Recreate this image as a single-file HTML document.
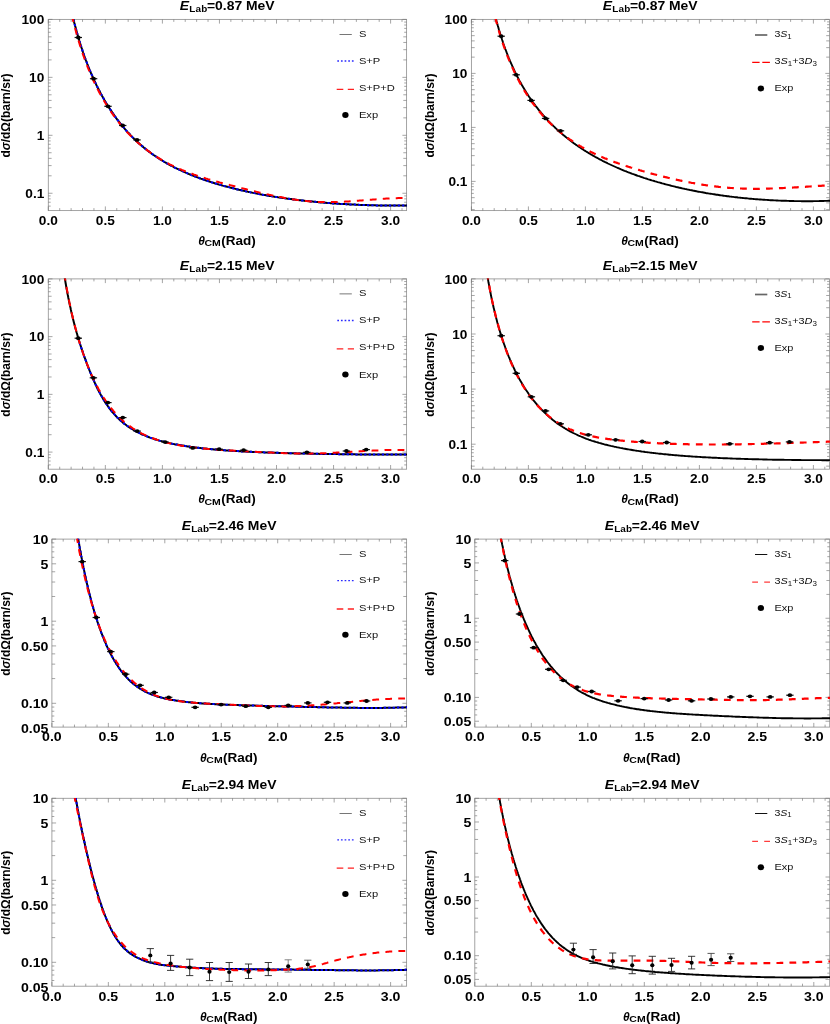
<!DOCTYPE html>
<html><head><meta charset="utf-8"><title>Differential cross sections</title>
<style>html,body{margin:0;padding:0;background:#fff}svg{display:block;will-change:transform;font-family:'Liberation Sans', sans-serif}</style></head><body>
<svg width="830" height="1024" viewBox="0 0 830 1024">
<rect width="830" height="1024" fill="#fff"/>
<g>
<clipPath id="c11"><rect x="47.9" y="19" width="359.1" height="192"/></clipPath>
<g stroke="#949494" stroke-width="0.85" fill="none">
<rect x="48.3" y="19.4" width="358.3" height="191.2"/>
<path d="M48.3 210.6v-4.2M48.3 19.4v4.2M59.71 210.6v-2.5M59.71 19.4v2.5M71.12 210.6v-2.5M71.12 19.4v2.5M82.53 210.6v-2.5M82.53 19.4v2.5M93.94 210.6v-2.5M93.94 19.4v2.5M105.35 210.6v-4.2M105.35 19.4v4.2M116.76 210.6v-2.5M116.76 19.4v2.5M128.17 210.6v-2.5M128.17 19.4v2.5M139.58 210.6v-2.5M139.58 19.4v2.5M150.99 210.6v-2.5M150.99 19.4v2.5M162.4 210.6v-4.2M162.4 19.4v4.2M173.81 210.6v-2.5M173.81 19.4v2.5M185.22 210.6v-2.5M185.22 19.4v2.5M196.63 210.6v-2.5M196.63 19.4v2.5M208.04 210.6v-2.5M208.04 19.4v2.5M219.45 210.6v-4.2M219.45 19.4v4.2M230.86 210.6v-2.5M230.86 19.4v2.5M242.27 210.6v-2.5M242.27 19.4v2.5M253.68 210.6v-2.5M253.68 19.4v2.5M265.09 210.6v-2.5M265.09 19.4v2.5M276.5 210.6v-4.2M276.5 19.4v4.2M287.91 210.6v-2.5M287.91 19.4v2.5M299.32 210.6v-2.5M299.32 19.4v2.5M310.73 210.6v-2.5M310.73 19.4v2.5M322.14 210.6v-2.5M322.14 19.4v2.5M333.55 210.6v-4.2M333.55 19.4v4.2M344.96 210.6v-2.5M344.96 19.4v2.5M356.37 210.6v-2.5M356.37 19.4v2.5M367.78 210.6v-2.5M367.78 19.4v2.5M379.19 210.6v-2.5M379.19 19.4v2.5M390.6 210.6v-4.2M390.6 19.4v4.2M402.01 210.6v-2.5M402.01 19.4v2.5M48.3 206.11h2.4M406.6 206.11h-2.4M48.3 202.23h2.4M406.6 202.23h-2.4M48.3 198.87h2.4M406.6 198.87h-2.4M48.3 195.9h2.4M406.6 195.9h-2.4M48.3 193.25h4.2M406.6 193.25h-4.2M48.3 175.81h3.3M406.6 175.81h-3.3M48.3 165.6h3.3M406.6 165.6h-3.3M48.3 158.36h3.3M406.6 158.36h-3.3M48.3 152.74h3.3M406.6 152.74h-3.3M48.3 148.16h2.4M406.6 148.16h-2.4M48.3 144.28h2.4M406.6 144.28h-2.4M48.3 140.92h2.4M406.6 140.92h-2.4M48.3 137.95h2.4M406.6 137.95h-2.4M48.3 135.3h4.2M406.6 135.3h-4.2M48.3 117.86h3.3M406.6 117.86h-3.3M48.3 107.65h3.3M406.6 107.65h-3.3M48.3 100.41h3.3M406.6 100.41h-3.3M48.3 94.79h3.3M406.6 94.79h-3.3M48.3 90.21h2.4M406.6 90.21h-2.4M48.3 86.33h2.4M406.6 86.33h-2.4M48.3 82.97h2.4M406.6 82.97h-2.4M48.3 80h2.4M406.6 80h-2.4M48.3 77.35h4.2M406.6 77.35h-4.2M48.3 59.91h3.3M406.6 59.91h-3.3M48.3 49.7h3.3M406.6 49.7h-3.3M48.3 42.46h3.3M406.6 42.46h-3.3M48.3 36.84h3.3M406.6 36.84h-3.3M48.3 32.26h2.4M406.6 32.26h-2.4M48.3 28.38h2.4M406.6 28.38h-2.4M48.3 25.02h2.4M406.6 25.02h-2.4M48.3 22.05h2.4M406.6 22.05h-2.4M48.3 19.4h4.2M406.6 19.4h-4.2" stroke="#757575" stroke-width="0.65"/>
</g>
<g clip-path="url(#c11)" fill="none" stroke-linejoin="round">
<path d="M72.5 15.4L72.8 16.6L73.1 17.7L73.4 18.9L73.7 20.1L74.0 21.3L74.2 22.4L74.5 23.6L74.8 24.8L75.1 25.9L75.5 27.1L75.8 28.3L76.1 29.4L76.4 30.6L76.7 31.7L77.0 32.9L77.4 34.1L77.7 35.2L78.0 36.4L78.4 37.5L78.7 38.7L79.1 39.8L79.4 41.0L79.8 42.1L80.1 43.3L80.5 44.4L80.8 45.6L81.2 46.7L81.6 47.9L82.0 49.0L82.3 50.2L82.7 51.3L83.1 52.5L83.5 53.6L83.9 54.7L84.3 55.9L84.7 57.0L85.1 58.1L85.5 59.3L85.9 60.4L86.4 61.5L86.8 62.7L87.2 63.8L87.7 64.9L88.1 66.0L88.5 67.1L89.0 68.3L89.4 69.4L89.9 70.5L90.4 71.6L90.8 72.7L91.3 73.8L91.8 74.9L92.3 76.0L92.8 77.1L93.2 78.2L93.7 79.3L94.2 80.4L94.8 81.5L95.3 82.6L95.8 83.7L96.3 84.8L96.8 85.9L97.4 87.0L97.9 88.0L98.5 89.1L99.0 90.2L99.6 91.2L100.1 92.3L100.7 93.4L101.3 94.4L101.8 95.5L102.4 96.5L103.0 97.6L103.6 98.6L104.2 99.7L104.8 100.7L105.4 101.8L106.0 102.8L106.7 103.8L107.3 104.9L107.9 105.9L108.6 106.9L109.2 107.9L109.9 108.9L110.5 109.9L111.2 110.9L111.9 111.9L112.5 112.9L113.2 113.9L113.9 114.9L114.6 115.9L115.3 116.9L116.0 117.9L116.7 118.8L117.5 119.8L118.2 120.7L118.9 121.7L119.7 122.7L120.4 123.6L121.2 124.5L121.9 125.5L122.7 126.4L123.5 127.3L124.3 128.2L125.0 129.2L125.8 130.1L126.6 131.0L127.4 131.9L128.3 132.7L129.1 133.6L129.9 134.5L130.7 135.4L131.6 136.2L132.4 137.1L133.3 138.0L134.1 138.8L135.0 139.6L135.9 140.5L136.7 141.3L137.6 142.1L138.5 142.9L139.4 143.7L140.3 144.5L141.2 145.3L142.1 146.1L143.1 146.9L144.0 147.7L144.9 148.4L145.9 149.2L146.8 149.9L147.7 150.7L148.7 151.4L149.7 152.1L150.6 152.8L151.6 153.6L152.6 154.3L153.6 155.0L154.6 155.6L155.6 156.3L156.6 157.0L157.6 157.7L158.6 158.3L159.6 159.0L160.6 159.6L161.6 160.2L162.7 160.9L163.7 161.5L164.7 162.1L165.8 162.7L166.8 163.3L167.9 163.9L168.9 164.5L170.0 165.1L171.0 165.6L172.1 166.2L173.2 166.7L174.2 167.3L175.3 167.8L176.4 168.4L177.5 168.9L178.6 169.4L179.7 169.9L180.8 170.4L181.9 170.9L183.0 171.4L184.1 171.9L185.2 172.4L186.3 172.9L187.4 173.3L188.5 173.8L189.6 174.3L190.7 174.7L191.8 175.2L192.9 175.6L194.1 176.1L195.2 176.5L196.3 176.9L197.4 177.4L198.6 177.8L199.7 178.2L200.8 178.6L202.0 179.0L203.1 179.4L204.2 179.8L205.4 180.2L206.5 180.6L207.7 181.0L208.8 181.3L210.0 181.7L211.1 182.1L212.3 182.5L213.4 182.8L214.6 183.2L215.7 183.5L216.9 183.9L218.0 184.2L219.2 184.6L220.3 184.9L221.5 185.2L222.6 185.6L223.8 185.9L225.0 186.2L226.1 186.5L227.3 186.8L228.5 187.1L229.6 187.4L230.8 187.7L232.0 188.0L233.1 188.3L234.3 188.6L235.5 188.9L236.6 189.2L237.8 189.5L239.0 189.8L240.2 190.0L241.3 190.3L242.5 190.6L243.7 190.8L244.9 191.1L246.0 191.4L247.2 191.6L248.4 191.9L249.6 192.1L250.7 192.4L251.9 192.6L253.1 192.9L254.3 193.1L255.5 193.3L256.7 193.6L257.8 193.8L259.0 194.0L260.2 194.2L261.4 194.5L262.6 194.7L263.8 194.9L264.9 195.1L266.1 195.3L267.3 195.5L268.5 195.7L269.7 195.9L270.9 196.1L272.1 196.3L273.3 196.5L274.4 196.7L275.6 196.9L276.8 197.1L278.0 197.3L279.2 197.4L280.4 197.6L281.6 197.8L282.8 198.0L284.0 198.1L285.2 198.3L286.4 198.5L287.6 198.7L288.8 198.8L289.9 199.0L291.1 199.1L292.3 199.3L293.5 199.4L294.7 199.6L295.9 199.7L297.1 199.9L298.3 200.0L299.5 200.2L300.7 200.3L301.9 200.5L303.1 200.6L304.3 200.7L305.5 200.9L306.7 201.0L307.9 201.1L309.1 201.2L310.3 201.4L311.5 201.5L312.7 201.6L313.9 201.7L315.1 201.8L316.3 202.0L317.5 202.1L318.7 202.2L319.9 202.3L321.1 202.4L322.3 202.5L323.5 202.6L324.7 202.7L325.9 202.8L327.1 202.9L328.3 203.0L329.5 203.1L330.7 203.2L331.9 203.3L333.1 203.4L334.3 203.4L335.5 203.5L336.7 203.6L337.9 203.7L339.1 203.8L340.3 203.9L341.5 203.9L342.7 204.0L343.9 204.1L345.1 204.1L346.3 204.2L347.5 204.3L348.7 204.3L349.9 204.4L351.1 204.5L352.3 204.5L353.5 204.6L354.7 204.6L355.9 204.7L357.1 204.8L358.4 204.8L359.6 204.9L360.8 204.9L362.0 204.9L363.2 205.0L364.4 205.0L365.6 205.1L366.8 205.1L368.0 205.2L369.2 205.2L370.4 205.2L371.6 205.3L372.8 205.3L374.0 205.3L375.2 205.3L376.4 205.4L377.6 205.4L378.8 205.4L380.0 205.4L381.2 205.5L382.4 205.5L383.6 205.5L384.8 205.5L386.1 205.5L387.3 205.5L388.5 205.5L389.7 205.6L390.9 205.6L392.1 205.6L393.3 205.6L394.5 205.6L395.7 205.6L396.9 205.6L398.1 205.6L399.3 205.6L400.5 205.6L401.7 205.6L402.9 205.5L404.1 205.5L405.3 205.5L406.5 205.5L407.7 205.5" stroke="#000" stroke-width="2.0"/>
<path d="M72.5 15.4L72.8 16.6L73.1 17.7L73.4 18.9L73.7 20.1L74.0 21.3L74.2 22.4L74.5 23.6L74.8 24.8L75.1 25.9L75.5 27.1L75.8 28.3L76.1 29.4L76.4 30.6L76.7 31.7L77.0 32.9L77.4 34.1L77.7 35.2L78.0 36.4L78.4 37.5L78.7 38.7L79.1 39.8L79.4 41.0L79.8 42.1L80.1 43.3L80.5 44.4L80.8 45.6L81.2 46.7L81.6 47.9L82.0 49.0L82.3 50.2L82.7 51.3L83.1 52.5L83.5 53.6L83.9 54.7L84.3 55.9L84.7 57.0L85.1 58.1L85.5 59.3L85.9 60.4L86.4 61.5L86.8 62.7L87.2 63.8L87.7 64.9L88.1 66.0L88.5 67.1L89.0 68.3L89.4 69.4L89.9 70.5L90.4 71.6L90.8 72.7L91.3 73.8L91.8 74.9L92.3 76.0L92.8 77.1L93.2 78.2L93.7 79.3L94.2 80.4L94.8 81.5L95.3 82.6L95.8 83.7L96.3 84.8L96.8 85.9L97.4 87.0L97.9 88.0L98.5 89.1L99.0 90.2L99.6 91.2L100.1 92.3L100.7 93.4L101.3 94.4L101.8 95.5L102.4 96.5L103.0 97.6L103.6 98.6L104.2 99.7L104.8 100.7L105.4 101.8L106.0 102.8L106.7 103.8L107.3 104.9L107.9 105.9L108.6 106.9L109.2 107.9L109.9 108.9L110.5 109.9L111.2 110.9L111.9 111.9L112.5 112.9L113.2 113.9L113.9 114.9L114.6 115.9L115.3 116.9L116.0 117.9L116.7 118.8L117.5 119.8L118.2 120.7L118.9 121.7L119.7 122.7L120.4 123.6L121.2 124.5L121.9 125.5L122.7 126.4L123.5 127.3L124.3 128.2L125.0 129.2L125.8 130.1L126.6 131.0L127.4 131.9L128.3 132.7L129.1 133.6L129.9 134.5L130.7 135.4L131.6 136.2L132.4 137.1L133.3 138.0L134.1 138.8L135.0 139.6L135.9 140.5L136.7 141.3L137.6 142.1L138.5 142.9L139.4 143.7L140.3 144.5L141.2 145.3L142.1 146.1L143.1 146.9L144.0 147.7L144.9 148.4L145.9 149.2L146.8 149.9L147.7 150.7L148.7 151.4L149.7 152.1L150.6 152.8L151.6 153.6L152.6 154.3L153.6 155.0L154.6 155.6L155.6 156.3L156.6 157.0L157.6 157.7L158.6 158.3L159.6 159.0L160.6 159.6L161.6 160.2L162.7 160.9L163.7 161.5L164.7 162.1L165.8 162.7L166.8 163.3L167.9 163.9L168.9 164.5L170.0 165.1L171.0 165.6L172.1 166.2L173.2 166.7L174.2 167.3L175.3 167.8L176.4 168.4L177.5 168.9L178.6 169.4L179.7 169.9L180.8 170.4L181.9 170.9L183.0 171.4L184.1 171.9L185.2 172.4L186.3 172.9L187.4 173.3L188.5 173.8L189.6 174.3L190.7 174.7L191.8 175.2L192.9 175.6L194.1 176.1L195.2 176.5L196.3 176.9L197.4 177.4L198.6 177.8L199.7 178.2L200.8 178.6L202.0 179.0L203.1 179.4L204.2 179.8L205.4 180.2L206.5 180.6L207.7 181.0L208.8 181.3L210.0 181.7L211.1 182.1L212.3 182.5L213.4 182.8L214.6 183.2L215.7 183.5L216.9 183.9L218.0 184.2L219.2 184.6L220.3 184.9L221.5 185.2L222.6 185.6L223.8 185.9L225.0 186.2L226.1 186.5L227.3 186.8L228.5 187.1L229.6 187.4L230.8 187.7L232.0 188.0L233.1 188.3L234.3 188.6L235.5 188.9L236.6 189.2L237.8 189.5L239.0 189.8L240.2 190.0L241.3 190.3L242.5 190.6L243.7 190.8L244.9 191.1L246.0 191.4L247.2 191.6L248.4 191.9L249.6 192.1L250.7 192.4L251.9 192.6L253.1 192.9L254.3 193.1L255.5 193.3L256.7 193.6L257.8 193.8L259.0 194.0L260.2 194.2L261.4 194.5L262.6 194.7L263.8 194.9L264.9 195.1L266.1 195.3L267.3 195.5L268.5 195.7L269.7 195.9L270.9 196.1L272.1 196.3L273.3 196.5L274.4 196.7L275.6 196.9L276.8 197.1L278.0 197.3L279.2 197.4L280.4 197.6L281.6 197.8L282.8 198.0L284.0 198.1L285.2 198.3L286.4 198.5L287.6 198.7L288.8 198.8L289.9 199.0L291.1 199.1L292.3 199.3L293.5 199.4L294.7 199.6L295.9 199.7L297.1 199.9L298.3 200.0L299.5 200.2L300.7 200.3L301.9 200.5L303.1 200.6L304.3 200.7L305.5 200.9L306.7 201.0L307.9 201.1L309.1 201.2L310.3 201.4L311.5 201.5L312.7 201.6L313.9 201.7L315.1 201.8L316.3 202.0L317.5 202.1L318.7 202.2L319.9 202.3L321.1 202.4L322.3 202.5L323.5 202.6L324.7 202.7L325.9 202.8L327.1 202.9L328.3 203.0L329.5 203.1L330.7 203.2L331.9 203.3L333.1 203.4L334.3 203.4L335.5 203.5L336.7 203.6L337.9 203.7L339.1 203.8L340.3 203.9L341.5 203.9L342.7 204.0L343.9 204.1L345.1 204.1L346.3 204.2L347.5 204.3L348.7 204.3L349.9 204.4L351.1 204.5L352.3 204.5L353.5 204.6L354.7 204.6L355.9 204.7L357.1 204.8L358.4 204.8L359.6 204.9L360.8 204.9L362.0 204.9L363.2 205.0L364.4 205.0L365.6 205.1L366.8 205.1L368.0 205.2L369.2 205.2L370.4 205.2L371.6 205.3L372.8 205.3L374.0 205.3L375.2 205.3L376.4 205.4L377.6 205.4L378.8 205.4L380.0 205.4L381.2 205.5L382.4 205.5L383.6 205.5L384.8 205.5L386.1 205.5L387.3 205.5L388.5 205.5L389.7 205.6L390.9 205.6L392.1 205.6L393.3 205.6L394.5 205.6L395.7 205.6L396.9 205.6L398.1 205.6L399.3 205.6L400.5 205.6L401.7 205.6L402.9 205.5L404.1 205.5L405.3 205.5L406.5 205.5L407.7 205.5" stroke="#0000ff" stroke-width="2.0" stroke-dasharray="2.2 2.2"/>
<path d="M71.9 15.4L72.1 16.6L72.4 17.7L72.7 18.9L73.0 20.1L73.3 21.2L73.6 22.4L73.9 23.6L74.2 24.8L74.5 25.9L74.8 27.1L75.1 28.3L75.4 29.4L75.7 30.6L76.0 31.7L76.3 32.9L76.6 34.1L77.0 35.2L77.3 36.4L77.6 37.5L78.0 38.7L78.3 39.9L78.7 41.0L79.0 42.2L79.4 43.3L79.7 44.5L80.1 45.6L80.4 46.8L80.8 47.9L81.2 49.1L81.6 50.2L81.9 51.3L82.3 52.5L82.7 53.6L83.1 54.8L83.5 55.9L83.9 57.0L84.3 58.2L84.7 59.3L85.1 60.4L85.6 61.6L86.0 62.7L86.4 63.8L86.8 64.9L87.3 66.1L87.7 67.2L88.2 68.3L88.6 69.4L89.1 70.5L89.5 71.7L90.0 72.8L90.5 73.9L91.0 75.0L91.4 76.1L91.9 77.2L92.4 78.3L92.9 79.4L93.4 80.5L93.9 81.6L94.4 82.7L95.0 83.8L95.5 84.8L96.0 85.9L96.5 87.0L97.1 88.1L97.6 89.2L98.2 90.2L98.7 91.3L99.3 92.4L99.9 93.4L100.4 94.5L101.0 95.5L101.6 96.6L102.2 97.6L102.8 98.7L103.4 99.7L104.0 100.8L104.6 101.8L105.2 102.8L105.9 103.9L106.5 104.9L107.1 105.9L107.8 106.9L108.4 108.0L109.1 109.0L109.8 110.0L110.4 111.0L111.1 112.0L111.8 113.0L112.5 113.9L113.2 114.9L113.9 115.9L114.6 116.9L115.3 117.9L116.0 118.8L116.7 119.8L117.5 120.7L118.2 121.7L119.0 122.6L119.7 123.6L120.5 124.5L121.3 125.4L122.0 126.4L122.8 127.3L123.6 128.2L124.4 129.1L125.2 130.0L126.0 130.9L126.8 131.8L127.6 132.7L128.5 133.5L129.3 134.4L130.1 135.3L131.0 136.1L131.8 137.0L132.7 137.8L133.6 138.7L134.4 139.5L135.3 140.3L136.2 141.1L137.1 141.9L138.0 142.7L138.9 143.5L139.8 144.3L140.7 145.1L141.7 145.9L142.6 146.6L143.5 147.4L144.5 148.1L145.4 148.9L146.4 149.6L147.3 150.3L148.3 151.1L149.3 151.8L150.3 152.5L151.2 153.2L152.2 153.9L153.2 154.5L154.2 155.2L155.2 155.9L156.2 156.5L157.3 157.2L158.3 157.8L159.3 158.4L160.3 159.1L161.4 159.7L162.4 160.3L163.5 160.9L164.5 161.5L165.6 162.1L166.6 162.6L167.7 163.2L168.8 163.8L169.8 164.3L170.9 164.8L172.0 165.4L173.1 165.9L174.2 166.4L175.3 166.9L176.3 167.4L177.4 167.9L178.5 168.4L179.6 168.9L180.8 169.4L181.9 169.9L183.0 170.3L184.1 170.8L185.2 171.2L186.3 171.7L187.5 172.1L188.6 172.6L189.7 173.0L190.8 173.4L192.0 173.8L193.1 174.2L194.2 174.6L195.4 175.0L196.5 175.4L197.7 175.8L198.8 176.2L199.9 176.6L201.1 176.9L202.2 177.3L203.4 177.7L204.5 178.0L205.7 178.4L206.8 178.7L208.0 179.1L209.1 179.4L210.3 179.8L211.5 180.1L212.6 180.4L213.8 180.8L214.9 181.1L216.1 181.4L217.3 181.7L218.4 182.0L219.6 182.4L220.7 182.7L221.9 183.0L223.1 183.3L224.2 183.6L225.4 183.9L226.6 184.2L227.7 184.5L228.9 184.8L230.1 185.1L231.2 185.4L232.4 185.7L233.6 186.0L234.7 186.3L235.9 186.6L237.1 186.9L238.2 187.2L239.4 187.5L240.6 187.8L241.7 188.1L242.9 188.4L244.1 188.7L245.2 189.0L246.4 189.3L247.6 189.6L248.8 189.9L249.9 190.2L251.1 190.5L252.3 190.8L253.4 191.1L254.6 191.3L255.8 191.6L256.9 191.9L258.1 192.2L259.3 192.5L260.5 192.7L261.6 193.0L262.8 193.3L264.0 193.6L265.2 193.8L266.3 194.1L267.5 194.4L268.7 194.6L269.9 194.9L271.0 195.1L272.2 195.4L273.4 195.6L274.6 195.9L275.8 196.1L276.9 196.4L278.1 196.6L279.3 196.9L280.5 197.1L281.7 197.3L282.8 197.5L284.0 197.8L285.2 198.0L286.4 198.2L287.6 198.4L288.8 198.6L290.0 198.8L291.2 199.0L292.3 199.2L293.5 199.4L294.7 199.5L295.9 199.7L297.1 199.9L298.3 200.1L299.5 200.2L300.7 200.4L301.9 200.5L303.1 200.7L304.3 200.8L305.5 200.9L306.7 201.1L307.9 201.2L309.1 201.3L310.3 201.4L311.5 201.5L312.7 201.6L313.9 201.7L315.1 201.7L316.3 201.8L317.5 201.9L318.7 201.9L319.9 202.0L321.1 202.0L322.3 202.1L323.5 202.1L324.7 202.1L325.9 202.1L327.1 202.1L328.3 202.1L329.5 202.1L330.7 202.1L332.0 202.1L333.2 202.1L334.4 202.1L335.6 202.0L336.8 202.0L338.0 201.9L339.2 201.9L340.4 201.8L341.6 201.8L342.8 201.7L344.0 201.7L345.2 201.6L346.4 201.5L347.6 201.5L348.8 201.4L350.0 201.3L351.2 201.2L352.4 201.1L353.6 201.1L354.8 201.0L356.0 200.9L357.2 200.8L358.4 200.7L359.6 200.6L360.8 200.5L362.0 200.4L363.2 200.3L364.4 200.2L365.6 200.1L366.8 200.0L368.0 199.9L369.2 199.8L370.4 199.8L371.6 199.7L372.8 199.6L374.0 199.5L375.2 199.4L376.4 199.3L377.6 199.2L378.8 199.1L380.0 199.0L381.3 198.9L382.5 198.9L383.7 198.8L384.9 198.7L386.1 198.6L387.3 198.6L388.5 198.5L389.7 198.4L390.9 198.4L392.1 198.3L393.3 198.3L394.5 198.2L395.7 198.2L396.9 198.2L398.1 198.1L399.3 198.1L400.5 198.1L401.7 198.1L402.9 198.1L404.1 198.0L405.3 198.1L406.5 198.1L407.7 198.1" stroke="#ff0000" stroke-width="2.0" stroke-dasharray="6.8 6.2"/>
</g>
<g stroke="#222" stroke-width="0.9" fill="#000">
<path d="M74.6 37.5H82" stroke="#111" stroke-width="1.2"/>
<ellipse cx="78.3" cy="37.5" rx="2.3" ry="1.9" stroke="none"/>
<path d="M89.9 78.7H97.3" stroke="#111" stroke-width="1.2"/>
<ellipse cx="93.6" cy="78.7" rx="2.3" ry="1.9" stroke="none"/>
<path d="M104.3 106.3H111.7" stroke="#111" stroke-width="1.2"/>
<ellipse cx="108" cy="106.3" rx="2.3" ry="1.9" stroke="none"/>
<path d="M119 125.5H126.4" stroke="#111" stroke-width="1.2"/>
<ellipse cx="122.7" cy="125.5" rx="2.3" ry="1.9" stroke="none"/>
<path d="M133.3 139.9H140.7" stroke="#111" stroke-width="1.2"/>
<ellipse cx="137" cy="139.9" rx="2.3" ry="1.9" stroke="none"/>
</g>
<text transform="translate(48.3 224.6) scale(1.14 1)" font-size="12.0" font-weight="bold" font-style="normal" text-anchor="middle" fill="#000">0.0</text>
<text transform="translate(105.35 224.6) scale(1.14 1)" font-size="12.0" font-weight="bold" font-style="normal" text-anchor="middle" fill="#000">0.5</text>
<text transform="translate(162.4 224.6) scale(1.14 1)" font-size="12.0" font-weight="bold" font-style="normal" text-anchor="middle" fill="#000">1.0</text>
<text transform="translate(219.45 224.6) scale(1.14 1)" font-size="12.0" font-weight="bold" font-style="normal" text-anchor="middle" fill="#000">1.5</text>
<text transform="translate(276.5 224.6) scale(1.14 1)" font-size="12.0" font-weight="bold" font-style="normal" text-anchor="middle" fill="#000">2.0</text>
<text transform="translate(333.55 224.6) scale(1.14 1)" font-size="12.0" font-weight="bold" font-style="normal" text-anchor="middle" fill="#000">2.5</text>
<text transform="translate(390.6 224.6) scale(1.14 1)" font-size="12.0" font-weight="bold" font-style="normal" text-anchor="middle" fill="#000">3.0</text>
<text transform="translate(44.3 24) scale(1.14 1)" font-size="12.0" font-weight="bold" font-style="normal" text-anchor="end" fill="#000">100</text>
<text transform="translate(44.3 81.95) scale(1.14 1)" font-size="12.0" font-weight="bold" font-style="normal" text-anchor="end" fill="#000">10</text>
<text transform="translate(44.3 139.9) scale(1.14 1)" font-size="12.0" font-weight="bold" font-style="normal" text-anchor="end" fill="#000">1</text>
<text transform="translate(44.3 197.85) scale(1.14 1)" font-size="12.0" font-weight="bold" font-style="normal" text-anchor="end" fill="#000">0.1</text>
<text transform="translate(179.85 10.1) scale(1.14 1)" font-size="12.2" font-weight="bold" fill="#000"><tspan font-style="italic">E</tspan><tspan font-size="8.7" dy="1.9" dx="0.2" letter-spacing="0.1">Lab</tspan><tspan dy="-1.9" dx="-0.3">=0.87 MeV</tspan></text>
<g font-size="12.2" font-weight="bold" fill="#000">
<text transform="translate(198.15 244.7) scale(0.98 1)" font-style="italic">&#952;</text>
<text transform="translate(204.55 246.3) scale(1.14 1)" font-size="9.2">CM</text>
<text transform="translate(221.25 244.7) scale(1.11 1)">(Rad)</text>
</g>
<text transform="translate(9.8 115.5) rotate(-90) scale(1 1.1)" font-size="12.0" font-weight="bold" text-anchor="middle" fill="#000">d<tspan font-style="italic">&#963;</tspan>/d&#937;(barn/sr)</text>
<path d="M339.5 34.5H351.8" stroke="#666" stroke-width="0.9"/>
<text transform="translate(358.9 36.9) scale(1.14 1)" font-size="9.8" fill="#111">S</text>
<path d="M337.3 61H353.9" stroke="#2a2aff" stroke-width="1.3" stroke-dasharray="1.7 1.95"/>
<text transform="translate(358.9 63.7) scale(1.14 1)" font-size="9.8" fill="#111">S+P</text>
<path d="M336.7 89.3h6.6m4.5 0h6.2" stroke="#ff2020" stroke-width="1.3"/>
<text transform="translate(358.9 90.8) scale(1.14 1)" font-size="9.8" fill="#111">S+P+D</text>
<ellipse cx="345.4" cy="115.1" rx="3.2" ry="3.0" fill="#000"/>
<text transform="translate(358.9 118.2) scale(1.14 1)" font-size="9.8" fill="#111">Exp</text>
</g>
<g>
<clipPath id="c12"><rect x="471" y="19" width="358.9" height="192"/></clipPath>
<g stroke="#949494" stroke-width="0.85" fill="none">
<rect x="471.4" y="19.4" width="358.1" height="191.2"/>
<path d="M471.4 210.6v-4.2M471.4 19.4v4.2M482.8 210.6v-2.5M482.8 19.4v2.5M494.2 210.6v-2.5M494.2 19.4v2.5M505.6 210.6v-2.5M505.6 19.4v2.5M517 210.6v-2.5M517 19.4v2.5M528.4 210.6v-4.2M528.4 19.4v4.2M539.8 210.6v-2.5M539.8 19.4v2.5M551.2 210.6v-2.5M551.2 19.4v2.5M562.6 210.6v-2.5M562.6 19.4v2.5M574 210.6v-2.5M574 19.4v2.5M585.4 210.6v-4.2M585.4 19.4v4.2M596.8 210.6v-2.5M596.8 19.4v2.5M608.2 210.6v-2.5M608.2 19.4v2.5M619.6 210.6v-2.5M619.6 19.4v2.5M631 210.6v-2.5M631 19.4v2.5M642.4 210.6v-4.2M642.4 19.4v4.2M653.8 210.6v-2.5M653.8 19.4v2.5M665.2 210.6v-2.5M665.2 19.4v2.5M676.6 210.6v-2.5M676.6 19.4v2.5M688 210.6v-2.5M688 19.4v2.5M699.4 210.6v-4.2M699.4 19.4v4.2M710.8 210.6v-2.5M710.8 19.4v2.5M722.2 210.6v-2.5M722.2 19.4v2.5M733.6 210.6v-2.5M733.6 19.4v2.5M745 210.6v-2.5M745 19.4v2.5M756.4 210.6v-4.2M756.4 19.4v4.2M767.8 210.6v-2.5M767.8 19.4v2.5M779.2 210.6v-2.5M779.2 19.4v2.5M790.6 210.6v-2.5M790.6 19.4v2.5M802 210.6v-2.5M802 19.4v2.5M813.4 210.6v-4.2M813.4 19.4v4.2M824.8 210.6v-2.5M824.8 19.4v2.5M471.4 209.64h3.3M829.5 209.64h-3.3M471.4 202.89h3.3M829.5 202.89h-3.3M471.4 197.66h3.3M829.5 197.66h-3.3M471.4 193.38h2.4M829.5 193.38h-2.4M471.4 189.76h2.4M829.5 189.76h-2.4M471.4 186.63h2.4M829.5 186.63h-2.4M471.4 183.87h2.4M829.5 183.87h-2.4M471.4 181.4h4.2M829.5 181.4h-4.2M471.4 165.14h3.3M829.5 165.14h-3.3M471.4 155.64h3.3M829.5 155.64h-3.3M471.4 148.89h3.3M829.5 148.89h-3.3M471.4 143.66h3.3M829.5 143.66h-3.3M471.4 139.38h2.4M829.5 139.38h-2.4M471.4 135.76h2.4M829.5 135.76h-2.4M471.4 132.63h2.4M829.5 132.63h-2.4M471.4 129.87h2.4M829.5 129.87h-2.4M471.4 127.4h4.2M829.5 127.4h-4.2M471.4 111.14h3.3M829.5 111.14h-3.3M471.4 101.64h3.3M829.5 101.64h-3.3M471.4 94.89h3.3M829.5 94.89h-3.3M471.4 89.66h3.3M829.5 89.66h-3.3M471.4 85.38h2.4M829.5 85.38h-2.4M471.4 81.76h2.4M829.5 81.76h-2.4M471.4 78.63h2.4M829.5 78.63h-2.4M471.4 75.87h2.4M829.5 75.87h-2.4M471.4 73.4h4.2M829.5 73.4h-4.2M471.4 57.14h3.3M829.5 57.14h-3.3M471.4 47.64h3.3M829.5 47.64h-3.3M471.4 40.89h3.3M829.5 40.89h-3.3M471.4 35.66h3.3M829.5 35.66h-3.3M471.4 31.38h2.4M829.5 31.38h-2.4M471.4 27.76h2.4M829.5 27.76h-2.4M471.4 24.63h2.4M829.5 24.63h-2.4M471.4 21.87h2.4M829.5 21.87h-2.4M471.4 19.4h4.2M829.5 19.4h-4.2" stroke="#757575" stroke-width="0.65"/>
</g>
<g clip-path="url(#c12)" fill="none" stroke-linejoin="round">
<path d="M495.7 18.0L496.0 19.1L496.3 20.3L496.6 21.5L497.0 22.6L497.3 23.8L497.6 25.0L497.9 26.1L498.3 27.3L498.6 28.4L498.9 29.6L499.3 30.8L499.6 31.9L500.0 33.1L500.3 34.2L500.7 35.4L501.1 36.5L501.4 37.7L501.8 38.8L502.2 40.0L502.6 41.1L502.9 42.2L503.3 43.4L503.7 44.5L504.1 45.7L504.5 46.8L504.9 47.9L505.3 49.1L505.8 50.2L506.2 51.3L506.6 52.4L507.1 53.6L507.5 54.7L507.9 55.8L508.4 56.9L508.8 58.1L509.3 59.2L509.8 60.3L510.2 61.4L510.7 62.5L511.2 63.6L511.7 64.7L512.2 65.8L512.7 66.9L513.2 68.0L513.7 69.1L514.2 70.2L514.7 71.3L515.2 72.4L515.7 73.5L516.3 74.5L516.8 75.6L517.4 76.7L517.9 77.8L518.5 78.8L519.0 79.9L519.6 81.0L520.2 82.0L520.8 83.1L521.4 84.1L522.0 85.2L522.6 86.2L523.2 87.3L523.8 88.3L524.4 89.3L525.0 90.4L525.7 91.4L526.3 92.4L526.9 93.4L527.6 94.4L528.2 95.4L528.9 96.5L529.6 97.5L530.3 98.5L530.9 99.5L531.6 100.4L532.3 101.4L533.0 102.4L533.7 103.4L534.5 104.4L535.2 105.3L535.9 106.3L536.6 107.2L537.4 108.2L538.1 109.1L538.9 110.1L539.6 111.0L540.4 111.9L541.2 112.9L542.0 113.8L542.7 114.7L543.5 115.6L544.3 116.5L545.1 117.4L545.9 118.3L546.8 119.2L547.6 120.1L548.4 121.0L549.2 121.8L550.1 122.7L550.9 123.6L551.8 124.4L552.6 125.3L553.5 126.1L554.4 126.9L555.2 127.8L556.1 128.6L557.0 129.4L557.9 130.2L558.8 131.0L559.7 131.8L560.6 132.6L561.5 133.4L562.4 134.2L563.3 135.0L564.3 135.8L565.2 136.5L566.1 137.3L567.1 138.0L568.0 138.8L569.0 139.5L569.9 140.3L570.9 141.0L571.8 141.7L572.8 142.4L573.8 143.2L574.8 143.9L575.7 144.6L576.7 145.3L577.7 145.9L578.7 146.6L579.7 147.3L580.7 148.0L581.7 148.6L582.7 149.3L583.7 150.0L584.7 150.6L585.8 151.3L586.8 151.9L587.8 152.5L588.8 153.1L589.9 153.8L590.9 154.4L592.0 155.0L593.0 155.6L594.1 156.2L595.1 156.8L596.2 157.4L597.2 157.9L598.3 158.5L599.3 159.1L600.4 159.7L601.5 160.2L602.5 160.8L603.6 161.3L604.7 161.9L605.8 162.4L606.9 162.9L607.9 163.5L609.0 164.0L610.1 164.5L611.2 165.0L612.3 165.5L613.4 166.0L614.5 166.5L615.6 167.0L616.7 167.5L617.8 168.0L618.9 168.4L620.0 168.9L621.1 169.4L622.2 169.8L623.4 170.3L624.5 170.8L625.6 171.2L626.7 171.7L627.8 172.1L629.0 172.5L630.1 173.0L631.2 173.4L632.3 173.8L633.5 174.2L634.6 174.6L635.7 175.0L636.9 175.5L638.0 175.9L639.2 176.2L640.3 176.6L641.4 177.0L642.6 177.4L643.7 177.8L644.9 178.2L646.0 178.5L647.2 178.9L648.3 179.3L649.5 179.6L650.6 180.0L651.8 180.4L652.9 180.7L654.1 181.0L655.2 181.4L656.4 181.7L657.6 182.1L658.7 182.4L659.9 182.7L661.0 183.0L662.2 183.4L663.4 183.7L664.5 184.0L665.7 184.3L666.9 184.6L668.0 184.9L669.2 185.2L670.4 185.5L671.5 185.8L672.7 186.1L673.9 186.4L675.0 186.7L676.2 187.0L677.4 187.2L678.6 187.5L679.7 187.8L680.9 188.0L682.1 188.3L683.3 188.6L684.4 188.8L685.6 189.1L686.8 189.3L688.0 189.6L689.2 189.8L690.3 190.1L691.5 190.3L692.7 190.5L693.9 190.8L695.1 191.0L696.3 191.2L697.4 191.5L698.6 191.7L699.8 191.9L701.0 192.1L702.2 192.3L703.4 192.5L704.6 192.7L705.7 193.0L706.9 193.2L708.1 193.4L709.3 193.6L710.5 193.7L711.7 193.9L712.9 194.1L714.1 194.3L715.3 194.5L716.5 194.7L717.7 194.8L718.8 195.0L720.0 195.2L721.2 195.4L722.4 195.5L723.6 195.7L724.8 195.9L726.0 196.0L727.2 196.2L728.4 196.3L729.6 196.5L730.8 196.6L732.0 196.8L733.2 196.9L734.4 197.1L735.6 197.2L736.8 197.3L738.0 197.5L739.2 197.6L740.4 197.7L741.6 197.9L742.8 198.0L744.0 198.1L745.2 198.2L746.4 198.3L747.6 198.4L748.8 198.6L750.0 198.7L751.2 198.8L752.4 198.9L753.6 199.0L754.8 199.1L756.0 199.2L757.2 199.3L758.4 199.4L759.6 199.5L760.8 199.5L762.0 199.6L763.2 199.7L764.4 199.8L765.6 199.9L766.8 199.9L768.0 200.0L769.2 200.1L770.4 200.2L771.6 200.2L772.8 200.3L774.0 200.4L775.2 200.4L776.4 200.5L777.6 200.5L778.8 200.6L780.1 200.6L781.3 200.7L782.5 200.7L783.7 200.8L784.9 200.8L786.1 200.8L787.3 200.9L788.5 200.9L789.7 201.0L790.9 201.0L792.1 201.0L793.3 201.0L794.5 201.1L795.7 201.1L796.9 201.1L798.1 201.1L799.3 201.1L800.5 201.1L801.7 201.2L803.0 201.2L804.2 201.2L805.4 201.2L806.6 201.2L807.8 201.2L809.0 201.2L810.2 201.2L811.4 201.2L812.6 201.2L813.8 201.1L815.0 201.1L816.2 201.1L817.4 201.1L818.6 201.1L819.8 201.0L821.0 201.0L822.2 201.0L823.5 201.0L824.7 200.9L825.9 200.9L827.1 200.9L828.3 200.8L829.5 200.8L830.7 200.8" stroke="#000" stroke-width="1.9"/>
<path d="M495.3 17.8L495.6 18.9L495.9 20.1L496.2 21.3L496.5 22.4L496.9 23.6L497.2 24.8L497.5 25.9L497.8 27.1L498.1 28.2L498.5 29.4L498.8 30.6L499.2 31.7L499.5 32.9L499.8 34.0L500.2 35.2L500.6 36.3L500.9 37.5L501.3 38.6L501.7 39.8L502.0 40.9L502.4 42.0L502.8 43.2L503.2 44.3L503.6 45.5L504.0 46.6L504.4 47.7L504.8 48.9L505.2 50.0L505.6 51.1L506.0 52.3L506.5 53.4L506.9 54.5L507.3 55.6L507.8 56.8L508.2 57.9L508.7 59.0L509.1 60.1L509.6 61.2L510.1 62.3L510.5 63.4L511.0 64.5L511.5 65.6L512.0 66.8L512.5 67.8L513.0 68.9L513.5 70.0L514.0 71.1L514.5 72.2L515.0 73.3L515.6 74.4L516.1 75.5L516.6 76.5L517.2 77.6L517.7 78.7L518.3 79.7L518.9 80.8L519.4 81.9L520.0 82.9L520.6 84.0L521.2 85.0L521.8 86.1L522.4 87.1L523.0 88.2L523.6 89.2L524.2 90.2L524.8 91.3L525.5 92.3L526.1 93.3L526.8 94.3L527.4 95.3L528.1 96.3L528.8 97.3L529.4 98.3L530.1 99.3L530.8 100.3L531.5 101.3L532.2 102.3L532.9 103.3L533.6 104.2L534.3 105.2L535.1 106.1L535.8 107.1L536.5 108.1L537.3 109.0L538.1 109.9L538.8 110.9L539.6 111.8L540.4 112.7L541.2 113.6L541.9 114.5L542.7 115.4L543.5 116.3L544.4 117.2L545.2 118.1L546.0 119.0L546.8 119.9L547.7 120.7L548.5 121.6L549.4 122.4L550.2 123.3L551.1 124.1L552.0 124.9L552.8 125.8L553.7 126.6L554.6 127.4L555.5 128.2L556.4 129.0L557.3 129.8L558.2 130.6L559.2 131.3L560.1 132.1L561.0 132.9L562.0 133.6L562.9 134.4L563.9 135.1L564.8 135.8L565.8 136.5L566.8 137.3L567.7 138.0L568.7 138.7L569.7 139.4L570.7 140.0L571.7 140.7L572.7 141.4L573.7 142.1L574.7 142.7L575.7 143.4L576.7 144.0L577.8 144.6L578.8 145.3L579.8 145.9L580.9 146.5L581.9 147.1L583.0 147.7L584.0 148.3L585.1 148.9L586.1 149.4L587.2 150.0L588.3 150.6L589.3 151.1L590.4 151.7L591.5 152.2L592.6 152.7L593.6 153.3L594.7 153.8L595.8 154.3L596.9 154.8L598.0 155.3L599.1 155.8L600.2 156.3L601.3 156.8L602.4 157.2L603.5 157.7L604.6 158.2L605.8 158.6L606.9 159.1L608.0 159.5L609.1 160.0L610.2 160.4L611.4 160.8L612.5 161.3L613.6 161.7L614.7 162.1L615.9 162.5L617.0 162.9L618.1 163.3L619.3 163.7L620.4 164.1L621.6 164.5L622.7 164.9L623.8 165.3L625.0 165.6L626.1 166.0L627.3 166.4L628.4 166.8L629.6 167.1L630.7 167.5L631.9 167.8L633.0 168.2L634.2 168.6L635.3 168.9L636.5 169.3L637.6 169.6L638.8 169.9L639.9 170.3L641.1 170.6L642.3 171.0L643.4 171.3L644.6 171.6L645.7 171.9L646.9 172.3L648.1 172.6L649.2 172.9L650.4 173.2L651.5 173.6L652.7 173.9L653.9 174.2L655.0 174.5L656.2 174.8L657.4 175.1L658.5 175.4L659.7 175.7L660.9 176.0L662.0 176.3L663.2 176.6L664.4 176.9L665.5 177.2L666.7 177.4L667.9 177.7L669.0 178.0L670.2 178.3L671.4 178.6L672.6 178.8L673.7 179.1L674.9 179.4L676.1 179.6L677.3 179.9L678.4 180.1L679.6 180.4L680.8 180.6L682.0 180.9L683.2 181.1L684.3 181.4L685.5 181.6L686.7 181.8L687.9 182.1L689.1 182.3L690.2 182.5L691.4 182.8L692.6 183.0L693.8 183.2L695.0 183.4L696.2 183.6L697.4 183.8L698.5 184.0L699.7 184.2L700.9 184.4L702.1 184.6L703.3 184.8L704.5 185.0L705.7 185.2L706.9 185.3L708.1 185.5L709.3 185.7L710.5 185.8L711.6 186.0L712.8 186.1L714.0 186.3L715.2 186.4L716.4 186.6L717.6 186.7L718.8 186.9L720.0 187.0L721.2 187.1L722.4 187.2L723.6 187.4L724.8 187.5L726.0 187.6L727.2 187.7L728.4 187.8L729.6 187.9L730.8 188.0L732.0 188.0L733.2 188.1L734.4 188.2L735.6 188.3L736.8 188.3L738.0 188.4L739.2 188.4L740.4 188.5L741.6 188.5L742.8 188.6L744.1 188.6L745.3 188.6L746.5 188.7L747.7 188.7L748.9 188.7L750.1 188.7L751.3 188.8L752.5 188.8L753.7 188.8L754.9 188.8L756.1 188.8L757.3 188.8L758.5 188.8L759.7 188.8L760.9 188.7L762.1 188.7L763.3 188.7L764.5 188.7L765.7 188.7L766.9 188.6L768.1 188.6L769.3 188.6L770.5 188.5L771.8 188.5L773.0 188.5L774.2 188.4L775.4 188.4L776.6 188.3L777.8 188.3L779.0 188.2L780.2 188.2L781.4 188.1L782.6 188.1L783.8 188.0L785.0 187.9L786.2 187.9L787.4 187.8L788.6 187.8L789.8 187.7L791.0 187.6L792.2 187.6L793.4 187.5L794.6 187.4L795.8 187.3L797.0 187.3L798.2 187.2L799.4 187.1L800.6 187.1L801.8 187.0L803.0 186.9L804.2 186.8L805.4 186.8L806.6 186.7L807.8 186.6L809.0 186.5L810.2 186.5L811.4 186.4L812.6 186.3L813.8 186.2L815.0 186.2L816.3 186.1L817.5 186.0L818.7 185.9L819.9 185.9L821.1 185.8L822.3 185.7L823.5 185.6L824.7 185.6L825.9 185.5L827.1 185.4L828.3 185.4L829.5 185.3L830.7 185.3" stroke="#ff0000" stroke-width="2.2" stroke-dasharray="6.8 6.2"/>
</g>
<g stroke="#222" stroke-width="0.9" fill="#000">
<path d="M497.5 36.2H504.9" stroke="#111" stroke-width="1.2"/>
<ellipse cx="501.2" cy="36.2" rx="2.3" ry="1.9" stroke="none"/>
<path d="M512.5 74.8H519.9" stroke="#111" stroke-width="1.2"/>
<ellipse cx="516.2" cy="74.8" rx="2.3" ry="1.9" stroke="none"/>
<path d="M527.4 100.4H534.8" stroke="#111" stroke-width="1.2"/>
<ellipse cx="531.1" cy="100.4" rx="2.3" ry="1.9" stroke="none"/>
<path d="M541.9 118.4H549.3" stroke="#111" stroke-width="1.2"/>
<ellipse cx="545.6" cy="118.4" rx="2.3" ry="1.9" stroke="none"/>
<path d="M556.8 130.8H564.2" stroke="#111" stroke-width="1.2"/>
<ellipse cx="560.5" cy="130.8" rx="2.3" ry="1.9" stroke="none"/>
</g>
<text transform="translate(471.4 224.6) scale(1.14 1)" font-size="12.0" font-weight="bold" font-style="normal" text-anchor="middle" fill="#000">0.0</text>
<text transform="translate(528.4 224.6) scale(1.14 1)" font-size="12.0" font-weight="bold" font-style="normal" text-anchor="middle" fill="#000">0.5</text>
<text transform="translate(585.4 224.6) scale(1.14 1)" font-size="12.0" font-weight="bold" font-style="normal" text-anchor="middle" fill="#000">1.0</text>
<text transform="translate(642.4 224.6) scale(1.14 1)" font-size="12.0" font-weight="bold" font-style="normal" text-anchor="middle" fill="#000">1.5</text>
<text transform="translate(699.4 224.6) scale(1.14 1)" font-size="12.0" font-weight="bold" font-style="normal" text-anchor="middle" fill="#000">2.0</text>
<text transform="translate(756.4 224.6) scale(1.14 1)" font-size="12.0" font-weight="bold" font-style="normal" text-anchor="middle" fill="#000">2.5</text>
<text transform="translate(813.4 224.6) scale(1.14 1)" font-size="12.0" font-weight="bold" font-style="normal" text-anchor="middle" fill="#000">3.0</text>
<text transform="translate(467.4 24) scale(1.14 1)" font-size="12.0" font-weight="bold" font-style="normal" text-anchor="end" fill="#000">100</text>
<text transform="translate(467.4 78) scale(1.14 1)" font-size="12.0" font-weight="bold" font-style="normal" text-anchor="end" fill="#000">10</text>
<text transform="translate(467.4 132) scale(1.14 1)" font-size="12.0" font-weight="bold" font-style="normal" text-anchor="end" fill="#000">1</text>
<text transform="translate(467.4 186) scale(1.14 1)" font-size="12.0" font-weight="bold" font-style="normal" text-anchor="end" fill="#000">0.1</text>
<text transform="translate(602.85 10.1) scale(1.14 1)" font-size="12.2" font-weight="bold" fill="#000"><tspan font-style="italic">E</tspan><tspan font-size="8.7" dy="1.9" dx="0.2" letter-spacing="0.1">Lab</tspan><tspan dy="-1.9" dx="-0.3">=0.87 MeV</tspan></text>
<g font-size="12.2" font-weight="bold" fill="#000">
<text transform="translate(621.15 244.7) scale(0.98 1)" font-style="italic">&#952;</text>
<text transform="translate(627.55 246.3) scale(1.14 1)" font-size="9.2">CM</text>
<text transform="translate(644.25 244.7) scale(1.11 1)">(Rad)</text>
</g>
<text transform="translate(433.5 115.5) rotate(-90) scale(1 1.1)" font-size="12.0" font-weight="bold" text-anchor="middle" fill="#000">d<tspan font-style="italic">&#963;</tspan>/d&#937;(barn/sr)</text>
<path d="M755 35H767.3" stroke="#666" stroke-width="1.7"/>
<text transform="translate(774.4 37.2) scale(1.14 1)" font-size="9.3" fill="#111">3<tspan font-style="italic">S</tspan><tspan font-size="6.8" dy="1.6">1</tspan></text>
<path d="M752.2 62.4h7.4m2.7 0h7.6" stroke="#ff0000" stroke-width="1.3"/>
<text transform="translate(774.4 64.4) scale(1.17 1)" font-size="9.3" fill="#111">3<tspan font-style="italic">S</tspan><tspan font-size="6.8" dy="1.6">1</tspan><tspan dy="-1.6">+3</tspan><tspan font-style="italic">D</tspan><tspan font-size="6.8" dy="1.6">3</tspan></text>
<ellipse cx="760.9" cy="88.4" rx="3.2" ry="3.0" fill="#000"/>
<text transform="translate(774.4 91.3) scale(1.14 1)" font-size="9.6" fill="#111">Exp</text>
</g>
<g>
<clipPath id="c21"><rect x="47.9" y="278.5" width="359.1" height="191.1"/></clipPath>
<g stroke="#949494" stroke-width="0.85" fill="none">
<rect x="48.3" y="278.9" width="358.3" height="190.3"/>
<path d="M48.3 469.2v-4.2M48.3 278.9v4.2M59.71 469.2v-2.5M59.71 278.9v2.5M71.12 469.2v-2.5M71.12 278.9v2.5M82.53 469.2v-2.5M82.53 278.9v2.5M93.94 469.2v-2.5M93.94 278.9v2.5M105.35 469.2v-4.2M105.35 278.9v4.2M116.76 469.2v-2.5M116.76 278.9v2.5M128.17 469.2v-2.5M128.17 278.9v2.5M139.58 469.2v-2.5M139.58 278.9v2.5M150.99 469.2v-2.5M150.99 278.9v2.5M162.4 469.2v-4.2M162.4 278.9v4.2M173.81 469.2v-2.5M173.81 278.9v2.5M185.22 469.2v-2.5M185.22 278.9v2.5M196.63 469.2v-2.5M196.63 278.9v2.5M208.04 469.2v-2.5M208.04 278.9v2.5M219.45 469.2v-4.2M219.45 278.9v4.2M230.86 469.2v-2.5M230.86 278.9v2.5M242.27 469.2v-2.5M242.27 278.9v2.5M253.68 469.2v-2.5M253.68 278.9v2.5M265.09 469.2v-2.5M265.09 278.9v2.5M276.5 469.2v-4.2M276.5 278.9v4.2M287.91 469.2v-2.5M287.91 278.9v2.5M299.32 469.2v-2.5M299.32 278.9v2.5M310.73 469.2v-2.5M310.73 278.9v2.5M322.14 469.2v-2.5M322.14 278.9v2.5M333.55 469.2v-4.2M333.55 278.9v4.2M344.96 469.2v-2.5M344.96 278.9v2.5M356.37 469.2v-2.5M356.37 278.9v2.5M367.78 469.2v-2.5M367.78 278.9v2.5M379.19 469.2v-2.5M379.19 278.9v2.5M390.6 469.2v-4.2M390.6 278.9v4.2M402.01 469.2v-2.5M402.01 278.9v2.5M48.3 464.9h2.4M406.6 464.9h-2.4M48.3 461.03h2.4M406.6 461.03h-2.4M48.3 457.68h2.4M406.6 457.68h-2.4M48.3 454.73h2.4M406.6 454.73h-2.4M48.3 452.09h4.2M406.6 452.09h-4.2M48.3 434.71h3.3M406.6 434.71h-3.3M48.3 424.55h3.3M406.6 424.55h-3.3M48.3 417.33h3.3M406.6 417.33h-3.3M48.3 411.74h3.3M406.6 411.74h-3.3M48.3 407.17h2.4M406.6 407.17h-2.4M48.3 403.3h2.4M406.6 403.3h-2.4M48.3 399.95h2.4M406.6 399.95h-2.4M48.3 397h2.4M406.6 397h-2.4M48.3 394.36h4.2M406.6 394.36h-4.2M48.3 376.98h3.3M406.6 376.98h-3.3M48.3 366.82h3.3M406.6 366.82h-3.3M48.3 359.6h3.3M406.6 359.6h-3.3M48.3 354.01h3.3M406.6 354.01h-3.3M48.3 349.44h2.4M406.6 349.44h-2.4M48.3 345.57h2.4M406.6 345.57h-2.4M48.3 342.22h2.4M406.6 342.22h-2.4M48.3 339.27h2.4M406.6 339.27h-2.4M48.3 336.63h4.2M406.6 336.63h-4.2M48.3 319.25h3.3M406.6 319.25h-3.3M48.3 309.09h3.3M406.6 309.09h-3.3M48.3 301.87h3.3M406.6 301.87h-3.3M48.3 296.28h3.3M406.6 296.28h-3.3M48.3 291.71h2.4M406.6 291.71h-2.4M48.3 287.84h2.4M406.6 287.84h-2.4M48.3 284.49h2.4M406.6 284.49h-2.4M48.3 281.54h2.4M406.6 281.54h-2.4M48.3 278.9h4.2M406.6 278.9h-4.2" stroke="#757575" stroke-width="0.65"/>
</g>
<g clip-path="url(#c21)" fill="none" stroke-linejoin="round">
<path d="M64.3 275.2L64.5 276.4L64.7 277.6L64.9 278.8L65.1 279.9L65.3 281.1L65.5 282.3L65.7 283.5L65.9 284.7L66.1 285.9L66.3 287.1L66.5 288.3L66.7 289.4L67.0 290.6L67.2 291.8L67.4 293.0L67.6 294.2L67.9 295.4L68.1 296.5L68.3 297.7L68.6 298.9L68.8 300.1L69.0 301.3L69.3 302.4L69.5 303.6L69.8 304.8L70.0 306.0L70.3 307.1L70.6 308.3L70.8 309.5L71.1 310.7L71.3 311.8L71.6 313.0L71.9 314.2L72.2 315.4L72.5 316.5L72.7 317.7L73.0 318.9L73.3 320.0L73.6 321.2L73.9 322.4L74.2 323.5L74.5 324.7L74.8 325.9L75.1 327.0L75.4 328.2L75.8 329.4L76.1 330.5L76.4 331.7L76.7 332.8L77.1 334.0L77.4 335.2L77.7 336.3L78.1 337.5L78.4 338.6L78.8 339.8L79.1 340.9L79.5 342.1L79.8 343.2L80.2 344.4L80.6 345.5L80.9 346.7L81.3 347.8L81.7 348.9L82.1 350.1L82.5 351.2L82.9 352.4L83.2 353.5L83.6 354.6L84.0 355.8L84.4 356.9L84.8 358.0L85.3 359.2L85.7 360.3L86.1 361.4L86.5 362.6L86.9 363.7L87.3 364.8L87.8 366.0L88.2 367.1L88.6 368.2L89.1 369.3L89.5 370.4L90.0 371.6L90.4 372.7L90.9 373.8L91.3 374.9L91.8 376.0L92.3 377.1L92.7 378.2L93.2 379.3L93.7 380.4L94.2 381.5L94.7 382.6L95.2 383.7L95.7 384.8L96.2 385.9L96.7 387.0L97.3 388.1L97.8 389.2L98.3 390.2L98.9 391.3L99.5 392.4L100.0 393.4L100.6 394.5L101.2 395.5L101.8 396.6L102.4 397.6L103.0 398.7L103.6 399.7L104.3 400.7L104.9 401.7L105.6 402.7L106.2 403.7L106.9 404.7L107.6 405.7L108.3 406.7L109.0 407.7L109.7 408.7L110.4 409.6L111.2 410.6L111.9 411.5L112.7 412.4L113.5 413.3L114.3 414.2L115.1 415.1L115.9 416.0L116.7 416.9L117.6 417.7L118.5 418.6L119.3 419.4L120.2 420.2L121.1 421.0L122.0 421.8L122.9 422.6L123.9 423.4L124.8 424.1L125.8 424.8L126.7 425.5L127.7 426.2L128.7 426.9L129.7 427.6L130.7 428.2L131.8 428.9L132.8 429.5L133.8 430.1L134.9 430.7L135.9 431.3L137.0 431.8L138.1 432.4L139.2 432.9L140.2 433.4L141.3 434.0L142.4 434.5L143.5 434.9L144.6 435.4L145.7 435.9L146.9 436.3L148.0 436.8L149.1 437.2L150.2 437.6L151.4 438.0L152.5 438.4L153.6 438.8L154.8 439.2L155.9 439.5L157.1 439.9L158.2 440.2L159.4 440.6L160.6 440.9L161.7 441.2L162.9 441.5L164.1 441.8L165.2 442.1L166.4 442.4L167.6 442.7L168.7 442.9L169.9 443.2L171.1 443.4L172.3 443.7L173.5 443.9L174.6 444.2L175.8 444.4L177.0 444.6L178.2 444.8L179.4 445.0L180.6 445.2L181.7 445.4L182.9 445.6L184.1 445.8L185.3 446.0L186.5 446.2L187.7 446.4L188.9 446.5L190.1 446.7L191.3 446.9L192.5 447.0L193.7 447.2L194.8 447.4L196.0 447.5L197.2 447.7L198.4 447.8L199.6 447.9L200.8 448.1L202.0 448.2L203.2 448.4L204.4 448.5L205.6 448.6L206.8 448.7L208.0 448.9L209.2 449.0L210.4 449.1L211.6 449.2L212.8 449.3L214.0 449.4L215.2 449.5L216.4 449.6L217.6 449.7L218.8 449.8L220.0 449.9L221.2 450.0L222.4 450.1L223.6 450.2L224.8 450.3L226.0 450.4L227.2 450.5L228.4 450.5L229.6 450.6L230.8 450.7L232.0 450.8L233.2 450.9L234.4 450.9L235.6 451.0L236.8 451.1L238.0 451.1L239.2 451.2L240.4 451.3L241.6 451.4L242.8 451.4L244.0 451.5L245.2 451.5L246.4 451.6L247.6 451.7L248.8 451.7L250.0 451.8L251.2 451.8L252.4 451.9L253.7 451.9L254.9 452.0L256.1 452.1L257.3 452.1L258.5 452.2L259.7 452.2L260.9 452.2L262.1 452.3L263.3 452.3L264.5 452.4L265.7 452.4L266.9 452.5L268.1 452.5L269.3 452.6L270.5 452.6L271.7 452.6L272.9 452.7L274.1 452.7L275.3 452.8L276.5 452.8L277.7 452.8L278.9 452.9L280.1 452.9L281.3 453.0L282.5 453.0L283.7 453.0L284.9 453.1L286.1 453.1L287.3 453.1L288.5 453.2L289.8 453.2L291.0 453.2L292.2 453.3L293.4 453.3L294.6 453.3L295.8 453.3L297.0 453.4L298.2 453.4L299.4 453.4L300.6 453.5L301.8 453.5L303.0 453.5L304.2 453.5L305.4 453.6L306.6 453.6L307.8 453.6L309.0 453.6L310.2 453.7L311.4 453.7L312.6 453.7L313.8 453.7L315.0 453.8L316.2 453.8L317.4 453.8L318.6 453.8L319.8 453.9L321.1 453.9L322.3 453.9L323.5 453.9L324.7 453.9L325.9 454.0L327.1 454.0L328.3 454.0L329.5 454.0L330.7 454.0L331.9 454.1L333.1 454.1L334.3 454.1L335.5 454.1L336.7 454.1L337.9 454.1L339.1 454.2L340.3 454.2L341.5 454.2L342.7 454.2L343.9 454.2L345.1 454.2L346.3 454.3L347.5 454.3L348.7 454.3L349.9 454.3L351.1 454.3L352.4 454.3L353.6 454.3L354.8 454.3L356.0 454.4L357.2 454.4L358.4 454.4L359.6 454.4L360.8 454.4L362.0 454.4L363.2 454.4L364.4 454.4L365.6 454.4L366.8 454.4L368.0 454.4L369.2 454.4L370.4 454.5L371.6 454.5L372.8 454.5L374.0 454.5L375.2 454.5L376.4 454.5L377.6 454.5L378.8 454.5L380.0 454.5L381.3 454.5L382.5 454.5L383.7 454.5L384.9 454.5L386.1 454.5L387.3 454.5L388.5 454.5L389.7 454.5L390.9 454.5L392.1 454.5L393.3 454.5L394.5 454.5L395.7 454.5L396.9 454.5L398.1 454.4L399.3 454.4L400.5 454.4L401.7 454.4L402.9 454.4L404.1 454.4L405.3 454.4L406.5 454.4L407.7 454.4" stroke="#000" stroke-width="2.0"/>
<path d="M78.4 338.6L78.8 339.8L79.1 340.9L79.5 342.1L79.8 343.2L80.2 344.4L80.6 345.5L80.9 346.7L81.3 347.8L81.7 348.9L82.1 350.1L82.5 351.2L82.9 352.4L83.2 353.5L83.6 354.6L84.0 355.8L84.4 356.9L84.8 358.0L85.3 359.2L85.7 360.3L86.1 361.4L86.5 362.6L86.9 363.7L87.3 364.8L87.8 366.0L88.2 367.1L88.6 368.2L89.1 369.3L89.5 370.4L90.0 371.6L90.4 372.7L90.9 373.8L91.3 374.9L91.8 376.0L92.3 377.1L92.7 378.2L93.2 379.3L93.7 380.4L94.2 381.5L94.7 382.6L95.2 383.7L95.7 384.8L96.2 385.9L96.7 387.0L97.3 388.1L97.8 389.2L98.3 390.2L98.9 391.3L99.5 392.4L100.0 393.4L100.6 394.5L101.2 395.5L101.8 396.6L102.4 397.6L103.0 398.7L103.6 399.7L104.3 400.7L104.9 401.7L105.6 402.7L106.2 403.7L106.9 404.7L107.6 405.7L108.3 406.7L109.0 407.7L109.7 408.7L110.4 409.6L111.2 410.6L111.9 411.5L112.7 412.4L113.5 413.3L114.3 414.2L115.1 415.1L115.9 416.0L116.7 416.9L117.6 417.7L118.5 418.6L119.3 419.4L120.2 420.2L121.1 421.0L122.0 421.8L122.9 422.6L123.9 423.4L124.8 424.1L125.8 424.8L126.7 425.5L127.7 426.2L128.7 426.9L129.7 427.6L130.7 428.2L131.8 428.9L132.8 429.5L133.8 430.1L134.9 430.7L135.9 431.3L137.0 431.8L138.1 432.4L139.2 432.9L140.2 433.4L141.3 434.0L142.4 434.5L143.5 434.9L144.6 435.4L145.7 435.9L146.9 436.3L148.0 436.8L149.1 437.2L150.2 437.6L151.4 438.0L152.5 438.4L153.6 438.8L154.8 439.2L155.9 439.5L157.1 439.9L158.2 440.2L159.4 440.6L160.6 440.9L161.7 441.2L162.9 441.5L164.1 441.8L165.2 442.1L166.4 442.4L167.6 442.7L168.7 442.9L169.9 443.2L171.1 443.4L172.3 443.7L173.5 443.9L174.6 444.2L175.8 444.4L177.0 444.6L178.2 444.8L179.4 445.0L180.6 445.2L181.7 445.4L182.9 445.6L184.1 445.8L185.3 446.0L186.5 446.2L187.7 446.4L188.9 446.5L190.1 446.7L191.3 446.9L192.5 447.0L193.7 447.2L194.8 447.4L196.0 447.5L197.2 447.7L198.4 447.8L199.6 447.9L200.8 448.1L202.0 448.2L203.2 448.4L204.4 448.5L205.6 448.6L206.8 448.7L208.0 448.9L209.2 449.0L210.4 449.1L211.6 449.2L212.8 449.3L214.0 449.4L215.2 449.5L216.4 449.6L217.6 449.7L218.8 449.8L220.0 449.9L221.2 450.0L222.4 450.1L223.6 450.2L224.8 450.3L226.0 450.4L227.2 450.5L228.4 450.5L229.6 450.6L230.8 450.7L232.0 450.8L233.2 450.9L234.4 450.9L235.6 451.0L236.8 451.1L238.0 451.1L239.2 451.2L240.4 451.3L241.6 451.4L242.8 451.4L244.0 451.5L245.2 451.5L246.4 451.6L247.6 451.7L248.8 451.7L250.0 451.8L251.2 451.8L252.4 451.9L253.7 451.9L254.9 452.0L256.1 452.1L257.3 452.1L258.5 452.2L259.7 452.2L260.9 452.2L262.1 452.3L263.3 452.3L264.5 452.4L265.7 452.4L266.9 452.5L268.1 452.5L269.3 452.6L270.5 452.6L271.7 452.6L272.9 452.7L274.1 452.7L275.3 452.8L276.5 452.8L277.7 452.8L278.9 452.9L280.1 452.9L281.3 453.0L282.5 453.0L283.7 453.0L284.9 453.1L286.1 453.1L287.3 453.1L288.5 453.2L289.8 453.2L291.0 453.2L292.2 453.3L293.4 453.3L294.6 453.3L295.8 453.3L297.0 453.4L298.2 453.4L299.4 453.4L300.6 453.5L301.8 453.5L303.0 453.5L304.2 453.5L305.4 453.6L306.6 453.6L307.8 453.6L309.0 453.6L310.2 453.7L311.4 453.7L312.6 453.7L313.8 453.7L315.0 453.8L316.2 453.8L317.4 453.8L318.6 453.8L319.8 453.9L321.1 453.9L322.3 453.9L323.5 453.9L324.7 453.9L325.9 454.0L327.1 454.0L328.3 454.0L329.5 454.0L330.7 454.0L331.9 454.1L333.1 454.1L334.3 454.1L335.5 454.1L336.7 454.1L337.9 454.1L339.1 454.2L340.3 454.2L341.5 454.2L342.7 454.2L343.9 454.2L345.1 454.2L346.3 454.3L347.5 454.3L348.7 454.3L349.9 454.3L351.1 454.3L352.4 454.3L353.6 454.3L354.8 454.3L356.0 454.4L357.2 454.4L358.4 454.4L359.6 454.4L360.8 454.4L362.0 454.4L363.2 454.4L364.4 454.4L365.6 454.4L366.8 454.4L368.0 454.4L369.2 454.4L370.4 454.5L371.6 454.5L372.8 454.5L374.0 454.5L375.2 454.5L376.4 454.5L377.6 454.5L378.8 454.5L380.0 454.5L381.3 454.5L382.5 454.5L383.7 454.5L384.9 454.5L386.1 454.5L387.3 454.5L388.5 454.5L389.7 454.5L390.9 454.5L392.1 454.5L393.3 454.5L394.5 454.5L395.7 454.5L396.9 454.5L398.1 454.4L399.3 454.4L400.5 454.4L401.7 454.4L402.9 454.4L404.1 454.4L405.3 454.4L406.5 454.4L407.7 454.4" stroke="#0000ff" stroke-width="2.0" stroke-dasharray="2.2 2.2"/>
<path d="M64.3 274.0L64.5 275.2L64.7 276.4L64.9 277.5L65.1 278.7L65.3 279.9L65.5 281.1L65.7 282.3L65.9 283.5L66.1 284.7L66.3 285.9L66.5 287.1L66.7 288.2L66.9 289.4L67.1 290.6L67.4 291.8L67.6 293.0L67.8 294.2L68.0 295.3L68.3 296.5L68.5 297.7L68.7 298.9L69.0 300.1L69.2 301.3L69.4 302.4L69.7 303.6L69.9 304.8L70.2 306.0L70.4 307.2L70.7 308.3L70.9 309.5L71.2 310.7L71.5 311.9L71.7 313.0L72.0 314.2L72.3 315.4L72.5 316.6L72.8 317.7L73.1 318.9L73.4 320.1L73.7 321.3L74.0 322.4L74.3 323.6L74.6 324.8L74.9 325.9L75.2 327.1L75.5 328.3L75.8 329.4L76.1 330.6L76.4 331.7L76.7 332.9L77.1 334.1L77.4 335.2L77.7 336.4L78.0 337.5L78.4 338.7L78.7 339.9L79.1 341.0L79.4 342.2L79.8 343.3L80.1 344.5L80.5 345.6L80.9 346.8L81.2 347.9L81.6 349.1L82.0 350.2L82.4 351.3L82.8 352.5L83.2 353.6L83.6 354.8L84.0 355.9L84.4 357.0L84.8 358.2L85.2 359.3L85.6 360.4L86.1 361.6L86.5 362.7L86.9 363.8L87.4 364.9L87.8 366.0L88.3 367.2L88.7 368.3L89.2 369.4L89.6 370.5L90.1 371.6L90.6 372.7L91.1 373.8L91.6 374.9L92.1 376.0L92.6 377.1L93.1 378.2L93.6 379.3L94.1 380.4L94.7 381.5L95.2 382.5L95.7 383.6L96.3 384.7L96.8 385.8L97.4 386.8L98.0 387.9L98.5 388.9L99.1 390.0L99.7 391.0L100.3 392.1L100.9 393.1L101.6 394.2L102.2 395.2L102.8 396.2L103.4 397.2L104.1 398.3L104.8 399.3L105.4 400.3L106.1 401.3L106.8 402.3L107.5 403.2L108.2 404.2L108.9 405.2L109.6 406.2L110.4 407.1L111.1 408.1L111.8 409.0L112.6 409.9L113.4 410.9L114.2 411.8L115.0 412.7L115.8 413.6L116.6 414.5L117.4 415.3L118.3 416.2L119.1 417.1L120.0 417.9L120.8 418.7L121.7 419.6L122.6 420.4L123.5 421.2L124.4 422.0L125.3 422.7L126.3 423.5L127.2 424.3L128.2 425.0L129.1 425.7L130.1 426.4L131.1 427.1L132.1 427.8L133.1 428.5L134.1 429.1L135.1 429.8L136.2 430.4L137.2 431.0L138.2 431.6L139.3 432.2L140.4 432.7L141.4 433.3L142.5 433.8L143.6 434.4L144.7 434.9L145.8 435.4L146.9 435.9L148.0 436.3L149.1 436.8L150.2 437.3L151.3 437.7L152.5 438.1L153.6 438.5L154.7 439.0L155.9 439.3L157.0 439.7L158.2 440.1L159.3 440.5L160.5 440.8L161.6 441.2L162.8 441.5L163.9 441.8L165.1 442.1L166.3 442.5L167.4 442.7L168.6 443.0L169.8 443.3L170.9 443.6L172.1 443.9L173.3 444.1L174.5 444.4L175.7 444.6L176.8 444.8L178.0 445.1L179.2 445.3L180.4 445.5L181.6 445.7L182.8 445.9L184.0 446.1L185.2 446.3L186.3 446.4L187.5 446.6L188.7 446.8L189.9 446.9L191.1 447.1L192.3 447.3L193.5 447.4L194.7 447.6L195.9 447.7L197.1 447.8L198.3 448.0L199.5 448.1L200.7 448.2L201.9 448.3L203.1 448.5L204.3 448.6L205.5 448.7L206.7 448.8L207.9 448.9L209.1 449.0L210.3 449.1L211.5 449.2L212.7 449.3L213.9 449.4L215.1 449.5L216.3 449.6L217.5 449.7L218.7 449.7L219.9 449.8L221.1 449.9L222.3 450.0L223.5 450.1L224.7 450.1L225.9 450.2L227.1 450.3L228.3 450.3L229.5 450.4L230.7 450.5L231.9 450.5L233.1 450.6L234.3 450.7L235.6 450.7L236.8 450.8L238.0 450.9L239.2 450.9L240.4 451.0L241.6 451.1L242.8 451.1L244.0 451.2L245.2 451.3L246.4 451.3L247.6 451.4L248.8 451.4L250.0 451.5L251.2 451.6L252.4 451.6L253.6 451.7L254.8 451.8L256.0 451.8L257.2 451.9L258.4 452.0L259.6 452.0L260.8 452.1L262.0 452.2L263.2 452.2L264.4 452.3L265.6 452.3L266.8 452.4L268.0 452.5L269.3 452.5L270.5 452.6L271.7 452.6L272.9 452.7L274.1 452.8L275.3 452.8L276.5 452.9L277.7 452.9L278.9 453.0L280.1 453.0L281.3 453.1L282.5 453.1L283.7 453.2L284.9 453.2L286.1 453.3L287.3 453.3L288.5 453.3L289.7 453.4L290.9 453.4L292.1 453.4L293.3 453.5L294.5 453.5L295.7 453.5L297.0 453.6L298.2 453.6L299.4 453.6L300.6 453.6L301.8 453.6L303.0 453.6L304.2 453.6L305.4 453.6L306.6 453.6L307.8 453.6L309.0 453.6L310.2 453.6L311.4 453.6L312.6 453.6L313.8 453.5L315.0 453.5L316.2 453.5L317.4 453.5L318.6 453.4L319.8 453.4L321.1 453.3L322.3 453.3L323.5 453.3L324.7 453.2L325.9 453.2L327.1 453.1L328.3 453.1L329.5 453.0L330.7 452.9L331.9 452.9L333.1 452.8L334.3 452.8L335.5 452.7L336.7 452.6L337.9 452.6L339.1 452.5L340.3 452.4L341.5 452.4L342.7 452.3L343.9 452.2L345.1 452.2L346.3 452.1L347.5 452.0L348.7 452.0L349.9 451.9L351.1 451.8L352.3 451.8L353.5 451.7L354.8 451.6L356.0 451.5L357.2 451.5L358.4 451.4L359.6 451.3L360.8 451.3L362.0 451.2L363.2 451.1L364.4 451.1L365.6 451.0L366.8 450.9L368.0 450.9L369.2 450.8L370.4 450.7L371.6 450.7L372.8 450.6L374.0 450.6L375.2 450.5L376.4 450.5L377.6 450.4L378.8 450.4L380.0 450.3L381.2 450.3L382.4 450.2L383.6 450.2L384.8 450.1L386.0 450.1L387.3 450.1L388.5 450.1L389.7 450.0L390.9 450.0L392.1 450.0L393.3 450.0L394.5 449.9L395.7 449.9L396.9 449.9L398.1 449.9L399.3 449.9L400.5 449.9L401.7 449.9L402.9 449.9L404.1 449.9L405.3 450.0L406.5 450.0L407.7 450.0" stroke="#ff0000" stroke-width="2.0" stroke-dasharray="6.8 6.2"/>
</g>
<g stroke="#222" stroke-width="0.9" fill="#000">
<path d="M74.6 338.2H82" stroke="#111" stroke-width="1.2"/>
<ellipse cx="78.3" cy="338.2" rx="2.3" ry="1.9" stroke="none"/>
<path d="M89.7 377.8H97.1" stroke="#111" stroke-width="1.2"/>
<ellipse cx="93.4" cy="377.8" rx="2.3" ry="1.9" stroke="none"/>
<path d="M104.2 402.6H111.6" stroke="#111" stroke-width="1.2"/>
<ellipse cx="107.9" cy="402.6" rx="2.3" ry="1.9" stroke="none"/>
<path d="M119.1 417.6H126.5" stroke="#111" stroke-width="1.2"/>
<ellipse cx="122.8" cy="417.6" rx="2.3" ry="1.9" stroke="none"/>
<path d="M133.5 431.1H140.9" stroke="#111" stroke-width="1.2"/>
<ellipse cx="137.2" cy="431.1" rx="2.3" ry="1.9" stroke="none"/>
<path d="M161.5 442.1H168.9" stroke="#111" stroke-width="1.2"/>
<ellipse cx="165.2" cy="442.1" rx="2.3" ry="1.9" stroke="none"/>
<path d="M189 447.9H196.4" stroke="#111" stroke-width="1.2"/>
<ellipse cx="192.7" cy="447.9" rx="2.3" ry="1.9" stroke="none"/>
<path d="M215.5 449.2H222.9" stroke="#111" stroke-width="1.2"/>
<ellipse cx="219.2" cy="449.2" rx="2.3" ry="1.9" stroke="none"/>
<path d="M239.9 450.2H247.3" stroke="#111" stroke-width="1.2"/>
<ellipse cx="243.6" cy="450.2" rx="2.3" ry="1.9" stroke="none"/>
<path d="M303.2 452.3H310.6" stroke="#111" stroke-width="1.2"/>
<ellipse cx="306.9" cy="452.3" rx="2.3" ry="1.9" stroke="none"/>
<path d="M342.7 451H350.1" stroke="#111" stroke-width="1.2"/>
<ellipse cx="346.4" cy="451" rx="2.3" ry="1.9" stroke="none"/>
<path d="M362.5 449.6H369.9" stroke="#111" stroke-width="1.2"/>
<ellipse cx="366.2" cy="449.6" rx="2.3" ry="1.9" stroke="none"/>
</g>
<text transform="translate(48.3 483.2) scale(1.14 1)" font-size="12.0" font-weight="bold" font-style="normal" text-anchor="middle" fill="#000">0.0</text>
<text transform="translate(105.35 483.2) scale(1.14 1)" font-size="12.0" font-weight="bold" font-style="normal" text-anchor="middle" fill="#000">0.5</text>
<text transform="translate(162.4 483.2) scale(1.14 1)" font-size="12.0" font-weight="bold" font-style="normal" text-anchor="middle" fill="#000">1.0</text>
<text transform="translate(219.45 483.2) scale(1.14 1)" font-size="12.0" font-weight="bold" font-style="normal" text-anchor="middle" fill="#000">1.5</text>
<text transform="translate(276.5 483.2) scale(1.14 1)" font-size="12.0" font-weight="bold" font-style="normal" text-anchor="middle" fill="#000">2.0</text>
<text transform="translate(333.55 483.2) scale(1.14 1)" font-size="12.0" font-weight="bold" font-style="normal" text-anchor="middle" fill="#000">2.5</text>
<text transform="translate(390.6 483.2) scale(1.14 1)" font-size="12.0" font-weight="bold" font-style="normal" text-anchor="middle" fill="#000">3.0</text>
<text transform="translate(44.3 283.5) scale(1.14 1)" font-size="12.0" font-weight="bold" font-style="normal" text-anchor="end" fill="#000">100</text>
<text transform="translate(44.3 341.23) scale(1.14 1)" font-size="12.0" font-weight="bold" font-style="normal" text-anchor="end" fill="#000">10</text>
<text transform="translate(44.3 398.96) scale(1.14 1)" font-size="12.0" font-weight="bold" font-style="normal" text-anchor="end" fill="#000">1</text>
<text transform="translate(44.3 456.69) scale(1.14 1)" font-size="12.0" font-weight="bold" font-style="normal" text-anchor="end" fill="#000">0.1</text>
<text transform="translate(179.85 269.6) scale(1.14 1)" font-size="12.2" font-weight="bold" fill="#000"><tspan font-style="italic">E</tspan><tspan font-size="8.7" dy="1.9" dx="0.2" letter-spacing="0.1">Lab</tspan><tspan dy="-1.9" dx="-0.3">=2.15 MeV</tspan></text>
<g font-size="12.2" font-weight="bold" fill="#000">
<text transform="translate(198.15 503.3) scale(0.98 1)" font-style="italic">&#952;</text>
<text transform="translate(204.55 504.9) scale(1.14 1)" font-size="9.2">CM</text>
<text transform="translate(221.25 503.3) scale(1.11 1)">(Rad)</text>
</g>
<text transform="translate(9.8 374.55) rotate(-90) scale(1 1.1)" font-size="12.0" font-weight="bold" text-anchor="middle" fill="#000">d<tspan font-style="italic">&#963;</tspan>/d&#937;(barn/sr)</text>
<path d="M339.5 293.8H351.8" stroke="#aaa" stroke-width="1.6"/>
<text transform="translate(358.9 296.2) scale(1.14 1)" font-size="9.8" fill="#111">S</text>
<path d="M337.3 320.5H353.9" stroke="#2a2aff" stroke-width="1.3" stroke-dasharray="1.7 1.95"/>
<text transform="translate(358.9 323.2) scale(1.14 1)" font-size="9.8" fill="#111">S+P</text>
<path d="M336.7 348.8h6.6m4.5 0h6.2" stroke="#ff2020" stroke-width="1.3"/>
<text transform="translate(358.9 350.3) scale(1.14 1)" font-size="9.8" fill="#111">S+P+D</text>
<ellipse cx="345.4" cy="374.6" rx="3.2" ry="3.0" fill="#000"/>
<text transform="translate(358.9 377.7) scale(1.14 1)" font-size="9.8" fill="#111">Exp</text>
</g>
<g>
<clipPath id="c22"><rect x="471" y="278.5" width="358.9" height="191.1"/></clipPath>
<g stroke="#949494" stroke-width="0.85" fill="none">
<rect x="471.4" y="278.9" width="358.1" height="190.3"/>
<path d="M471.4 469.2v-4.2M471.4 278.9v4.2M482.8 469.2v-2.5M482.8 278.9v2.5M494.2 469.2v-2.5M494.2 278.9v2.5M505.6 469.2v-2.5M505.6 278.9v2.5M517 469.2v-2.5M517 278.9v2.5M528.4 469.2v-4.2M528.4 278.9v4.2M539.8 469.2v-2.5M539.8 278.9v2.5M551.2 469.2v-2.5M551.2 278.9v2.5M562.6 469.2v-2.5M562.6 278.9v2.5M574 469.2v-2.5M574 278.9v2.5M585.4 469.2v-4.2M585.4 278.9v4.2M596.8 469.2v-2.5M596.8 278.9v2.5M608.2 469.2v-2.5M608.2 278.9v2.5M619.6 469.2v-2.5M619.6 278.9v2.5M631 469.2v-2.5M631 278.9v2.5M642.4 469.2v-4.2M642.4 278.9v4.2M653.8 469.2v-2.5M653.8 278.9v2.5M665.2 469.2v-2.5M665.2 278.9v2.5M676.6 469.2v-2.5M676.6 278.9v2.5M688 469.2v-2.5M688 278.9v2.5M699.4 469.2v-4.2M699.4 278.9v4.2M710.8 469.2v-2.5M710.8 278.9v2.5M722.2 469.2v-2.5M722.2 278.9v2.5M733.6 469.2v-2.5M733.6 278.9v2.5M745 469.2v-2.5M745 278.9v2.5M756.4 469.2v-4.2M756.4 278.9v4.2M767.8 469.2v-2.5M767.8 278.9v2.5M779.2 469.2v-2.5M779.2 278.9v2.5M790.6 469.2v-2.5M790.6 278.9v2.5M802 469.2v-2.5M802 278.9v2.5M813.4 469.2v-4.2M813.4 278.9v4.2M824.8 469.2v-2.5M824.8 278.9v2.5M471.4 466.13h3.3M829.5 466.13h-3.3M471.4 460.79h3.3M829.5 460.79h-3.3M471.4 456.42h2.4M829.5 456.42h-2.4M471.4 452.74h2.4M829.5 452.74h-2.4M471.4 449.54h2.4M829.5 449.54h-2.4M471.4 446.72h2.4M829.5 446.72h-2.4M471.4 444.2h4.2M829.5 444.2h-4.2M471.4 427.61h3.3M829.5 427.61h-3.3M471.4 417.91h3.3M829.5 417.91h-3.3M471.4 411.03h3.3M829.5 411.03h-3.3M471.4 405.69h3.3M829.5 405.69h-3.3M471.4 401.32h2.4M829.5 401.32h-2.4M471.4 397.64h2.4M829.5 397.64h-2.4M471.4 394.44h2.4M829.5 394.44h-2.4M471.4 391.62h2.4M829.5 391.62h-2.4M471.4 389.1h4.2M829.5 389.1h-4.2M471.4 372.51h3.3M829.5 372.51h-3.3M471.4 362.81h3.3M829.5 362.81h-3.3M471.4 355.93h3.3M829.5 355.93h-3.3M471.4 350.59h3.3M829.5 350.59h-3.3M471.4 346.22h2.4M829.5 346.22h-2.4M471.4 342.54h2.4M829.5 342.54h-2.4M471.4 339.34h2.4M829.5 339.34h-2.4M471.4 336.52h2.4M829.5 336.52h-2.4M471.4 334h4.2M829.5 334h-4.2M471.4 317.41h3.3M829.5 317.41h-3.3M471.4 307.71h3.3M829.5 307.71h-3.3M471.4 300.83h3.3M829.5 300.83h-3.3M471.4 295.49h3.3M829.5 295.49h-3.3M471.4 291.12h2.4M829.5 291.12h-2.4M471.4 287.44h2.4M829.5 287.44h-2.4M471.4 284.24h2.4M829.5 284.24h-2.4M471.4 281.42h2.4M829.5 281.42h-2.4M471.4 278.9h4.2M829.5 278.9h-4.2" stroke="#757575" stroke-width="0.65"/>
</g>
<g clip-path="url(#c22)" fill="none" stroke-linejoin="round">
<path d="M487.2 274.8L487.4 276.0L487.6 277.2L487.8 278.4L488.0 279.5L488.2 280.7L488.4 281.9L488.6 283.1L488.9 284.3L489.1 285.5L489.3 286.7L489.5 287.9L489.7 289.0L490.0 290.2L490.2 291.4L490.4 292.6L490.7 293.8L490.9 295.0L491.1 296.1L491.4 297.3L491.6 298.5L491.9 299.7L492.1 300.9L492.4 302.0L492.6 303.2L492.9 304.4L493.2 305.6L493.4 306.8L493.7 307.9L494.0 309.1L494.3 310.3L494.5 311.5L494.8 312.6L495.1 313.8L495.4 315.0L495.7 316.1L496.0 317.3L496.3 318.5L496.6 319.6L496.9 320.8L497.2 322.0L497.5 323.1L497.9 324.3L498.2 325.5L498.5 326.6L498.9 327.8L499.2 328.9L499.5 330.1L499.9 331.2L500.2 332.4L500.6 333.6L500.9 334.7L501.3 335.9L501.7 337.0L502.0 338.2L502.4 339.3L502.8 340.4L503.2 341.6L503.6 342.7L504.0 343.9L504.4 345.0L504.8 346.1L505.2 347.3L505.6 348.4L506.0 349.5L506.4 350.7L506.9 351.8L507.3 352.9L507.7 354.0L508.2 355.2L508.6 356.3L509.1 357.4L509.6 358.5L510.0 359.6L510.5 360.7L511.0 361.8L511.5 362.9L512.0 364.1L512.5 365.1L513.0 366.2L513.5 367.3L514.0 368.4L514.5 369.5L515.0 370.6L515.6 371.7L516.1 372.8L516.7 373.8L517.2 374.9L517.8 376.0L518.4 377.0L518.9 378.1L519.5 379.2L520.1 380.2L520.7 381.3L521.3 382.3L521.9 383.3L522.5 384.4L523.2 385.4L523.8 386.4L524.4 387.5L525.1 388.5L525.7 389.5L526.4 390.5L527.1 391.5L527.8 392.5L528.4 393.5L529.1 394.5L529.8 395.4L530.6 396.4L531.3 397.4L532.0 398.3L532.7 399.3L533.5 400.3L534.2 401.2L535.0 402.1L535.8 403.1L536.5 404.0L537.3 404.9L538.1 405.8L538.9 406.7L539.7 407.6L540.6 408.5L541.4 409.4L542.2 410.2L543.1 411.1L543.9 411.9L544.8 412.8L545.7 413.6L546.5 414.4L547.4 415.3L548.3 416.1L549.2 416.9L550.2 417.7L551.1 418.4L552.0 419.2L552.9 420.0L553.9 420.7L554.8 421.4L555.8 422.2L556.8 422.9L557.7 423.6L558.7 424.3L559.7 425.0L560.7 425.7L561.7 426.3L562.7 427.0L563.8 427.6L564.8 428.3L565.8 428.9L566.8 429.5L567.9 430.1L568.9 430.7L570.0 431.3L571.1 431.9L572.1 432.4L573.2 433.0L574.3 433.5L575.4 434.0L576.5 434.5L577.6 435.1L578.7 435.6L579.8 436.0L580.9 436.5L582.0 437.0L583.1 437.4L584.2 437.9L585.3 438.3L586.5 438.8L587.6 439.2L588.7 439.6L589.9 440.0L591.0 440.4L592.2 440.8L593.3 441.1L594.5 441.5L595.6 441.9L596.8 442.2L597.9 442.5L599.1 442.9L600.2 443.2L601.4 443.5L602.6 443.8L603.7 444.2L604.9 444.5L606.1 444.7L607.2 445.0L608.4 445.3L609.6 445.6L610.8 445.9L611.9 446.1L613.1 446.4L614.3 446.7L615.5 446.9L616.7 447.2L617.8 447.4L619.0 447.6L620.2 447.9L621.4 448.1L622.6 448.3L623.8 448.6L624.9 448.8L626.1 449.0L627.3 449.2L628.5 449.4L629.7 449.6L630.9 449.8L632.1 450.0L633.3 450.2L634.5 450.4L635.6 450.6L636.8 450.8L638.0 450.9L639.2 451.1L640.4 451.3L641.6 451.5L642.8 451.6L644.0 451.8L645.2 452.0L646.4 452.1L647.6 452.3L648.8 452.4L650.0 452.6L651.2 452.7L652.4 452.9L653.6 453.0L654.8 453.1L656.0 453.3L657.2 453.4L658.4 453.6L659.6 453.7L660.8 453.8L662.0 453.9L663.2 454.1L664.4 454.2L665.6 454.3L666.8 454.4L668.0 454.5L669.2 454.7L670.4 454.8L671.6 454.9L672.8 455.0L674.0 455.1L675.2 455.2L676.4 455.3L677.6 455.4L678.8 455.5L680.0 455.6L681.2 455.7L682.4 455.8L683.6 455.9L684.8 456.0L686.0 456.1L687.2 456.1L688.4 456.2L689.6 456.3L690.8 456.4L692.0 456.5L693.2 456.6L694.4 456.6L695.6 456.7L696.8 456.8L698.0 456.9L699.2 456.9L700.5 457.0L701.7 457.1L702.9 457.2L704.1 457.2L705.3 457.3L706.5 457.4L707.7 457.4L708.9 457.5L710.1 457.5L711.3 457.6L712.5 457.7L713.7 457.7L714.9 457.8L716.1 457.8L717.3 457.9L718.5 458.0L719.7 458.0L720.9 458.1L722.1 458.1L723.3 458.2L724.5 458.2L725.8 458.3L727.0 458.3L728.2 458.4L729.4 458.4L730.6 458.5L731.8 458.5L733.0 458.6L734.2 458.6L735.4 458.6L736.6 458.7L737.8 458.7L739.0 458.8L740.2 458.8L741.4 458.9L742.6 458.9L743.8 458.9L745.0 459.0L746.2 459.0L747.5 459.0L748.7 459.1L749.9 459.1L751.1 459.1L752.3 459.2L753.5 459.2L754.7 459.2L755.9 459.3L757.1 459.3L758.3 459.3L759.5 459.4L760.7 459.4L761.9 459.4L763.1 459.5L764.3 459.5L765.5 459.5L766.7 459.5L768.0 459.6L769.2 459.6L770.4 459.6L771.6 459.6L772.8 459.7L774.0 459.7L775.2 459.7L776.4 459.7L777.6 459.7L778.8 459.8L780.0 459.8L781.2 459.8L782.4 459.8L783.6 459.8L784.8 459.9L786.0 459.9L787.3 459.9L788.5 459.9L789.7 459.9L790.9 459.9L792.1 460.0L793.3 460.0L794.5 460.0L795.7 460.0L796.9 460.0L798.1 460.0L799.3 460.0L800.5 460.0L801.7 460.1L802.9 460.1L804.1 460.1L805.3 460.1L806.6 460.1L807.8 460.1L809.0 460.1L810.2 460.1L811.4 460.1L812.6 460.1L813.8 460.1L815.0 460.1L816.2 460.1L817.4 460.1L818.6 460.1L819.8 460.1L821.0 460.1L822.2 460.2L823.4 460.2L824.6 460.2L825.9 460.2L827.1 460.2L828.3 460.2L829.5 460.1L830.7 460.1" stroke="#000" stroke-width="1.9"/>
<path d="M487.0 272.8L487.2 274.0L487.4 275.1L487.6 276.3L487.8 277.5L488.0 278.7L488.2 279.9L488.4 281.1L488.6 282.3L488.8 283.5L489.0 284.6L489.3 285.8L489.5 287.0L489.7 288.2L489.9 289.4L490.1 290.6L490.4 291.7L490.6 292.9L490.8 294.1L491.1 295.3L491.3 296.5L491.5 297.6L491.8 298.8L492.0 300.0L492.3 301.2L492.5 302.4L492.8 303.5L493.1 304.7L493.3 305.9L493.6 307.1L493.8 308.2L494.1 309.4L494.4 310.6L494.7 311.8L495.0 312.9L495.2 314.1L495.5 315.3L495.8 316.4L496.1 317.6L496.4 318.8L496.7 319.9L497.0 321.1L497.3 322.3L497.6 323.4L498.0 324.6L498.3 325.7L498.6 326.9L498.9 328.1L499.3 329.2L499.6 330.4L499.9 331.5L500.3 332.7L500.6 333.8L501.0 335.0L501.3 336.1L501.7 337.3L502.1 338.4L502.4 339.6L502.8 340.7L503.2 341.9L503.6 343.0L504.0 344.1L504.4 345.3L504.8 346.4L505.2 347.6L505.6 348.7L506.0 349.8L506.4 350.9L506.8 352.1L507.2 353.2L507.7 354.3L508.1 355.4L508.6 356.6L509.0 357.7L509.5 358.8L509.9 359.9L510.4 361.0L510.9 362.1L511.3 363.2L511.8 364.3L512.3 365.4L512.8 366.5L513.3 367.6L513.8 368.7L514.3 369.8L514.9 370.9L515.4 372.0L515.9 373.0L516.5 374.1L517.0 375.2L517.6 376.3L518.1 377.3L518.7 378.4L519.3 379.4L519.9 380.5L520.5 381.5L521.1 382.6L521.7 383.6L522.3 384.7L522.9 385.7L523.5 386.7L524.2 387.7L524.8 388.8L525.5 389.8L526.1 390.8L526.8 391.8L527.5 392.8L528.2 393.8L528.9 394.7L529.6 395.7L530.3 396.7L531.0 397.7L531.7 398.6L532.5 399.6L533.2 400.5L534.0 401.4L534.8 402.4L535.5 403.3L536.3 404.2L537.1 405.1L537.9 406.0L538.7 406.9L539.6 407.7L540.4 408.6L541.3 409.5L542.1 410.3L543.0 411.1L543.9 412.0L544.7 412.8L545.6 413.6L546.6 414.4L547.5 415.2L548.4 415.9L549.3 416.7L550.3 417.4L551.2 418.2L552.2 418.9L553.2 419.6L554.1 420.3L555.1 421.0L556.1 421.7L557.1 422.3L558.2 423.0L559.2 423.6L560.2 424.2L561.3 424.8L562.3 425.4L563.4 426.0L564.4 426.5L565.5 427.1L566.6 427.6L567.7 428.2L568.7 428.7L569.8 429.2L570.9 429.6L572.1 430.1L573.2 430.6L574.3 431.0L575.4 431.4L576.5 431.9L577.7 432.3L578.8 432.6L580.0 433.0L581.1 433.4L582.3 433.7L583.4 434.1L584.6 434.4L585.7 434.7L586.9 435.0L588.1 435.3L589.2 435.6L590.4 435.9L591.6 436.2L592.8 436.4L593.9 436.7L595.1 436.9L596.3 437.1L597.5 437.4L598.7 437.6L599.9 437.8L601.0 438.0L602.2 438.2L603.4 438.4L604.6 438.5L605.8 438.7L607.0 438.9L608.2 439.1L609.4 439.2L610.6 439.4L611.8 439.5L613.0 439.7L614.2 439.8L615.4 439.9L616.6 440.1L617.7 440.2L618.9 440.3L620.1 440.5L621.3 440.6L622.5 440.7L623.7 440.8L624.9 440.9L626.1 441.1L627.3 441.2L628.5 441.3L629.7 441.4L630.9 441.5L632.1 441.6L633.3 441.7L634.5 441.8L635.7 441.9L636.9 442.0L638.1 442.0L639.3 442.1L640.5 442.2L641.7 442.3L642.9 442.4L644.1 442.5L645.3 442.5L646.5 442.6L647.7 442.7L648.9 442.8L650.1 442.8L651.3 442.9L652.6 443.0L653.8 443.0L655.0 443.1L656.2 443.1L657.4 443.2L658.6 443.3L659.8 443.3L661.0 443.4L662.2 443.4L663.4 443.5L664.6 443.5L665.8 443.6L667.0 443.6L668.2 443.7L669.4 443.7L670.6 443.8L671.8 443.8L673.0 443.8L674.2 443.9L675.4 443.9L676.6 444.0L677.8 444.0L679.0 444.0L680.2 444.1L681.4 444.1L682.6 444.1L683.8 444.2L685.0 444.2L686.2 444.2L687.4 444.2L688.6 444.3L689.9 444.3L691.1 444.3L692.3 444.3L693.5 444.3L694.7 444.4L695.9 444.4L697.1 444.4L698.3 444.4L699.5 444.4L700.7 444.4L701.9 444.4L703.1 444.5L704.3 444.5L705.5 444.5L706.7 444.5L707.9 444.5L709.1 444.5L710.3 444.5L711.5 444.5L712.7 444.5L713.9 444.5L715.1 444.5L716.3 444.5L717.5 444.5L718.7 444.5L720.0 444.5L721.2 444.5L722.4 444.5L723.6 444.5L724.8 444.4L726.0 444.4L727.2 444.4L728.4 444.4L729.6 444.4L730.8 444.4L732.0 444.4L733.2 444.4L734.4 444.3L735.6 444.3L736.8 444.3L738.0 444.3L739.2 444.3L740.4 444.3L741.6 444.2L742.8 444.2L744.0 444.2L745.2 444.2L746.4 444.2L747.6 444.1L748.8 444.1L750.0 444.1L751.3 444.1L752.5 444.0L753.7 444.0L754.9 444.0L756.1 443.9L757.3 443.9L758.5 443.9L759.7 443.9L760.9 443.8L762.1 443.8L763.3 443.8L764.5 443.7L765.7 443.7L766.9 443.7L768.1 443.7L769.3 443.6L770.5 443.6L771.7 443.6L772.9 443.5L774.1 443.5L775.3 443.5L776.5 443.4L777.7 443.4L778.9 443.3L780.1 443.3L781.3 443.3L782.5 443.2L783.8 443.2L785.0 443.2L786.2 443.1L787.4 443.1L788.6 443.1L789.8 443.0L791.0 443.0L792.2 442.9L793.4 442.9L794.6 442.9L795.8 442.8L797.0 442.8L798.2 442.7L799.4 442.7L800.6 442.7L801.8 442.6L803.0 442.6L804.2 442.5L805.4 442.5L806.6 442.5L807.8 442.4L809.0 442.4L810.2 442.3L811.4 442.3L812.6 442.3L813.8 442.2L815.0 442.2L816.2 442.1L817.4 442.1L818.6 442.0L819.9 442.0L821.1 442.0L822.3 441.9L823.5 441.9L824.7 441.8L825.9 441.8L827.1 441.7L828.3 441.7L829.5 441.7L830.7 441.6" stroke="#ff0000" stroke-width="2.2" stroke-dasharray="6.8 6.2"/>
</g>
<g stroke="#222" stroke-width="0.9" fill="#000">
<path d="M497.5 335.7H504.9" stroke="#111" stroke-width="1.2"/>
<ellipse cx="501.2" cy="335.7" rx="2.3" ry="1.9" stroke="none"/>
<path d="M512.6 373.3H520" stroke="#111" stroke-width="1.2"/>
<ellipse cx="516.3" cy="373.3" rx="2.3" ry="1.9" stroke="none"/>
<path d="M527.7 396.8H535.1" stroke="#111" stroke-width="1.2"/>
<ellipse cx="531.4" cy="396.8" rx="2.3" ry="1.9" stroke="none"/>
<path d="M541.8 410.9H549.2" stroke="#111" stroke-width="1.2"/>
<ellipse cx="545.5" cy="410.9" rx="2.3" ry="1.9" stroke="none"/>
<path d="M556.6 423.8H564" stroke="#111" stroke-width="1.2"/>
<ellipse cx="560.3" cy="423.8" rx="2.3" ry="1.9" stroke="none"/>
<path d="M584.6 434.8H592" stroke="#111" stroke-width="1.2"/>
<ellipse cx="588.3" cy="434.8" rx="2.3" ry="1.9" stroke="none"/>
<path d="M611.9 439.8H619.3" stroke="#111" stroke-width="1.2"/>
<ellipse cx="615.6" cy="439.8" rx="2.3" ry="1.9" stroke="none"/>
<path d="M638.5 441.5H645.9" stroke="#111" stroke-width="1.2"/>
<ellipse cx="642.2" cy="441.5" rx="2.3" ry="1.9" stroke="none"/>
<path d="M663 442.5H670.4" stroke="#111" stroke-width="1.2"/>
<ellipse cx="666.7" cy="442.5" rx="2.3" ry="1.9" stroke="none"/>
<path d="M726.1 443.8H733.5" stroke="#111" stroke-width="1.2"/>
<ellipse cx="729.8" cy="443.8" rx="2.3" ry="1.9" stroke="none"/>
<path d="M766 442.7H773.4" stroke="#111" stroke-width="1.2"/>
<ellipse cx="769.7" cy="442.7" rx="2.3" ry="1.9" stroke="none"/>
<path d="M785.8 441.9H793.2" stroke="#111" stroke-width="1.2"/>
<ellipse cx="789.5" cy="441.9" rx="2.3" ry="1.9" stroke="none"/>
</g>
<text transform="translate(471.4 483.2) scale(1.14 1)" font-size="12.0" font-weight="bold" font-style="normal" text-anchor="middle" fill="#000">0.0</text>
<text transform="translate(528.4 483.2) scale(1.14 1)" font-size="12.0" font-weight="bold" font-style="normal" text-anchor="middle" fill="#000">0.5</text>
<text transform="translate(585.4 483.2) scale(1.14 1)" font-size="12.0" font-weight="bold" font-style="normal" text-anchor="middle" fill="#000">1.0</text>
<text transform="translate(642.4 483.2) scale(1.14 1)" font-size="12.0" font-weight="bold" font-style="normal" text-anchor="middle" fill="#000">1.5</text>
<text transform="translate(699.4 483.2) scale(1.14 1)" font-size="12.0" font-weight="bold" font-style="normal" text-anchor="middle" fill="#000">2.0</text>
<text transform="translate(756.4 483.2) scale(1.14 1)" font-size="12.0" font-weight="bold" font-style="normal" text-anchor="middle" fill="#000">2.5</text>
<text transform="translate(813.4 483.2) scale(1.14 1)" font-size="12.0" font-weight="bold" font-style="normal" text-anchor="middle" fill="#000">3.0</text>
<text transform="translate(467.4 283.5) scale(1.14 1)" font-size="12.0" font-weight="bold" font-style="normal" text-anchor="end" fill="#000">100</text>
<text transform="translate(467.4 338.6) scale(1.14 1)" font-size="12.0" font-weight="bold" font-style="normal" text-anchor="end" fill="#000">10</text>
<text transform="translate(467.4 393.7) scale(1.14 1)" font-size="12.0" font-weight="bold" font-style="normal" text-anchor="end" fill="#000">1</text>
<text transform="translate(467.4 448.8) scale(1.14 1)" font-size="12.0" font-weight="bold" font-style="normal" text-anchor="end" fill="#000">0.1</text>
<text transform="translate(602.85 269.6) scale(1.14 1)" font-size="12.2" font-weight="bold" fill="#000"><tspan font-style="italic">E</tspan><tspan font-size="8.7" dy="1.9" dx="0.2" letter-spacing="0.1">Lab</tspan><tspan dy="-1.9" dx="-0.3">=2.15 MeV</tspan></text>
<g font-size="12.2" font-weight="bold" fill="#000">
<text transform="translate(621.15 503.3) scale(0.98 1)" font-style="italic">&#952;</text>
<text transform="translate(627.55 504.9) scale(1.14 1)" font-size="9.2">CM</text>
<text transform="translate(644.25 503.3) scale(1.11 1)">(Rad)</text>
</g>
<text transform="translate(433.5 374.55) rotate(-90) scale(1 1.1)" font-size="12.0" font-weight="bold" text-anchor="middle" fill="#000">d<tspan font-style="italic">&#963;</tspan>/d&#937;(barn/sr)</text>
<path d="M755 294.5H767.3" stroke="#666" stroke-width="1.7"/>
<text transform="translate(774.4 296.7) scale(1.14 1)" font-size="9.3" fill="#111">3<tspan font-style="italic">S</tspan><tspan font-size="6.8" dy="1.6">1</tspan></text>
<path d="M752.2 321.9h7.4m2.7 0h7.6" stroke="#ff0000" stroke-width="1.3"/>
<text transform="translate(774.4 323.9) scale(1.17 1)" font-size="9.3" fill="#111">3<tspan font-style="italic">S</tspan><tspan font-size="6.8" dy="1.6">1</tspan><tspan dy="-1.6">+3</tspan><tspan font-style="italic">D</tspan><tspan font-size="6.8" dy="1.6">3</tspan></text>
<ellipse cx="760.9" cy="347.9" rx="3.2" ry="3.0" fill="#000"/>
<text transform="translate(774.4 350.8) scale(1.14 1)" font-size="9.6" fill="#111">Exp</text>
</g>
<g>
<clipPath id="c31"><rect x="51.5" y="538.7" width="355.5" height="188.8"/></clipPath>
<g stroke="#949494" stroke-width="0.85" fill="none">
<rect x="51.9" y="539.1" width="354.7" height="188"/>
<path d="M51.9 727.1v-4.2M51.9 539.1v4.2M63.19 727.1v-2.5M63.19 539.1v2.5M74.48 727.1v-2.5M74.48 539.1v2.5M85.77 727.1v-2.5M85.77 539.1v2.5M97.06 727.1v-2.5M97.06 539.1v2.5M108.35 727.1v-4.2M108.35 539.1v4.2M119.64 727.1v-2.5M119.64 539.1v2.5M130.93 727.1v-2.5M130.93 539.1v2.5M142.22 727.1v-2.5M142.22 539.1v2.5M153.51 727.1v-2.5M153.51 539.1v2.5M164.8 727.1v-4.2M164.8 539.1v4.2M176.09 727.1v-2.5M176.09 539.1v2.5M187.38 727.1v-2.5M187.38 539.1v2.5M198.67 727.1v-2.5M198.67 539.1v2.5M209.96 727.1v-2.5M209.96 539.1v2.5M221.25 727.1v-4.2M221.25 539.1v4.2M232.54 727.1v-2.5M232.54 539.1v2.5M243.83 727.1v-2.5M243.83 539.1v2.5M255.12 727.1v-2.5M255.12 539.1v2.5M266.41 727.1v-2.5M266.41 539.1v2.5M277.7 727.1v-4.2M277.7 539.1v4.2M288.99 727.1v-2.5M288.99 539.1v2.5M300.28 727.1v-2.5M300.28 539.1v2.5M311.57 727.1v-2.5M311.57 539.1v2.5M322.86 727.1v-2.5M322.86 539.1v2.5M334.15 727.1v-4.2M334.15 539.1v4.2M345.44 727.1v-2.5M345.44 539.1v2.5M356.73 727.1v-2.5M356.73 539.1v2.5M368.02 727.1v-2.5M368.02 539.1v2.5M379.31 727.1v-2.5M379.31 539.1v2.5M390.6 727.1v-4.2M390.6 539.1v4.2M401.89 727.1v-2.5M401.89 539.1v2.5M51.9 721.51h2.4M406.6 721.51h-2.4M51.9 716.02h2.4M406.6 716.02h-2.4M51.9 711.26h2.4M406.6 711.26h-2.4M51.9 707.06h2.4M406.6 707.06h-2.4M51.9 703.3h4.2M406.6 703.3h-4.2M51.9 678.59h3.3M406.6 678.59h-3.3M51.9 664.13h3.3M406.6 664.13h-3.3M51.9 653.87h3.3M406.6 653.87h-3.3M51.9 645.91h4.2M406.6 645.91h-4.2M51.9 639.41h2.4M406.6 639.41h-2.4M51.9 633.92h2.4M406.6 633.92h-2.4M51.9 629.16h2.4M406.6 629.16h-2.4M51.9 624.96h2.4M406.6 624.96h-2.4M51.9 621.2h4.2M406.6 621.2h-4.2M51.9 596.49h3.3M406.6 596.49h-3.3M51.9 582.03h3.3M406.6 582.03h-3.3M51.9 571.77h3.3M406.6 571.77h-3.3M51.9 563.81h4.2M406.6 563.81h-4.2M51.9 557.31h2.4M406.6 557.31h-2.4M51.9 551.82h2.4M406.6 551.82h-2.4M51.9 547.06h2.4M406.6 547.06h-2.4M51.9 542.86h2.4M406.6 542.86h-2.4M51.9 539.1h4.2M406.6 539.1h-4.2" stroke="#757575" stroke-width="0.65"/>
</g>
<g clip-path="url(#c31)" fill="none" stroke-linejoin="round">
<path d="M77.3 533.4L77.5 534.5L77.7 535.7L77.9 536.9L78.1 538.1L78.3 539.3L78.5 540.5L78.7 541.7L78.9 542.9L79.1 544.0L79.3 545.2L79.5 546.4L79.7 547.6L79.9 548.8L80.1 550.0L80.4 551.2L80.6 552.3L80.8 553.5L81.0 554.7L81.2 555.9L81.5 557.1L81.7 558.3L81.9 559.4L82.1 560.6L82.4 561.8L82.6 563.0L82.8 564.2L83.1 565.3L83.3 566.5L83.5 567.7L83.8 568.9L84.0 570.1L84.3 571.2L84.5 572.4L84.8 573.6L85.0 574.8L85.3 575.9L85.5 577.1L85.8 578.3L86.0 579.5L86.3 580.6L86.6 581.8L86.8 583.0L87.1 584.2L87.4 585.3L87.7 586.5L87.9 587.7L88.2 588.9L88.5 590.0L88.8 591.2L89.1 592.4L89.4 593.5L89.7 594.7L90.0 595.9L90.3 597.0L90.6 598.2L90.9 599.4L91.2 600.5L91.5 601.7L91.8 602.8L92.1 604.0L92.4 605.2L92.8 606.3L93.1 607.5L93.4 608.6L93.8 609.8L94.1 610.9L94.4 612.1L94.8 613.2L95.1 614.4L95.5 615.6L95.9 616.7L96.2 617.8L96.6 619.0L97.0 620.1L97.3 621.3L97.7 622.4L98.1 623.6L98.5 624.7L98.9 625.8L99.3 627.0L99.7 628.1L100.1 629.2L100.5 630.4L100.9 631.5L101.3 632.6L101.8 633.8L102.2 634.9L102.6 636.0L103.1 637.1L103.5 638.2L104.0 639.4L104.4 640.5L104.9 641.6L105.4 642.7L105.9 643.8L106.3 644.9L106.8 646.0L107.3 647.1L107.8 648.2L108.4 649.3L108.9 650.3L109.4 651.4L109.9 652.5L110.5 653.6L111.0 654.6L111.6 655.7L112.2 656.8L112.8 657.8L113.4 658.9L114.0 659.9L114.6 660.9L115.2 662.0L115.8 663.0L116.4 664.0L117.1 665.0L117.8 666.0L118.4 667.0L119.1 668.0L119.8 669.0L120.5 670.0L121.2 671.0L122.0 671.9L122.7 672.9L123.5 673.8L124.2 674.7L125.0 675.6L125.8 676.5L126.6 677.4L127.5 678.3L128.3 679.2L129.1 680.0L130.0 680.8L130.9 681.7L131.8 682.5L132.7 683.3L133.6 684.0L134.6 684.8L135.5 685.5L136.5 686.2L137.5 686.9L138.5 687.6L139.5 688.3L140.5 688.9L141.5 689.5L142.5 690.1L143.6 690.7L144.7 691.3L145.7 691.8L146.8 692.4L147.9 692.9L149.0 693.4L150.1 693.8L151.2 694.3L152.4 694.7L153.5 695.1L154.6 695.5L155.8 695.9L156.9 696.3L158.1 696.7L159.2 697.0L160.4 697.3L161.5 697.6L162.7 697.9L163.9 698.2L165.0 698.5L166.2 698.8L167.4 699.0L168.6 699.2L169.7 699.5L170.9 699.7L172.1 699.9L173.3 700.1L174.5 700.3L175.7 700.5L176.9 700.7L178.1 700.8L179.2 701.0L180.4 701.2L181.6 701.3L182.8 701.5L184.0 701.6L185.2 701.8L186.4 701.9L187.6 702.1L188.8 702.2L190.0 702.3L191.2 702.4L192.4 702.5L193.6 702.7L194.8 702.8L196.0 702.9L197.2 703.0L198.4 703.1L199.6 703.2L200.8 703.3L202.0 703.4L203.2 703.4L204.4 703.5L205.6 703.6L206.8 703.7L208.0 703.8L209.2 703.8L210.4 703.9L211.6 704.0L212.8 704.1L214.0 704.1L215.2 704.2L216.4 704.2L217.6 704.3L218.8 704.4L220.0 704.4L221.2 704.5L222.4 704.5L223.6 704.6L224.8 704.6L226.0 704.7L227.2 704.7L228.4 704.8L229.6 704.8L230.8 704.9L232.0 704.9L233.2 705.0L234.4 705.0L235.6 705.1L236.8 705.1L238.1 705.1L239.3 705.2L240.5 705.2L241.7 705.2L242.9 705.3L244.1 705.3L245.3 705.4L246.5 705.4L247.7 705.4L248.9 705.5L250.1 705.5L251.3 705.5L252.5 705.6L253.7 705.6L254.9 705.6L256.1 705.7L257.3 705.7L258.5 705.7L259.7 705.8L260.9 705.8L262.1 705.8L263.3 705.9L264.5 705.9L265.7 705.9L266.9 705.9L268.1 706.0L269.3 706.0L270.5 706.0L271.7 706.1L272.9 706.1L274.1 706.1L275.3 706.2L276.6 706.2L277.8 706.2L279.0 706.2L280.2 706.3L281.4 706.3L282.6 706.3L283.8 706.4L285.0 706.4L286.2 706.4L287.4 706.5L288.6 706.5L289.8 706.5L291.0 706.5L292.2 706.6L293.4 706.6L294.6 706.6L295.8 706.7L297.0 706.7L298.2 706.7L299.4 706.7L300.6 706.8L301.8 706.8L303.0 706.8L304.2 706.9L305.4 706.9L306.6 706.9L307.8 706.9L309.0 707.0L310.2 707.0L311.4 707.0L312.6 707.1L313.9 707.1L315.1 707.1L316.3 707.1L317.5 707.2L318.7 707.2L319.9 707.2L321.1 707.2L322.3 707.3L323.5 707.3L324.7 707.3L325.9 707.3L327.1 707.4L328.3 707.4L329.5 707.4L330.7 707.4L331.9 707.5L333.1 707.5L334.3 707.5L335.5 707.5L336.7 707.6L337.9 707.6L339.1 707.6L340.3 707.6L341.5 707.6L342.7 707.7L343.9 707.7L345.1 707.7L346.3 707.7L347.5 707.7L348.7 707.7L350.0 707.8L351.2 707.8L352.4 707.8L353.6 707.8L354.8 707.8L356.0 707.8L357.2 707.8L358.4 707.9L359.6 707.9L360.8 707.9L362.0 707.9L363.2 707.9L364.4 707.9L365.6 707.9L366.8 707.9L368.0 707.9L369.2 707.9L370.4 707.9L371.6 707.9L372.8 707.9L374.0 707.9L375.2 707.9L376.4 707.9L377.6 707.9L378.8 707.9L380.0 707.9L381.2 707.9L382.4 707.9L383.7 707.8L384.9 707.8L386.1 707.8L387.3 707.8L388.5 707.8L389.7 707.8L390.9 707.7L392.1 707.7L393.3 707.7L394.5 707.7L395.7 707.6L396.9 707.6L398.1 707.6L399.3 707.6L400.5 707.5L401.7 707.5L402.9 707.4L404.1 707.4L405.3 707.4L406.5 707.3L407.7 707.3" stroke="#000" stroke-width="2.0"/>
<path d="M77.3 533.4L77.5 534.5L77.7 535.7L77.9 536.9L78.1 538.1L78.3 539.3L78.5 540.5L78.7 541.7L78.9 542.9L79.1 544.0L79.3 545.2L79.5 546.4L79.7 547.6L79.9 548.8L80.1 550.0L80.4 551.2L80.6 552.3L80.8 553.5L81.0 554.7L81.2 555.9L81.5 557.1L81.7 558.3L81.9 559.4L82.1 560.6L82.4 561.8L82.6 563.0L82.8 564.2L83.1 565.3L83.3 566.5L83.5 567.7L83.8 568.9L84.0 570.1L84.3 571.2L84.5 572.4L84.8 573.6L85.0 574.8L85.3 575.9L85.5 577.1L85.8 578.3L86.0 579.5L86.3 580.6L86.6 581.8L86.8 583.0L87.1 584.2L87.4 585.3L87.7 586.5L87.9 587.7L88.2 588.9L88.5 590.0L88.8 591.2L89.1 592.4L89.4 593.5L89.7 594.7L90.0 595.9L90.3 597.0L90.6 598.2L90.9 599.4L91.2 600.5L91.5 601.7L91.8 602.8L92.1 604.0L92.4 605.2L92.8 606.3L93.1 607.5L93.4 608.6L93.8 609.8L94.1 610.9L94.4 612.1L94.8 613.2L95.1 614.4L95.5 615.6L95.9 616.7L96.2 617.8L96.6 619.0L97.0 620.1L97.3 621.3L97.7 622.4L98.1 623.6L98.5 624.7L98.9 625.8L99.3 627.0L99.7 628.1L100.1 629.2L100.5 630.4L100.9 631.5L101.3 632.6L101.8 633.8L102.2 634.9L102.6 636.0L103.1 637.1L103.5 638.2L104.0 639.4L104.4 640.5L104.9 641.6L105.4 642.7L105.9 643.8L106.3 644.9L106.8 646.0L107.3 647.1L107.8 648.2L108.4 649.3L108.9 650.3L109.4 651.4L109.9 652.5L110.5 653.6L111.0 654.6L111.6 655.7L112.2 656.8L112.8 657.8L113.4 658.9L114.0 659.9L114.6 660.9L115.2 662.0L115.8 663.0L116.4 664.0L117.1 665.0L117.8 666.0L118.4 667.0L119.1 668.0L119.8 669.0L120.5 670.0L121.2 671.0L122.0 671.9L122.7 672.9L123.5 673.8L124.2 674.7L125.0 675.6L125.8 676.5L126.6 677.4L127.5 678.3L128.3 679.2L129.1 680.0L130.0 680.8L130.9 681.7L131.8 682.5L132.7 683.3L133.6 684.0L134.6 684.8L135.5 685.5L136.5 686.2L137.5 686.9L138.5 687.6L139.5 688.3L140.5 688.9L141.5 689.5L142.5 690.1L143.6 690.7L144.7 691.3L145.7 691.8L146.8 692.4L147.9 692.9L149.0 693.4L150.1 693.8L151.2 694.3L152.4 694.7L153.5 695.1L154.6 695.5L155.8 695.9L156.9 696.3L158.1 696.7L159.2 697.0L160.4 697.3L161.5 697.6L162.7 697.9L163.9 698.2L165.0 698.5L166.2 698.8L167.4 699.0L168.6 699.2L169.7 699.5L170.9 699.7L172.1 699.9L173.3 700.1L174.5 700.3L175.7 700.5L176.9 700.7L178.1 700.8L179.2 701.0L180.4 701.2L181.6 701.3L182.8 701.5L184.0 701.6L185.2 701.8L186.4 701.9L187.6 702.1L188.8 702.2L190.0 702.3L191.2 702.4L192.4 702.5L193.6 702.7L194.8 702.8L196.0 702.9L197.2 703.0L198.4 703.1L199.6 703.2L200.8 703.3L202.0 703.4L203.2 703.4L204.4 703.5L205.6 703.6L206.8 703.7L208.0 703.8L209.2 703.8L210.4 703.9L211.6 704.0L212.8 704.1L214.0 704.1L215.2 704.2L216.4 704.2L217.6 704.3L218.8 704.4L220.0 704.4L221.2 704.5L222.4 704.5L223.6 704.6L224.8 704.6L226.0 704.7L227.2 704.7L228.4 704.8L229.6 704.8L230.8 704.9L232.0 704.9L233.2 705.0L234.4 705.0L235.6 705.1L236.8 705.1L238.1 705.1L239.3 705.2L240.5 705.2L241.7 705.2L242.9 705.3L244.1 705.3L245.3 705.4L246.5 705.4L247.7 705.4L248.9 705.5L250.1 705.5L251.3 705.5L252.5 705.6L253.7 705.6L254.9 705.6L256.1 705.7L257.3 705.7L258.5 705.7L259.7 705.8L260.9 705.8L262.1 705.8L263.3 705.9L264.5 705.9L265.7 705.9L266.9 705.9L268.1 706.0L269.3 706.0L270.5 706.0L271.7 706.1L272.9 706.1L274.1 706.1L275.3 706.2L276.6 706.2L277.8 706.2L279.0 706.2L280.2 706.3L281.4 706.3L282.6 706.3L283.8 706.4L285.0 706.4L286.2 706.4L287.4 706.5L288.6 706.5L289.8 706.5L291.0 706.5L292.2 706.6L293.4 706.6L294.6 706.6L295.8 706.7L297.0 706.7L298.2 706.7L299.4 706.7L300.6 706.8L301.8 706.8L303.0 706.8L304.2 706.9L305.4 706.9L306.6 706.9L307.8 706.9L309.0 707.0L310.2 707.0L311.4 707.0L312.6 707.1L313.9 707.1L315.1 707.1L316.3 707.1L317.5 707.2L318.7 707.2L319.9 707.2L321.1 707.2L322.3 707.3L323.5 707.3L324.7 707.3L325.9 707.3L327.1 707.4L328.3 707.4L329.5 707.4L330.7 707.4L331.9 707.5L333.1 707.5L334.3 707.5L335.5 707.5L336.7 707.6L337.9 707.6L339.1 707.6L340.3 707.6L341.5 707.6L342.7 707.7L343.9 707.7L345.1 707.7L346.3 707.7L347.5 707.7L348.7 707.7L350.0 707.8L351.2 707.8L352.4 707.8L353.6 707.8L354.8 707.8L356.0 707.8L357.2 707.8L358.4 707.9L359.6 707.9L360.8 707.9L362.0 707.9L363.2 707.9L364.4 707.9L365.6 707.9L366.8 707.9L368.0 707.9L369.2 707.9L370.4 707.9L371.6 707.9L372.8 707.9L374.0 707.9L375.2 707.9L376.4 707.9L377.6 707.9L378.8 707.9L380.0 707.9L381.2 707.9L382.4 707.9L383.7 707.8L384.9 707.8L386.1 707.8L387.3 707.8L388.5 707.8L389.7 707.8L390.9 707.7L392.1 707.7L393.3 707.7L394.5 707.7L395.7 707.6L396.9 707.6L398.1 707.6L399.3 707.6L400.5 707.5L401.7 707.5L402.9 707.4L404.1 707.4L405.3 707.4L406.5 707.3L407.7 707.3" stroke="#0000ff" stroke-width="2.0" stroke-dasharray="2.2 2.2"/>
<path d="M76.7 536.3L76.9 537.5L77.1 538.7L77.3 539.9L77.5 541.0L77.7 542.2L77.9 543.4L78.1 544.6L78.3 545.8L78.6 547.0L78.8 548.1L79.0 549.3L79.2 550.5L79.4 551.7L79.7 552.9L79.9 554.1L80.1 555.2L80.4 556.4L80.6 557.6L80.8 558.8L81.1 560.0L81.3 561.2L81.5 562.3L81.8 563.5L82.0 564.7L82.3 565.9L82.5 567.0L82.8 568.2L83.0 569.4L83.3 570.6L83.5 571.8L83.8 572.9L84.1 574.1L84.3 575.3L84.6 576.5L84.9 577.6L85.2 578.8L85.4 580.0L85.7 581.1L86.0 582.3L86.3 583.5L86.6 584.6L86.9 585.8L87.1 587.0L87.4 588.2L87.7 589.3L88.0 590.5L88.3 591.6L88.7 592.8L89.0 594.0L89.3 595.1L89.6 596.3L89.9 597.5L90.2 598.6L90.6 599.8L90.9 600.9L91.2 602.1L91.6 603.2L91.9 604.4L92.3 605.6L92.6 606.7L93.0 607.9L93.3 609.0L93.7 610.2L94.0 611.3L94.4 612.5L94.8 613.6L95.2 614.7L95.5 615.9L95.9 617.0L96.3 618.2L96.7 619.3L97.1 620.4L97.5 621.6L97.9 622.7L98.3 623.8L98.7 625.0L99.2 626.1L99.6 627.2L100.0 628.3L100.4 629.5L100.9 630.6L101.3 631.7L101.8 632.8L102.2 633.9L102.7 635.0L103.2 636.2L103.7 637.3L104.1 638.4L104.6 639.5L105.1 640.6L105.6 641.7L106.1 642.8L106.6 643.8L107.2 644.9L107.7 646.0L108.2 647.1L108.8 648.2L109.3 649.2L109.9 650.3L110.4 651.4L111.0 652.4L111.6 653.5L112.2 654.5L112.8 655.6L113.4 656.6L114.0 657.7L114.6 658.7L115.2 659.7L115.9 660.7L116.5 661.7L117.2 662.7L117.9 663.7L118.5 664.7L119.2 665.7L119.9 666.7L120.6 667.7L121.4 668.6L122.1 669.6L122.8 670.6L123.6 671.5L124.3 672.4L125.1 673.3L125.9 674.3L126.7 675.2L127.5 676.0L128.3 676.9L129.2 677.8L130.0 678.6L130.9 679.5L131.8 680.3L132.6 681.1L133.5 681.9L134.4 682.7L135.4 683.5L136.3 684.3L137.2 685.0L138.2 685.8L139.2 686.5L140.1 687.2L141.1 687.9L142.1 688.5L143.1 689.2L144.2 689.8L145.2 690.4L146.2 691.0L147.3 691.6L148.4 692.2L149.4 692.7L150.5 693.2L151.6 693.7L152.7 694.2L153.8 694.7L154.9 695.1L156.1 695.6L157.2 696.0L158.3 696.4L159.5 696.8L160.6 697.1L161.8 697.5L162.9 697.8L164.1 698.2L165.3 698.5L166.4 698.7L167.6 699.0L168.8 699.3L169.9 699.5L171.1 699.8L172.3 700.0L173.5 700.2L174.7 700.4L175.9 700.6L177.1 700.8L178.2 701.0L179.4 701.2L180.6 701.3L181.8 701.5L183.0 701.7L184.2 701.8L185.4 701.9L186.6 702.1L187.8 702.2L189.0 702.3L190.2 702.4L191.4 702.5L192.6 702.6L193.8 702.7L195.0 702.8L196.2 702.9L197.4 703.0L198.6 703.1L199.8 703.2L201.0 703.3L202.2 703.3L203.4 703.4L204.6 703.5L205.8 703.5L207.0 703.6L208.2 703.7L209.4 703.7L210.6 703.8L211.8 703.8L213.0 703.9L214.2 704.0L215.4 704.0L216.6 704.1L217.8 704.1L219.0 704.2L220.2 704.2L221.4 704.3L222.6 704.3L223.8 704.4L225.1 704.5L226.3 704.5L227.5 704.6L228.7 704.6L229.9 704.7L231.1 704.7L232.3 704.8L233.5 704.8L234.7 704.9L235.9 705.0L237.1 705.0L238.3 705.1L239.5 705.1L240.7 705.2L241.9 705.2L243.1 705.3L244.3 705.3L245.5 705.4L246.7 705.5L247.9 705.5L249.1 705.6L250.3 705.6L251.5 705.7L252.7 705.7L253.9 705.8L255.1 705.8L256.3 705.8L257.5 705.9L258.7 705.9L259.9 706.0L261.1 706.0L262.3 706.1L263.5 706.1L264.7 706.1L266.0 706.2L267.2 706.2L268.4 706.2L269.6 706.2L270.8 706.3L272.0 706.3L273.2 706.3L274.4 706.3L275.6 706.3L276.8 706.4L278.0 706.4L279.2 706.4L280.4 706.4L281.6 706.4L282.8 706.4L284.0 706.4L285.2 706.4L286.4 706.4L287.6 706.3L288.8 706.3L290.0 706.3L291.2 706.3L292.4 706.2L293.6 706.2L294.8 706.2L296.0 706.1L297.2 706.1L298.5 706.0L299.7 706.0L300.9 705.9L302.1 705.9L303.3 705.8L304.5 705.8L305.7 705.7L306.9 705.6L308.1 705.6L309.3 705.5L310.5 705.4L311.7 705.3L312.9 705.3L314.1 705.2L315.3 705.1L316.5 705.0L317.7 704.9L318.9 704.8L320.1 704.7L321.3 704.7L322.5 704.6L323.7 704.5L324.9 704.4L326.1 704.3L327.3 704.1L328.5 704.0L329.7 703.9L330.9 703.8L332.1 703.7L333.3 703.6L334.5 703.5L335.7 703.4L336.9 703.3L338.1 703.1L339.3 703.0L340.5 702.9L341.7 702.8L342.9 702.7L344.1 702.6L345.3 702.4L346.5 702.3L347.7 702.2L348.9 702.1L350.1 702.0L351.3 701.9L352.5 701.7L353.6 701.6L354.8 701.5L356.0 701.4L357.2 701.3L358.4 701.2L359.6 701.0L360.8 700.9L362.0 700.8L363.2 700.7L364.4 700.6L365.6 700.5L366.8 700.4L368.0 700.3L369.2 700.2L370.4 700.1L371.6 700.0L372.8 699.9L374.0 699.8L375.2 699.7L376.4 699.6L377.6 699.6L378.8 699.5L380.0 699.4L381.2 699.3L382.4 699.3L383.6 699.2L384.8 699.1L386.1 699.1L387.3 699.0L388.5 698.9L389.7 698.9L390.9 698.8L392.1 698.8L393.3 698.7L394.5 698.7L395.7 698.7L396.9 698.7L398.1 698.6L399.3 698.6L400.5 698.6L401.7 698.6L402.9 698.6L404.1 698.6L405.3 698.6L406.5 698.6L407.7 698.6" stroke="#ff0000" stroke-width="2.0" stroke-dasharray="6.8 6.2"/>
</g>
<g stroke="#222" stroke-width="0.9" fill="#000">
<path d="M78.5 561.6H85.9" stroke="#111" stroke-width="1.2"/>
<ellipse cx="82.2" cy="561.6" rx="2.3" ry="1.9" stroke="none"/>
<path d="M92.6 617.5H100" stroke="#111" stroke-width="1.2"/>
<ellipse cx="96.3" cy="617.5" rx="2.3" ry="1.9" stroke="none"/>
<path d="M107.1 651.6H114.5" stroke="#111" stroke-width="1.2"/>
<ellipse cx="110.8" cy="651.6" rx="2.3" ry="1.9" stroke="none"/>
<path d="M122 674.2H129.4" stroke="#111" stroke-width="1.2"/>
<ellipse cx="125.7" cy="674.2" rx="2.3" ry="1.9" stroke="none"/>
<path d="M136.4 685.3H143.8" stroke="#111" stroke-width="1.2"/>
<ellipse cx="140.1" cy="685.3" rx="2.3" ry="1.9" stroke="none"/>
<path d="M150.5 692.5H157.9" stroke="#111" stroke-width="1.2"/>
<ellipse cx="154.2" cy="692.5" rx="2.3" ry="1.9" stroke="none"/>
<path d="M165 697.3H172.4" stroke="#111" stroke-width="1.2"/>
<ellipse cx="168.7" cy="697.3" rx="2.3" ry="1.9" stroke="none"/>
<path d="M191.4 707.3H198.8" stroke="#111" stroke-width="1.2"/>
<ellipse cx="195.1" cy="707.3" rx="2.3" ry="1.9" stroke="none"/>
<path d="M217.4 704.6H224.8" stroke="#111" stroke-width="1.2"/>
<ellipse cx="221.1" cy="704.6" rx="2.3" ry="1.9" stroke="none"/>
<path d="M242.1 706.2H249.5" stroke="#111" stroke-width="1.2"/>
<ellipse cx="245.8" cy="706.2" rx="2.3" ry="1.9" stroke="none"/>
<path d="M264.6 707.3H272" stroke="#111" stroke-width="1.2"/>
<ellipse cx="268.3" cy="707.3" rx="2.3" ry="1.9" stroke="none"/>
<path d="M284.5 705.4H291.9" stroke="#111" stroke-width="1.2"/>
<ellipse cx="288.2" cy="705.4" rx="2.3" ry="1.9" stroke="none"/>
<path d="M304.1 702.9H311.5" stroke="#111" stroke-width="1.2"/>
<ellipse cx="307.8" cy="702.9" rx="2.3" ry="1.9" stroke="none"/>
<path d="M323.8 702.3H331.2" stroke="#111" stroke-width="1.2"/>
<ellipse cx="327.5" cy="702.3" rx="2.3" ry="1.9" stroke="none"/>
<path d="M343.6 702.9H351" stroke="#111" stroke-width="1.2"/>
<ellipse cx="347.3" cy="702.9" rx="2.3" ry="1.9" stroke="none"/>
<path d="M362.9 701H370.3" stroke="#111" stroke-width="1.2"/>
<ellipse cx="366.6" cy="701" rx="2.3" ry="1.9" stroke="none"/>
</g>
<text transform="translate(51.9 741.4) scale(1.14 1)" font-size="12.4" font-weight="bold" font-style="normal" text-anchor="middle" fill="#000">0.0</text>
<text transform="translate(108.35 741.4) scale(1.14 1)" font-size="12.4" font-weight="bold" font-style="normal" text-anchor="middle" fill="#000">0.5</text>
<text transform="translate(164.8 741.4) scale(1.14 1)" font-size="12.4" font-weight="bold" font-style="normal" text-anchor="middle" fill="#000">1.0</text>
<text transform="translate(221.25 741.4) scale(1.14 1)" font-size="12.4" font-weight="bold" font-style="normal" text-anchor="middle" fill="#000">1.5</text>
<text transform="translate(277.7 741.4) scale(1.14 1)" font-size="12.4" font-weight="bold" font-style="normal" text-anchor="middle" fill="#000">2.0</text>
<text transform="translate(334.15 741.4) scale(1.14 1)" font-size="12.4" font-weight="bold" font-style="normal" text-anchor="middle" fill="#000">2.5</text>
<text transform="translate(390.6 741.4) scale(1.14 1)" font-size="12.4" font-weight="bold" font-style="normal" text-anchor="middle" fill="#000">3.0</text>
<text transform="translate(48.4 543.8) scale(1.14 1)" font-size="12.4" font-weight="bold" font-style="normal" text-anchor="end" fill="#000">10</text>
<text transform="translate(48.4 568.51) scale(1.14 1)" font-size="12.4" font-weight="bold" font-style="normal" text-anchor="end" fill="#000">5</text>
<text transform="translate(48.4 625.9) scale(1.14 1)" font-size="12.4" font-weight="bold" font-style="normal" text-anchor="end" fill="#000">1</text>
<text transform="translate(48.4 650.61) scale(1.14 1)" font-size="12.4" font-weight="bold" font-style="normal" text-anchor="end" fill="#000">0.50</text>
<text transform="translate(48.4 708) scale(1.14 1)" font-size="12.4" font-weight="bold" font-style="normal" text-anchor="end" fill="#000">0.10</text>
<text transform="translate(48.4 732.71) scale(1.14 1)" font-size="12.4" font-weight="bold" font-style="normal" text-anchor="end" fill="#000">0.05</text>
<text transform="translate(181.65 529.8) scale(1.14 1)" font-size="12.2" font-weight="bold" fill="#000"><tspan font-style="italic">E</tspan><tspan font-size="8.7" dy="1.9" dx="0.2" letter-spacing="0.1">Lab</tspan><tspan dy="-1.9" dx="-0.3">=2.46 MeV</tspan></text>
<g font-size="12.2" font-weight="bold" fill="#000">
<text transform="translate(199.95 761.7) scale(0.98 1)" font-style="italic">&#952;</text>
<text transform="translate(206.35 763.3) scale(1.14 1)" font-size="9.2">CM</text>
<text transform="translate(223.05 761.7) scale(1.11 1)">(Rad)</text>
</g>
<text transform="translate(9.8 633.6) rotate(-90) scale(1 1.1)" font-size="12.0" font-weight="bold" text-anchor="middle" fill="#000">d<tspan font-style="italic">&#963;</tspan>/d&#937;(barn/sr)</text>
<path d="M339.5 554.5H351.8" stroke="#666" stroke-width="0.9"/>
<text transform="translate(358.9 556.9) scale(1.14 1)" font-size="9.8" fill="#111">S</text>
<path d="M337.3 580.7H353.9" stroke="#2a2aff" stroke-width="1.3" stroke-dasharray="1.7 1.95"/>
<text transform="translate(358.9 583.4) scale(1.14 1)" font-size="9.8" fill="#111">S+P</text>
<path d="M336.7 609h6.6m4.5 0h6.2" stroke="#ff2020" stroke-width="1.3"/>
<text transform="translate(358.9 610.5) scale(1.14 1)" font-size="9.8" fill="#111">S+P+D</text>
<ellipse cx="345.4" cy="634.8" rx="3.2" ry="3.0" fill="#000"/>
<text transform="translate(358.9 637.9) scale(1.14 1)" font-size="9.8" fill="#111">Exp</text>
</g>
<g>
<clipPath id="c32"><rect x="474.4" y="538.7" width="355.7" height="188.8"/></clipPath>
<g stroke="#949494" stroke-width="0.85" fill="none">
<rect x="474.8" y="539.1" width="354.9" height="188"/>
<path d="M474.8 727.1v-4.2M474.8 539.1v4.2M486.1 727.1v-2.5M486.1 539.1v2.5M497.4 727.1v-2.5M497.4 539.1v2.5M508.7 727.1v-2.5M508.7 539.1v2.5M520 727.1v-2.5M520 539.1v2.5M531.3 727.1v-4.2M531.3 539.1v4.2M542.6 727.1v-2.5M542.6 539.1v2.5M553.9 727.1v-2.5M553.9 539.1v2.5M565.2 727.1v-2.5M565.2 539.1v2.5M576.5 727.1v-2.5M576.5 539.1v2.5M587.8 727.1v-4.2M587.8 539.1v4.2M599.1 727.1v-2.5M599.1 539.1v2.5M610.4 727.1v-2.5M610.4 539.1v2.5M621.7 727.1v-2.5M621.7 539.1v2.5M633 727.1v-2.5M633 539.1v2.5M644.3 727.1v-4.2M644.3 539.1v4.2M655.6 727.1v-2.5M655.6 539.1v2.5M666.9 727.1v-2.5M666.9 539.1v2.5M678.2 727.1v-2.5M678.2 539.1v2.5M689.5 727.1v-2.5M689.5 539.1v2.5M700.8 727.1v-4.2M700.8 539.1v4.2M712.1 727.1v-2.5M712.1 539.1v2.5M723.4 727.1v-2.5M723.4 539.1v2.5M734.7 727.1v-2.5M734.7 539.1v2.5M746 727.1v-2.5M746 539.1v2.5M757.3 727.1v-4.2M757.3 539.1v4.2M768.6 727.1v-2.5M768.6 539.1v2.5M779.9 727.1v-2.5M779.9 539.1v2.5M791.2 727.1v-2.5M791.2 539.1v2.5M802.5 727.1v-2.5M802.5 539.1v2.5M813.8 727.1v-4.2M813.8 539.1v4.2M825.1 727.1v-2.5M825.1 539.1v2.5M474.8 721.23h4.2M829.7 721.23h-4.2M474.8 714.96h2.4M829.7 714.96h-2.4M474.8 709.66h2.4M829.7 709.66h-2.4M474.8 705.07h2.4M829.7 705.07h-2.4M474.8 701.02h2.4M829.7 701.02h-2.4M474.8 697.4h4.2M829.7 697.4h-4.2M474.8 673.57h3.3M829.7 673.57h-3.3M474.8 659.64h3.3M829.7 659.64h-3.3M474.8 649.75h3.3M829.7 649.75h-3.3M474.8 642.08h4.2M829.7 642.08h-4.2M474.8 635.81h2.4M829.7 635.81h-2.4M474.8 630.51h2.4M829.7 630.51h-2.4M474.8 625.92h2.4M829.7 625.92h-2.4M474.8 621.87h2.4M829.7 621.87h-2.4M474.8 618.25h4.2M829.7 618.25h-4.2M474.8 594.42h3.3M829.7 594.42h-3.3M474.8 580.49h3.3M829.7 580.49h-3.3M474.8 570.6h3.3M829.7 570.6h-3.3M474.8 562.93h4.2M829.7 562.93h-4.2M474.8 556.66h2.4M829.7 556.66h-2.4M474.8 551.36h2.4M829.7 551.36h-2.4M474.8 546.77h2.4M829.7 546.77h-2.4M474.8 542.72h2.4M829.7 542.72h-2.4M474.8 539.1h4.2M829.7 539.1h-4.2" stroke="#757575" stroke-width="0.65"/>
</g>
<g clip-path="url(#c32)" fill="none" stroke-linejoin="round">
<path d="M500.5 535.9L500.7 537.1L501.0 538.3L501.2 539.5L501.4 540.7L501.7 541.8L501.9 543.0L502.1 544.2L502.4 545.4L502.6 546.6L502.9 547.7L503.1 548.9L503.4 550.1L503.6 551.3L503.9 552.5L504.1 553.6L504.4 554.8L504.7 556.0L504.9 557.2L505.2 558.3L505.5 559.5L505.7 560.7L506.0 561.9L506.3 563.0L506.6 564.2L506.9 565.4L507.1 566.6L507.4 567.7L507.7 568.9L508.0 570.1L508.3 571.2L508.6 572.4L508.9 573.6L509.2 574.7L509.5 575.9L509.8 577.1L510.2 578.2L510.5 579.4L510.8 580.6L511.1 581.7L511.5 582.9L511.8 584.0L512.1 585.2L512.5 586.4L512.8 587.5L513.1 588.7L513.5 589.8L513.8 591.0L514.2 592.1L514.6 593.3L514.9 594.4L515.3 595.6L515.7 596.7L516.0 597.9L516.4 599.0L516.8 600.2L517.2 601.3L517.6 602.5L518.0 603.6L518.4 604.7L518.8 605.9L519.2 607.0L519.6 608.1L520.0 609.3L520.4 610.4L520.8 611.5L521.3 612.7L521.7 613.8L522.1 614.9L522.6 616.0L523.0 617.2L523.5 618.3L523.9 619.4L524.4 620.5L524.9 621.6L525.3 622.7L525.8 623.8L526.3 624.9L526.8 626.0L527.3 627.1L527.8 628.2L528.3 629.3L528.8 630.4L529.3 631.5L529.8 632.6L530.3 633.7L530.9 634.8L531.4 635.9L531.9 636.9L532.5 638.0L533.1 639.1L533.6 640.1L534.2 641.2L534.8 642.3L535.4 643.3L535.9 644.4L536.5 645.4L537.1 646.5L537.8 647.5L538.4 648.5L539.0 649.6L539.6 650.6L540.3 651.6L540.9 652.6L541.6 653.6L542.2 654.7L542.9 655.7L543.6 656.7L544.3 657.6L545.0 658.6L545.7 659.6L546.4 660.6L547.1 661.6L547.8 662.5L548.6 663.5L549.3 664.4L550.1 665.4L550.8 666.3L551.6 667.2L552.4 668.1L553.2 669.1L553.9 670.0L554.8 670.9L555.6 671.8L556.4 672.6L557.2 673.5L558.1 674.4L558.9 675.2L559.8 676.1L560.6 676.9L561.5 677.7L562.4 678.5L563.3 679.4L564.2 680.1L565.1 680.9L566.1 681.7L567.0 682.5L567.9 683.2L568.9 684.0L569.8 684.7L570.8 685.4L571.8 686.1L572.8 686.8L573.8 687.5L574.8 688.2L575.8 688.8L576.8 689.5L577.8 690.1L578.8 690.8L579.9 691.4L580.9 692.0L582.0 692.6L583.0 693.1L584.1 693.7L585.2 694.2L586.3 694.8L587.3 695.3L588.4 695.8L589.5 696.3L590.6 696.8L591.7 697.3L592.8 697.8L594.0 698.2L595.1 698.7L596.2 699.1L597.3 699.5L598.5 699.9L599.6 700.3L600.7 700.7L601.9 701.1L603.0 701.5L604.2 701.8L605.3 702.2L606.5 702.5L607.7 702.9L608.8 703.2L610.0 703.5L611.1 703.8L612.3 704.1L613.5 704.4L614.7 704.7L615.8 705.0L617.0 705.3L618.2 705.6L619.4 705.8L620.5 706.1L621.7 706.3L622.9 706.6L624.1 706.8L625.3 707.1L626.4 707.3L627.6 707.5L628.8 707.7L630.0 708.0L631.2 708.2L632.4 708.4L633.6 708.6L634.7 708.8L635.9 709.0L637.1 709.2L638.3 709.3L639.5 709.5L640.7 709.7L641.9 709.9L643.1 710.0L644.3 710.2L645.5 710.4L646.7 710.5L647.9 710.7L649.1 710.8L650.3 711.0L651.5 711.1L652.7 711.2L653.9 711.4L655.1 711.5L656.3 711.6L657.5 711.8L658.7 711.9L659.9 712.0L661.1 712.1L662.3 712.2L663.5 712.4L664.7 712.5L665.9 712.6L667.1 712.7L668.3 712.8L669.5 712.9L670.7 713.0L671.9 713.1L673.1 713.2L674.3 713.3L675.5 713.4L676.7 713.5L677.9 713.6L679.1 713.6L680.3 713.7L681.5 713.8L682.7 713.9L683.9 714.0L685.1 714.0L686.3 714.1L687.5 714.2L688.7 714.3L689.9 714.4L691.1 714.4L692.3 714.5L693.5 714.6L694.7 714.6L695.9 714.7L697.1 714.8L698.3 714.8L699.5 714.9L700.8 715.0L702.0 715.0L703.2 715.1L704.4 715.2L705.6 715.2L706.8 715.3L708.0 715.4L709.2 715.4L710.4 715.5L711.6 715.5L712.8 715.6L714.0 715.7L715.2 715.7L716.4 715.8L717.6 715.8L718.8 715.9L720.0 716.0L721.2 716.0L722.4 716.1L723.6 716.1L724.8 716.2L726.0 716.2L727.3 716.3L728.5 716.3L729.7 716.4L730.9 716.4L732.1 716.5L733.3 716.6L734.5 716.6L735.7 716.7L736.9 716.7L738.1 716.8L739.3 716.8L740.5 716.9L741.7 716.9L742.9 717.0L744.1 717.0L745.3 717.0L746.5 717.1L747.7 717.1L748.9 717.2L750.1 717.2L751.4 717.3L752.6 717.3L753.8 717.4L755.0 717.4L756.2 717.4L757.4 717.5L758.6 717.5L759.8 717.6L761.0 717.6L762.2 717.6L763.4 717.7L764.6 717.7L765.8 717.8L767.0 717.8L768.2 717.8L769.4 717.9L770.6 717.9L771.8 717.9L773.0 718.0L774.3 718.0L775.5 718.0L776.7 718.1L777.9 718.1L779.1 718.1L780.3 718.1L781.5 718.2L782.7 718.2L783.9 718.2L785.1 718.2L786.3 718.3L787.5 718.3L788.7 718.3L789.9 718.3L791.1 718.3L792.3 718.3L793.5 718.4L794.8 718.4L796.0 718.4L797.2 718.4L798.4 718.4L799.6 718.4L800.8 718.4L802.0 718.4L803.2 718.4L804.4 718.5L805.6 718.5L806.8 718.5L808.0 718.5L809.2 718.5L810.4 718.5L811.6 718.4L812.8 718.4L814.0 718.4L815.3 718.4L816.5 718.4L817.7 718.4L818.9 718.4L820.1 718.4L821.3 718.4L822.5 718.3L823.7 718.3L824.9 718.3L826.1 718.3L827.3 718.2L828.5 718.2L829.7 718.2L830.9 718.2" stroke="#000" stroke-width="1.9"/>
<path d="M500.3 535.6L500.5 536.8L500.8 538.0L501.0 539.1L501.2 540.3L501.4 541.5L501.7 542.7L501.9 543.9L502.1 545.1L502.4 546.2L502.6 547.4L502.8 548.6L503.1 549.8L503.3 551.0L503.5 552.2L503.8 553.3L504.0 554.5L504.3 555.7L504.5 556.9L504.8 558.1L505.0 559.2L505.3 560.4L505.6 561.6L505.8 562.8L506.1 564.0L506.4 565.1L506.6 566.3L506.9 567.5L507.2 568.7L507.4 569.8L507.7 571.0L508.0 572.2L508.3 573.3L508.6 574.5L508.9 575.7L509.2 576.9L509.5 578.0L509.8 579.2L510.1 580.4L510.4 581.5L510.7 582.7L511.0 583.9L511.3 585.0L511.6 586.2L512.0 587.4L512.3 588.5L512.6 589.7L512.9 590.8L513.3 592.0L513.6 593.2L513.9 594.3L514.3 595.5L514.6 596.6L515.0 597.8L515.4 598.9L515.7 600.1L516.1 601.2L516.4 602.4L516.8 603.5L517.2 604.7L517.6 605.8L517.9 607.0L518.3 608.1L518.7 609.2L519.1 610.4L519.5 611.5L519.9 612.7L520.3 613.8L520.8 614.9L521.2 616.1L521.6 617.2L522.0 618.3L522.5 619.4L522.9 620.6L523.3 621.7L523.8 622.8L524.2 623.9L524.7 625.0L525.2 626.2L525.6 627.3L526.1 628.4L526.6 629.5L527.1 630.6L527.6 631.7L528.1 632.8L528.6 633.9L529.1 635.0L529.6 636.1L530.1 637.1L530.7 638.2L531.2 639.3L531.8 640.4L532.3 641.5L532.9 642.5L533.4 643.6L534.0 644.7L534.6 645.7L535.2 646.8L535.8 647.8L536.4 648.8L537.0 649.9L537.6 650.9L538.3 651.9L538.9 653.0L539.5 654.0L540.2 655.0L540.9 656.0L541.6 657.0L542.2 658.0L542.9 659.0L543.6 660.0L544.4 660.9L545.1 661.9L545.8 662.8L546.6 663.8L547.3 664.7L548.1 665.7L548.9 666.6L549.7 667.5L550.5 668.4L551.3 669.3L552.1 670.2L552.9 671.0L553.8 671.9L554.6 672.7L555.5 673.6L556.4 674.4L557.3 675.2L558.2 676.0L559.1 676.8L560.0 677.6L561.0 678.3L561.9 679.1L562.9 679.8L563.9 680.5L564.9 681.2L565.9 681.9L566.9 682.5L567.9 683.2L568.9 683.8L570.0 684.4L571.0 685.0L572.1 685.6L573.1 686.1L574.2 686.7L575.3 687.2L576.4 687.7L577.5 688.2L578.6 688.6L579.7 689.1L580.9 689.5L582.0 689.9L583.1 690.3L584.3 690.7L585.4 691.1L586.6 691.4L587.8 691.8L588.9 692.1L590.1 692.4L591.3 692.7L592.4 692.9L593.6 693.2L594.8 693.4L596.0 693.7L597.2 693.9L598.3 694.1L599.5 694.3L600.7 694.5L601.9 694.7L603.1 694.9L604.3 695.0L605.5 695.2L606.7 695.3L607.9 695.5L609.1 695.6L610.3 695.7L611.5 695.8L612.7 696.0L613.9 696.1L615.1 696.2L616.3 696.3L617.5 696.4L618.7 696.5L619.9 696.6L621.1 696.7L622.3 696.8L623.5 696.9L624.7 697.0L625.9 697.0L627.1 697.1L628.3 697.2L629.5 697.3L630.7 697.3L632.0 697.4L633.2 697.5L634.4 697.5L635.6 697.6L636.8 697.7L638.0 697.7L639.2 697.8L640.4 697.8L641.6 697.9L642.8 697.9L644.0 698.0L645.2 698.0L646.4 698.1L647.6 698.1L648.8 698.2L650.0 698.2L651.2 698.3L652.4 698.3L653.6 698.3L654.9 698.4L656.1 698.4L657.3 698.4L658.5 698.5L659.7 698.5L660.9 698.5L662.1 698.6L663.3 698.6L664.5 698.6L665.7 698.7L666.9 698.7L668.1 698.7L669.3 698.8L670.5 698.8L671.7 698.8L672.9 698.8L674.1 698.9L675.4 698.9L676.6 698.9L677.8 699.0L679.0 699.0L680.2 699.0L681.4 699.0L682.6 699.1L683.8 699.1L685.0 699.1L686.2 699.1L687.4 699.2L688.6 699.2L689.8 699.2L691.0 699.2L692.2 699.3L693.4 699.3L694.7 699.3L695.9 699.3L697.1 699.3L698.3 699.4L699.5 699.4L700.7 699.4L701.9 699.4L703.1 699.5L704.3 699.5L705.5 699.5L706.7 699.5L707.9 699.6L709.1 699.6L710.3 699.6L711.5 699.6L712.7 699.7L714.0 699.7L715.2 699.7L716.4 699.7L717.6 699.8L718.8 699.8L720.0 699.8L721.2 699.8L722.4 699.8L723.6 699.9L724.8 699.9L726.0 699.9L727.2 699.9L728.4 700.0L729.6 700.0L730.8 700.0L732.0 700.0L733.3 700.0L734.5 700.0L735.7 700.1L736.9 700.1L738.1 700.1L739.3 700.1L740.5 700.1L741.7 700.1L742.9 700.1L744.1 700.1L745.3 700.2L746.5 700.2L747.7 700.2L748.9 700.2L750.1 700.2L751.3 700.2L752.6 700.2L753.8 700.2L755.0 700.2L756.2 700.2L757.4 700.2L758.6 700.1L759.8 700.1L761.0 700.1L762.2 700.1L763.4 700.1L764.6 700.1L765.8 700.1L767.0 700.0L768.2 700.0L769.4 700.0L770.6 700.0L771.9 699.9L773.1 699.9L774.3 699.9L775.5 699.8L776.7 699.8L777.9 699.7L779.1 699.7L780.3 699.7L781.5 699.6L782.7 699.6L783.9 699.5L785.1 699.5L786.3 699.4L787.5 699.4L788.7 699.4L789.9 699.3L791.1 699.3L792.3 699.2L793.6 699.2L794.8 699.1L796.0 699.1L797.2 699.0L798.4 699.0L799.6 698.9L800.8 698.9L802.0 698.8L803.2 698.8L804.4 698.7L805.6 698.7L806.8 698.6L808.0 698.6L809.2 698.5L810.4 698.5L811.6 698.4L812.8 698.4L814.0 698.3L815.3 698.3L816.5 698.2L817.7 698.2L818.9 698.2L820.1 698.1L821.3 698.1L822.5 698.1L823.7 698.0L824.9 698.0L826.1 698.0L827.3 697.9L828.5 697.9L829.7 697.9L830.9 697.9" stroke="#ff0000" stroke-width="2.2" stroke-dasharray="6.8 6.2"/>
</g>
<g stroke="#222" stroke-width="0.9" fill="#000">
<path d="M501 560.6H508.4" stroke="#111" stroke-width="1.2"/>
<ellipse cx="504.7" cy="560.6" rx="2.3" ry="1.9" stroke="none"/>
<path d="M515.8 614H523.2" stroke="#111" stroke-width="1.2"/>
<ellipse cx="519.5" cy="614" rx="2.3" ry="1.9" stroke="none"/>
<path d="M529.9 647.7H537.3" stroke="#111" stroke-width="1.2"/>
<ellipse cx="533.6" cy="647.7" rx="2.3" ry="1.9" stroke="none"/>
<path d="M545 669.3H552.4" stroke="#111" stroke-width="1.2"/>
<ellipse cx="548.7" cy="669.3" rx="2.3" ry="1.9" stroke="none"/>
<path d="M559.5 680.3H566.9" stroke="#111" stroke-width="1.2"/>
<ellipse cx="563.2" cy="680.3" rx="2.3" ry="1.9" stroke="none"/>
<path d="M573.4 687.1H580.8" stroke="#111" stroke-width="1.2"/>
<ellipse cx="577.1" cy="687.1" rx="2.3" ry="1.9" stroke="none"/>
<path d="M588 691.5H595.4" stroke="#111" stroke-width="1.2"/>
<ellipse cx="591.7" cy="691.5" rx="2.3" ry="1.9" stroke="none"/>
<path d="M614.4 700.8H621.8" stroke="#111" stroke-width="1.2"/>
<ellipse cx="618.1" cy="700.8" rx="2.3" ry="1.9" stroke="none"/>
<path d="M640.5 698.6H647.9" stroke="#111" stroke-width="1.2"/>
<ellipse cx="644.2" cy="698.6" rx="2.3" ry="1.9" stroke="none"/>
<path d="M664.9 700H672.3" stroke="#111" stroke-width="1.2"/>
<ellipse cx="668.6" cy="700" rx="2.3" ry="1.9" stroke="none"/>
<path d="M687.9 700.8H695.3" stroke="#111" stroke-width="1.2"/>
<ellipse cx="691.6" cy="700.8" rx="2.3" ry="1.9" stroke="none"/>
<path d="M707.2 699H714.6" stroke="#111" stroke-width="1.2"/>
<ellipse cx="710.9" cy="699" rx="2.3" ry="1.9" stroke="none"/>
<path d="M727 696.9H734.4" stroke="#111" stroke-width="1.2"/>
<ellipse cx="730.7" cy="696.9" rx="2.3" ry="1.9" stroke="none"/>
<path d="M746.3 696.3H753.7" stroke="#111" stroke-width="1.2"/>
<ellipse cx="750" cy="696.3" rx="2.3" ry="1.9" stroke="none"/>
<path d="M766.5 696.9H773.9" stroke="#111" stroke-width="1.2"/>
<ellipse cx="770.2" cy="696.9" rx="2.3" ry="1.9" stroke="none"/>
<path d="M786.2 695.2H793.6" stroke="#111" stroke-width="1.2"/>
<ellipse cx="789.9" cy="695.2" rx="2.3" ry="1.9" stroke="none"/>
</g>
<text transform="translate(474.8 741.4) scale(1.14 1)" font-size="12.4" font-weight="bold" font-style="normal" text-anchor="middle" fill="#000">0.0</text>
<text transform="translate(531.3 741.4) scale(1.14 1)" font-size="12.4" font-weight="bold" font-style="normal" text-anchor="middle" fill="#000">0.5</text>
<text transform="translate(587.8 741.4) scale(1.14 1)" font-size="12.4" font-weight="bold" font-style="normal" text-anchor="middle" fill="#000">1.0</text>
<text transform="translate(644.3 741.4) scale(1.14 1)" font-size="12.4" font-weight="bold" font-style="normal" text-anchor="middle" fill="#000">1.5</text>
<text transform="translate(700.8 741.4) scale(1.14 1)" font-size="12.4" font-weight="bold" font-style="normal" text-anchor="middle" fill="#000">2.0</text>
<text transform="translate(757.3 741.4) scale(1.14 1)" font-size="12.4" font-weight="bold" font-style="normal" text-anchor="middle" fill="#000">2.5</text>
<text transform="translate(813.8 741.4) scale(1.14 1)" font-size="12.4" font-weight="bold" font-style="normal" text-anchor="middle" fill="#000">3.0</text>
<text transform="translate(471.3 543.8) scale(1.14 1)" font-size="12.4" font-weight="bold" font-style="normal" text-anchor="end" fill="#000">10</text>
<text transform="translate(471.3 567.63) scale(1.14 1)" font-size="12.4" font-weight="bold" font-style="normal" text-anchor="end" fill="#000">5</text>
<text transform="translate(471.3 622.95) scale(1.14 1)" font-size="12.4" font-weight="bold" font-style="normal" text-anchor="end" fill="#000">1</text>
<text transform="translate(471.3 646.78) scale(1.14 1)" font-size="12.4" font-weight="bold" font-style="normal" text-anchor="end" fill="#000">0.50</text>
<text transform="translate(471.3 702.1) scale(1.14 1)" font-size="12.4" font-weight="bold" font-style="normal" text-anchor="end" fill="#000">0.10</text>
<text transform="translate(471.3 725.93) scale(1.14 1)" font-size="12.4" font-weight="bold" font-style="normal" text-anchor="end" fill="#000">0.05</text>
<text transform="translate(604.65 529.8) scale(1.14 1)" font-size="12.2" font-weight="bold" fill="#000"><tspan font-style="italic">E</tspan><tspan font-size="8.7" dy="1.9" dx="0.2" letter-spacing="0.1">Lab</tspan><tspan dy="-1.9" dx="-0.3">=2.46 MeV</tspan></text>
<g font-size="12.2" font-weight="bold" fill="#000">
<text transform="translate(622.95 761.7) scale(0.98 1)" font-style="italic">&#952;</text>
<text transform="translate(629.35 763.3) scale(1.14 1)" font-size="9.2">CM</text>
<text transform="translate(646.05 761.7) scale(1.11 1)">(Rad)</text>
</g>
<text transform="translate(433.5 633.6) rotate(-90) scale(1 1.1)" font-size="12.0" font-weight="bold" text-anchor="middle" fill="#000">d<tspan font-style="italic">&#963;</tspan>/d&#937;(barn/sr)</text>
<path d="M755 554.5H767.3" stroke="#111" stroke-width="1.0"/>
<text transform="translate(774.4 556.7) scale(1.14 1)" font-size="9.3" fill="#111">3<tspan font-style="italic">S</tspan><tspan font-size="6.8" dy="1.6">1</tspan></text>
<path d="M752.2 582.1h5.8m6.2 0h5.8" stroke="#ff3c3c" stroke-width="1.3"/>
<text transform="translate(774.4 584.1) scale(1.17 1)" font-size="9.3" fill="#111">3<tspan font-style="italic">S</tspan><tspan font-size="6.8" dy="1.6">1</tspan><tspan dy="-1.6">+3</tspan><tspan font-style="italic">D</tspan><tspan font-size="6.8" dy="1.6">3</tspan></text>
<ellipse cx="760.9" cy="608.1" rx="3.2" ry="3.0" fill="#000"/>
<text transform="translate(774.4 611) scale(1.14 1)" font-size="9.6" fill="#111">Exp</text>
</g>
<g>
<clipPath id="c41"><rect x="51.5" y="797.9" width="355.5" height="188.7"/></clipPath>
<g stroke="#949494" stroke-width="0.85" fill="none">
<rect x="51.9" y="798.3" width="354.7" height="187.9"/>
<path d="M51.9 986.2v-4.2M51.9 798.3v4.2M63.19 986.2v-2.5M63.19 798.3v2.5M74.48 986.2v-2.5M74.48 798.3v2.5M85.77 986.2v-2.5M85.77 798.3v2.5M97.06 986.2v-2.5M97.06 798.3v2.5M108.35 986.2v-4.2M108.35 798.3v4.2M119.64 986.2v-2.5M119.64 798.3v2.5M130.93 986.2v-2.5M130.93 798.3v2.5M142.22 986.2v-2.5M142.22 798.3v2.5M153.51 986.2v-2.5M153.51 798.3v2.5M164.8 986.2v-4.2M164.8 798.3v4.2M176.09 986.2v-2.5M176.09 798.3v2.5M187.38 986.2v-2.5M187.38 798.3v2.5M198.67 986.2v-2.5M198.67 798.3v2.5M209.96 986.2v-2.5M209.96 798.3v2.5M221.25 986.2v-4.2M221.25 798.3v4.2M232.54 986.2v-2.5M232.54 798.3v2.5M243.83 986.2v-2.5M243.83 798.3v2.5M255.12 986.2v-2.5M255.12 798.3v2.5M266.41 986.2v-2.5M266.41 798.3v2.5M277.7 986.2v-4.2M277.7 798.3v4.2M288.99 986.2v-2.5M288.99 798.3v2.5M300.28 986.2v-2.5M300.28 798.3v2.5M311.57 986.2v-2.5M311.57 798.3v2.5M322.86 986.2v-2.5M322.86 798.3v2.5M334.15 986.2v-4.2M334.15 798.3v4.2M345.44 986.2v-2.5M345.44 798.3v2.5M356.73 986.2v-2.5M356.73 798.3v2.5M368.02 986.2v-2.5M368.02 798.3v2.5M379.31 986.2v-2.5M379.31 798.3v2.5M390.6 986.2v-4.2M390.6 798.3v4.2M401.89 986.2v-2.5M401.89 798.3v2.5M51.9 980.49h2.4M406.6 980.49h-2.4M51.9 975h2.4M406.6 975h-2.4M51.9 970.25h2.4M406.6 970.25h-2.4M51.9 966.05h2.4M406.6 966.05h-2.4M51.9 962.3h4.2M406.6 962.3h-4.2M51.9 937.62h3.3M406.6 937.62h-3.3M51.9 923.18h3.3M406.6 923.18h-3.3M51.9 912.93h3.3M406.6 912.93h-3.3M51.9 904.98h4.2M406.6 904.98h-4.2M51.9 898.49h2.4M406.6 898.49h-2.4M51.9 893h2.4M406.6 893h-2.4M51.9 888.25h2.4M406.6 888.25h-2.4M51.9 884.05h2.4M406.6 884.05h-2.4M51.9 880.3h4.2M406.6 880.3h-4.2M51.9 855.62h3.3M406.6 855.62h-3.3M51.9 841.18h3.3M406.6 841.18h-3.3M51.9 830.93h3.3M406.6 830.93h-3.3M51.9 822.98h4.2M406.6 822.98h-4.2M51.9 816.49h2.4M406.6 816.49h-2.4M51.9 811h2.4M406.6 811h-2.4M51.9 806.25h2.4M406.6 806.25h-2.4M51.9 802.05h2.4M406.6 802.05h-2.4M51.9 798.3h4.2M406.6 798.3h-4.2" stroke="#757575" stroke-width="0.65"/>
</g>
<g clip-path="url(#c41)" fill="none" stroke-linejoin="round">
<path d="M74.9 793.5L75.1 794.7L75.3 795.8L75.5 797.0L75.7 798.2L75.9 799.4L76.1 800.6L76.3 801.8L76.6 803.0L76.8 804.2L77.0 805.3L77.2 806.5L77.4 807.7L77.6 808.9L77.9 810.1L78.1 811.3L78.3 812.4L78.5 813.6L78.8 814.8L79.0 816.0L79.2 817.2L79.5 818.4L79.7 819.5L79.9 820.7L80.2 821.9L80.4 823.1L80.6 824.3L80.9 825.5L81.1 826.6L81.4 827.8L81.6 829.0L81.8 830.2L82.1 831.4L82.3 832.5L82.6 833.7L82.8 834.9L83.1 836.1L83.3 837.3L83.6 838.4L83.8 839.6L84.1 840.8L84.4 842.0L84.6 843.1L84.9 844.3L85.1 845.5L85.4 846.7L85.7 847.9L85.9 849.0L86.2 850.2L86.5 851.4L86.8 852.6L87.0 853.7L87.3 854.9L87.6 856.1L87.9 857.2L88.1 858.4L88.4 859.6L88.7 860.8L89.0 861.9L89.3 863.1L89.6 864.3L89.9 865.4L90.1 866.6L90.4 867.8L90.7 869.0L91.0 870.1L91.3 871.3L91.6 872.5L91.9 873.6L92.2 874.8L92.5 876.0L92.9 877.1L93.2 878.3L93.5 879.4L93.8 880.6L94.1 881.8L94.4 882.9L94.8 884.1L95.1 885.3L95.4 886.4L95.8 887.6L96.1 888.7L96.4 889.9L96.8 891.0L97.1 892.2L97.5 893.3L97.8 894.5L98.2 895.7L98.5 896.8L98.9 898.0L99.3 899.1L99.6 900.2L100.0 901.4L100.4 902.5L100.8 903.7L101.2 904.8L101.5 906.0L101.9 907.1L102.3 908.2L102.8 909.4L103.2 910.5L103.6 911.6L104.0 912.8L104.4 913.9L104.9 915.0L105.3 916.1L105.8 917.3L106.2 918.4L106.7 919.5L107.1 920.6L107.6 921.7L108.1 922.8L108.6 923.9L109.1 925.0L109.6 926.1L110.1 927.2L110.6 928.3L111.2 929.4L111.7 930.4L112.3 931.5L112.8 932.6L113.4 933.6L114.0 934.7L114.6 935.7L115.3 936.7L115.9 937.8L116.5 938.8L117.2 939.8L117.9 940.8L118.6 941.7L119.3 942.7L120.1 943.7L120.8 944.6L121.6 945.5L122.4 946.4L123.2 947.3L124.1 948.2L124.9 949.0L125.8 949.8L126.7 950.6L127.6 951.4L128.6 952.2L129.5 952.9L130.5 953.6L131.5 954.3L132.5 954.9L133.6 955.6L134.6 956.2L135.6 956.8L136.7 957.3L137.8 957.9L138.9 958.4L140.0 958.9L141.1 959.4L142.2 959.8L143.3 960.3L144.4 960.7L145.6 961.1L146.7 961.5L147.9 961.8L149.0 962.2L150.2 962.5L151.3 962.8L152.5 963.1L153.7 963.4L154.9 963.6L156.1 963.9L157.2 964.1L158.4 964.3L159.6 964.5L160.8 964.7L162.0 964.9L163.2 965.0L164.4 965.2L165.6 965.3L166.8 965.5L168.0 965.6L169.2 965.7L170.4 965.9L171.6 966.0L172.8 966.1L174.0 966.2L175.2 966.3L176.4 966.4L177.6 966.5L178.8 966.6L180.0 966.7L181.2 966.8L182.4 966.9L183.6 967.0L184.8 967.1L186.0 967.2L187.2 967.3L188.4 967.4L189.6 967.5L190.8 967.5L192.0 967.6L193.2 967.7L194.4 967.8L195.6 967.8L196.8 967.9L198.0 968.0L199.2 968.0L200.4 968.1L201.6 968.1L202.8 968.2L204.0 968.3L205.2 968.3L206.4 968.4L207.6 968.4L208.8 968.5L210.1 968.5L211.3 968.5L212.5 968.6L213.7 968.6L214.9 968.7L216.1 968.7L217.3 968.7L218.5 968.7L219.7 968.8L220.9 968.8L222.1 968.8L223.3 968.9L224.5 968.9L225.7 968.9L226.9 968.9L228.1 969.0L229.3 969.0L230.5 969.0L231.7 969.0L232.9 969.0L234.2 969.0L235.4 969.1L236.6 969.1L237.8 969.1L239.0 969.1L240.2 969.1L241.4 969.1L242.6 969.2L243.8 969.2L245.0 969.2L246.2 969.2L247.4 969.2L248.6 969.2L249.8 969.2L251.0 969.2L252.2 969.2L253.4 969.3L254.6 969.3L255.9 969.3L257.1 969.3L258.3 969.3L259.5 969.3L260.7 969.3L261.9 969.3L263.1 969.3L264.3 969.4L265.5 969.4L266.7 969.4L267.9 969.4L269.1 969.4L270.3 969.4L271.5 969.4L272.7 969.4L273.9 969.4L275.1 969.5L276.3 969.5L277.5 969.5L278.8 969.5L280.0 969.5L281.2 969.5L282.4 969.5L283.6 969.5L284.8 969.5L286.0 969.6L287.2 969.6L288.4 969.6L289.6 969.6L290.8 969.6L292.0 969.6L293.2 969.6L294.4 969.7L295.6 969.7L296.8 969.7L298.0 969.7L299.2 969.7L300.4 969.7L301.7 969.7L302.9 969.8L304.1 969.8L305.3 969.8L306.5 969.8L307.7 969.8L308.9 969.8L310.1 969.8L311.3 969.9L312.5 969.9L313.7 969.9L314.9 969.9L316.1 969.9L317.3 969.9L318.5 970.0L319.7 970.0L320.9 970.0L322.1 970.0L323.3 970.0L324.6 970.0L325.8 970.0L327.0 970.1L328.2 970.1L329.4 970.1L330.6 970.1L331.8 970.1L333.0 970.1L334.2 970.1L335.4 970.2L336.6 970.2L337.8 970.2L339.0 970.2L340.2 970.2L341.4 970.2L342.6 970.2L343.8 970.3L345.0 970.3L346.2 970.3L347.5 970.3L348.7 970.3L349.9 970.3L351.1 970.3L352.3 970.3L353.5 970.3L354.7 970.3L355.9 970.3L357.1 970.4L358.3 970.4L359.5 970.4L360.7 970.4L361.9 970.4L363.1 970.4L364.3 970.4L365.5 970.4L366.7 970.4L367.9 970.4L369.1 970.4L370.4 970.4L371.6 970.4L372.8 970.4L374.0 970.4L375.2 970.4L376.4 970.4L377.6 970.4L378.8 970.3L380.0 970.3L381.2 970.3L382.4 970.3L383.6 970.3L384.8 970.3L386.0 970.3L387.2 970.3L388.4 970.2L389.6 970.2L390.8 970.2L392.1 970.2L393.3 970.2L394.5 970.1L395.7 970.1L396.9 970.1L398.1 970.1L399.3 970.0L400.5 970.0L401.7 970.0L402.9 969.9L404.1 969.9L405.3 969.8L406.5 969.8L407.7 969.8" stroke="#000" stroke-width="2.0"/>
<path d="M74.9 793.5L75.1 794.7L75.3 795.8L75.5 797.0L75.7 798.2L75.9 799.4L76.1 800.6L76.3 801.8L76.6 803.0L76.8 804.2L77.0 805.3L77.2 806.5L77.4 807.7L77.6 808.9L77.9 810.1L78.1 811.3L78.3 812.4L78.5 813.6L78.8 814.8L79.0 816.0L79.2 817.2L79.5 818.4L79.7 819.5L79.9 820.7L80.2 821.9L80.4 823.1L80.6 824.3L80.9 825.5L81.1 826.6L81.4 827.8L81.6 829.0L81.8 830.2L82.1 831.4L82.3 832.5L82.6 833.7L82.8 834.9L83.1 836.1L83.3 837.3L83.6 838.4L83.8 839.6L84.1 840.8L84.4 842.0L84.6 843.1L84.9 844.3L85.1 845.5L85.4 846.7L85.7 847.9L85.9 849.0L86.2 850.2L86.5 851.4L86.8 852.6L87.0 853.7L87.3 854.9L87.6 856.1L87.9 857.2L88.1 858.4L88.4 859.6L88.7 860.8L89.0 861.9L89.3 863.1L89.6 864.3L89.9 865.4L90.1 866.6L90.4 867.8L90.7 869.0L91.0 870.1L91.3 871.3L91.6 872.5L91.9 873.6L92.2 874.8L92.5 876.0L92.9 877.1L93.2 878.3L93.5 879.4L93.8 880.6L94.1 881.8L94.4 882.9L94.8 884.1L95.1 885.3L95.4 886.4L95.8 887.6L96.1 888.7L96.4 889.9L96.8 891.0L97.1 892.2L97.5 893.3L97.8 894.5L98.2 895.7L98.5 896.8L98.9 898.0L99.3 899.1L99.6 900.2L100.0 901.4L100.4 902.5L100.8 903.7L101.2 904.8L101.5 906.0L101.9 907.1L102.3 908.2L102.8 909.4L103.2 910.5L103.6 911.6L104.0 912.8L104.4 913.9L104.9 915.0L105.3 916.1L105.8 917.3L106.2 918.4L106.7 919.5L107.1 920.6L107.6 921.7L108.1 922.8L108.6 923.9L109.1 925.0L109.6 926.1L110.1 927.2L110.6 928.3L111.2 929.4L111.7 930.4L112.3 931.5L112.8 932.6L113.4 933.6L114.0 934.7L114.6 935.7L115.3 936.7L115.9 937.8L116.5 938.8L117.2 939.8L117.9 940.8L118.6 941.7L119.3 942.7L120.1 943.7L120.8 944.6L121.6 945.5L122.4 946.4L123.2 947.3L124.1 948.2L124.9 949.0L125.8 949.8L126.7 950.6L127.6 951.4L128.6 952.2L129.5 952.9L130.5 953.6L131.5 954.3L132.5 954.9L133.6 955.6L134.6 956.2L135.6 956.8L136.7 957.3L137.8 957.9L138.9 958.4L140.0 958.9L141.1 959.4L142.2 959.8L143.3 960.3L144.4 960.7L145.6 961.1L146.7 961.5L147.9 961.8L149.0 962.2L150.2 962.5L151.3 962.8L152.5 963.1L153.7 963.4L154.9 963.6L156.1 963.9L157.2 964.1L158.4 964.3L159.6 964.5L160.8 964.7L162.0 964.9L163.2 965.0L164.4 965.2L165.6 965.3L166.8 965.5L168.0 965.6L169.2 965.7L170.4 965.9L171.6 966.0L172.8 966.1L174.0 966.2L175.2 966.3L176.4 966.4L177.6 966.5L178.8 966.6L180.0 966.7L181.2 966.8L182.4 966.9L183.6 967.0L184.8 967.1L186.0 967.2L187.2 967.3L188.4 967.4L189.6 967.5L190.8 967.5L192.0 967.6L193.2 967.7L194.4 967.8L195.6 967.8L196.8 967.9L198.0 968.0L199.2 968.0L200.4 968.1L201.6 968.1L202.8 968.2L204.0 968.3L205.2 968.3L206.4 968.4L207.6 968.4L208.8 968.5L210.1 968.5L211.3 968.5L212.5 968.6L213.7 968.6L214.9 968.7L216.1 968.7L217.3 968.7L218.5 968.7L219.7 968.8L220.9 968.8L222.1 968.8L223.3 968.9L224.5 968.9L225.7 968.9L226.9 968.9L228.1 969.0L229.3 969.0L230.5 969.0L231.7 969.0L232.9 969.0L234.2 969.0L235.4 969.1L236.6 969.1L237.8 969.1L239.0 969.1L240.2 969.1L241.4 969.1L242.6 969.2L243.8 969.2L245.0 969.2L246.2 969.2L247.4 969.2L248.6 969.2L249.8 969.2L251.0 969.2L252.2 969.2L253.4 969.3L254.6 969.3L255.9 969.3L257.1 969.3L258.3 969.3L259.5 969.3L260.7 969.3L261.9 969.3L263.1 969.3L264.3 969.4L265.5 969.4L266.7 969.4L267.9 969.4L269.1 969.4L270.3 969.4L271.5 969.4L272.7 969.4L273.9 969.4L275.1 969.5L276.3 969.5L277.5 969.5L278.8 969.5L280.0 969.5L281.2 969.5L282.4 969.5L283.6 969.5L284.8 969.5L286.0 969.6L287.2 969.6L288.4 969.6L289.6 969.6L290.8 969.6L292.0 969.6L293.2 969.6L294.4 969.7L295.6 969.7L296.8 969.7L298.0 969.7L299.2 969.7L300.4 969.7L301.7 969.7L302.9 969.8L304.1 969.8L305.3 969.8L306.5 969.8L307.7 969.8L308.9 969.8L310.1 969.8L311.3 969.9L312.5 969.9L313.7 969.9L314.9 969.9L316.1 969.9L317.3 969.9L318.5 970.0L319.7 970.0L320.9 970.0L322.1 970.0L323.3 970.0L324.6 970.0L325.8 970.0L327.0 970.1L328.2 970.1L329.4 970.1L330.6 970.1L331.8 970.1L333.0 970.1L334.2 970.1L335.4 970.2L336.6 970.2L337.8 970.2L339.0 970.2L340.2 970.2L341.4 970.2L342.6 970.2L343.8 970.3L345.0 970.3L346.2 970.3L347.5 970.3L348.7 970.3L349.9 970.3L351.1 970.3L352.3 970.3L353.5 970.3L354.7 970.3L355.9 970.3L357.1 970.4L358.3 970.4L359.5 970.4L360.7 970.4L361.9 970.4L363.1 970.4L364.3 970.4L365.5 970.4L366.7 970.4L367.9 970.4L369.1 970.4L370.4 970.4L371.6 970.4L372.8 970.4L374.0 970.4L375.2 970.4L376.4 970.4L377.6 970.4L378.8 970.3L380.0 970.3L381.2 970.3L382.4 970.3L383.6 970.3L384.8 970.3L386.0 970.3L387.2 970.3L388.4 970.2L389.6 970.2L390.8 970.2L392.1 970.2L393.3 970.2L394.5 970.1L395.7 970.1L396.9 970.1L398.1 970.1L399.3 970.0L400.5 970.0L401.7 970.0L402.9 969.9L404.1 969.9L405.3 969.8L406.5 969.8L407.7 969.8" stroke="#0000ff" stroke-width="2.0" stroke-dasharray="2.2 2.2"/>
<path d="M74.3 795.1L74.5 796.3L74.7 797.5L74.9 798.7L75.1 799.9L75.4 801.0L75.6 802.2L75.8 803.4L76.1 804.6L76.3 805.8L76.6 806.9L76.8 808.1L77.1 809.3L77.3 810.5L77.6 811.7L77.8 812.8L78.1 814.0L78.3 815.2L78.6 816.4L78.8 817.6L79.1 818.7L79.3 819.9L79.6 821.1L79.9 822.3L80.1 823.5L80.4 824.6L80.6 825.8L80.9 827.0L81.1 828.2L81.4 829.3L81.6 830.5L81.9 831.7L82.2 832.9L82.4 834.1L82.7 835.2L82.9 836.4L83.2 837.6L83.4 838.8L83.7 839.9L84.0 841.1L84.2 842.3L84.5 843.5L84.7 844.7L85.0 845.8L85.3 847.0L85.5 848.2L85.8 849.4L86.0 850.5L86.3 851.7L86.6 852.9L86.8 854.1L87.1 855.3L87.4 856.4L87.6 857.6L87.9 858.8L88.2 860.0L88.4 861.1L88.7 862.3L89.0 863.5L89.3 864.7L89.5 865.8L89.8 867.0L90.1 868.2L90.4 869.4L90.7 870.5L90.9 871.7L91.2 872.9L91.5 874.0L91.8 875.2L92.1 876.4L92.4 877.5L92.7 878.7L93.0 879.9L93.3 881.1L93.6 882.2L93.9 883.4L94.2 884.6L94.5 885.7L94.8 886.9L95.2 888.0L95.5 889.2L95.8 890.4L96.2 891.5L96.5 892.7L96.8 893.8L97.2 895.0L97.5 896.1L97.9 897.3L98.3 898.4L98.6 899.6L99.0 900.7L99.4 901.9L99.8 903.0L100.2 904.2L100.6 905.3L101.0 906.4L101.4 907.6L101.9 908.7L102.3 909.8L102.7 910.9L103.2 912.0L103.7 913.2L104.1 914.3L104.6 915.4L105.1 916.5L105.6 917.6L106.1 918.7L106.6 919.8L107.1 920.9L107.7 921.9L108.2 923.0L108.8 924.1L109.3 925.1L109.9 926.2L110.5 927.3L111.1 928.3L111.7 929.3L112.4 930.4L113.0 931.4L113.6 932.4L114.3 933.4L115.0 934.4L115.7 935.4L116.4 936.4L117.1 937.3L117.8 938.3L118.6 939.2L119.3 940.2L120.1 941.1L120.9 942.0L121.7 942.9L122.5 943.8L123.3 944.7L124.2 945.6L125.0 946.4L125.9 947.2L126.8 948.0L127.7 948.8L128.6 949.6L129.6 950.4L130.5 951.1L131.5 951.8L132.5 952.5L133.5 953.2L134.5 953.9L135.5 954.5L136.5 955.1L137.6 955.7L138.7 956.3L139.7 956.8L140.8 957.4L141.9 957.9L143.0 958.4L144.1 958.8L145.3 959.3L146.4 959.7L147.5 960.1L148.7 960.5L149.8 960.8L151.0 961.2L152.1 961.5L153.3 961.8L154.5 962.1L155.6 962.4L156.8 962.7L158.0 963.0L159.1 963.3L160.3 963.5L161.5 963.8L162.7 964.0L163.9 964.2L165.1 964.4L166.2 964.7L167.4 964.9L168.6 965.1L169.8 965.3L171.0 965.5L172.2 965.6L173.4 965.8L174.6 966.0L175.8 966.1L177.0 966.3L178.2 966.5L179.4 966.6L180.6 966.7L181.8 966.9L183.0 967.0L184.2 967.1L185.4 967.3L186.6 967.4L187.8 967.5L189.0 967.6L190.2 967.7L191.4 967.8L192.6 967.9L193.8 968.0L195.0 968.1L196.2 968.2L197.4 968.3L198.6 968.4L199.8 968.5L201.0 968.6L202.2 968.7L203.4 968.8L204.6 968.8L205.8 968.9L207.0 969.0L208.2 969.1L209.4 969.1L210.6 969.2L211.8 969.3L213.0 969.3L214.2 969.4L215.4 969.4L216.6 969.5L217.8 969.6L219.0 969.6L220.2 969.7L221.4 969.7L222.7 969.8L223.9 969.8L225.1 969.9L226.3 969.9L227.5 970.0L228.7 970.0L229.9 970.1L231.1 970.1L232.3 970.1L233.5 970.2L234.7 970.2L235.9 970.2L237.1 970.3L238.3 970.3L239.5 970.3L240.7 970.3L241.9 970.4L243.1 970.4L244.4 970.4L245.6 970.4L246.8 970.5L248.0 970.5L249.2 970.5L250.4 970.5L251.6 970.5L252.8 970.5L254.0 970.5L255.2 970.5L256.4 970.5L257.6 970.5L258.8 970.5L260.0 970.5L261.2 970.5L262.4 970.5L263.6 970.5L264.9 970.4L266.1 970.4L267.3 970.4L268.5 970.4L269.7 970.4L270.9 970.3L272.1 970.3L273.3 970.3L274.5 970.2L275.7 970.2L276.9 970.1L278.1 970.1L279.3 970.0L280.5 970.0L281.7 969.9L282.9 969.9L284.1 969.8L285.3 969.7L286.5 969.7L287.8 969.6L289.0 969.5L290.2 969.4L291.4 969.4L292.6 969.3L293.8 969.2L295.0 969.1L296.2 969.0L297.4 968.9L298.6 968.7L299.8 968.6L301.0 968.5L302.2 968.3L303.4 968.2L304.6 968.0L305.7 967.8L306.9 967.7L308.1 967.5L309.3 967.3L310.5 967.0L311.7 966.8L312.9 966.6L314.0 966.3L315.2 966.0L316.4 965.7L317.6 965.5L318.7 965.1L319.9 964.8L321.1 964.5L322.2 964.2L323.4 963.9L324.5 963.5L325.7 963.2L326.9 962.9L328.0 962.5L329.2 962.2L330.3 961.9L331.5 961.6L332.7 961.2L333.8 960.9L335.0 960.6L336.2 960.3L337.3 960.0L338.5 959.7L339.7 959.4L340.8 959.1L342.0 958.9L343.2 958.6L344.4 958.3L345.5 958.0L346.7 957.8L347.9 957.5L349.1 957.3L350.3 957.0L351.4 956.8L352.6 956.5L353.8 956.3L355.0 956.0L356.2 955.8L357.3 955.6L358.5 955.4L359.7 955.2L360.9 954.9L362.1 954.7L363.3 954.5L364.5 954.4L365.7 954.2L366.9 954.0L368.1 953.8L369.2 953.6L370.4 953.5L371.6 953.3L372.8 953.2L374.0 953.0L375.2 952.9L376.4 952.7L377.6 952.6L378.8 952.5L380.0 952.4L381.2 952.3L382.4 952.1L383.6 952.0L384.8 951.9L386.0 951.9L387.2 951.8L388.4 951.7L389.6 951.6L390.8 951.5L392.1 951.4L393.3 951.4L394.5 951.3L395.7 951.3L396.9 951.2L398.1 951.1L399.3 951.1L400.5 951.0L401.7 951.0L402.9 950.9L404.1 950.9L405.3 950.9L406.5 950.8L407.7 950.8" stroke="#ff0000" stroke-width="2.0" stroke-dasharray="6.8 6.2"/>
</g>
<g stroke="#222" stroke-width="0.9" fill="#000">
<path d="M150.3 948.6V962.1M146.7 948.6H153.9M146.7 962.1H153.9" stroke="#222" fill="none"/>
<ellipse cx="150.3" cy="955.4" rx="2.1" ry="1.95" stroke="none"/>
<path d="M170.6 955.4V970.4M167 955.4H174.2M167 970.4H174.2" stroke="#222" fill="none"/>
<ellipse cx="170.6" cy="963.5" rx="2.1" ry="1.95" stroke="none"/>
<path d="M189.7 959.2V975.6M186.1 959.2H193.3M186.1 975.6H193.3" stroke="#222" fill="none"/>
<ellipse cx="189.7" cy="967.5" rx="2.1" ry="1.95" stroke="none"/>
<path d="M209.5 962.5V980.6M205.9 962.5H213.1M205.9 980.6H213.1" stroke="#222" fill="none"/>
<ellipse cx="209.5" cy="971.7" rx="2.1" ry="1.95" stroke="none"/>
<path d="M229.2 962.5V981.4M225.6 962.5H232.8M225.6 981.4H232.8" stroke="#222" fill="none"/>
<ellipse cx="229.2" cy="972.1" rx="2.1" ry="1.95" stroke="none"/>
<path d="M248.5 964V978.5M244.9 964H252.1M244.9 978.5H252.1" stroke="#222" fill="none"/>
<ellipse cx="248.5" cy="971.7" rx="2.1" ry="1.95" stroke="none"/>
<path d="M268.3 962.5V975.6M264.7 962.5H271.9M264.7 975.6H271.9" stroke="#222" fill="none"/>
<ellipse cx="268.3" cy="969.4" rx="2.1" ry="1.95" stroke="none"/>
<path d="M288.2 959.8V972.1M284.6 959.8H291.8M284.6 972.1H291.8" stroke="#777" fill="none"/>
<ellipse cx="288.2" cy="966.3" rx="2.1" ry="1.95" stroke="none"/>
<path d="M307.8 960.2V968.3M304.2 960.2H311.4M304.2 968.3H311.4" stroke="#555" fill="none"/>
<ellipse cx="307.8" cy="964.4" rx="2.1" ry="1.95" stroke="none"/>
</g>
<text transform="translate(51.9 1000.5) scale(1.14 1)" font-size="12.4" font-weight="bold" font-style="normal" text-anchor="middle" fill="#000">0.0</text>
<text transform="translate(108.35 1000.5) scale(1.14 1)" font-size="12.4" font-weight="bold" font-style="normal" text-anchor="middle" fill="#000">0.5</text>
<text transform="translate(164.8 1000.5) scale(1.14 1)" font-size="12.4" font-weight="bold" font-style="normal" text-anchor="middle" fill="#000">1.0</text>
<text transform="translate(221.25 1000.5) scale(1.14 1)" font-size="12.4" font-weight="bold" font-style="normal" text-anchor="middle" fill="#000">1.5</text>
<text transform="translate(277.7 1000.5) scale(1.14 1)" font-size="12.4" font-weight="bold" font-style="normal" text-anchor="middle" fill="#000">2.0</text>
<text transform="translate(334.15 1000.5) scale(1.14 1)" font-size="12.4" font-weight="bold" font-style="normal" text-anchor="middle" fill="#000">2.5</text>
<text transform="translate(390.6 1000.5) scale(1.14 1)" font-size="12.4" font-weight="bold" font-style="normal" text-anchor="middle" fill="#000">3.0</text>
<text transform="translate(48.4 803) scale(1.14 1)" font-size="12.4" font-weight="bold" font-style="normal" text-anchor="end" fill="#000">10</text>
<text transform="translate(48.4 827.68) scale(1.14 1)" font-size="12.4" font-weight="bold" font-style="normal" text-anchor="end" fill="#000">5</text>
<text transform="translate(48.4 885) scale(1.14 1)" font-size="12.4" font-weight="bold" font-style="normal" text-anchor="end" fill="#000">1</text>
<text transform="translate(48.4 909.68) scale(1.14 1)" font-size="12.4" font-weight="bold" font-style="normal" text-anchor="end" fill="#000">0.50</text>
<text transform="translate(48.4 967) scale(1.14 1)" font-size="12.4" font-weight="bold" font-style="normal" text-anchor="end" fill="#000">0.10</text>
<text transform="translate(48.4 991.68) scale(1.14 1)" font-size="12.4" font-weight="bold" font-style="normal" text-anchor="end" fill="#000">0.05</text>
<text transform="translate(181.65 789) scale(1.14 1)" font-size="12.2" font-weight="bold" fill="#000"><tspan font-style="italic">E</tspan><tspan font-size="8.7" dy="1.9" dx="0.2" letter-spacing="0.1">Lab</tspan><tspan dy="-1.9" dx="-0.3">=2.94 MeV</tspan></text>
<g font-size="12.2" font-weight="bold" fill="#000">
<text transform="translate(199.95 1020.8) scale(0.98 1)" font-style="italic">&#952;</text>
<text transform="translate(206.35 1022.4) scale(1.14 1)" font-size="9.2">CM</text>
<text transform="translate(223.05 1020.8) scale(1.11 1)">(Rad)</text>
</g>
<text transform="translate(9.8 892.75) rotate(-90) scale(1 1.1)" font-size="12.0" font-weight="bold" text-anchor="middle" fill="#000">d<tspan font-style="italic">&#963;</tspan>/d&#937;(barn/sr)</text>
<path d="M339.5 813.5H351.8" stroke="#666" stroke-width="0.9"/>
<text transform="translate(358.9 815.9) scale(1.14 1)" font-size="9.8" fill="#111">S</text>
<path d="M337.3 839.9H353.9" stroke="#2a2aff" stroke-width="1.3" stroke-dasharray="1.7 1.95"/>
<text transform="translate(358.9 842.6) scale(1.14 1)" font-size="9.8" fill="#111">S+P</text>
<path d="M336.7 868.2h6.6m4.5 0h6.2" stroke="#ff2020" stroke-width="1.3"/>
<text transform="translate(358.9 869.7) scale(1.14 1)" font-size="9.8" fill="#111">S+P+D</text>
<ellipse cx="345.4" cy="894" rx="3.2" ry="3.0" fill="#000"/>
<text transform="translate(358.9 897.1) scale(1.14 1)" font-size="9.8" fill="#111">Exp</text>
</g>
<g>
<clipPath id="c42"><rect x="474.4" y="797.9" width="355.7" height="188.7"/></clipPath>
<g stroke="#949494" stroke-width="0.85" fill="none">
<rect x="474.8" y="798.3" width="354.9" height="187.9"/>
<path d="M474.8 986.2v-4.2M474.8 798.3v4.2M486.1 986.2v-2.5M486.1 798.3v2.5M497.4 986.2v-2.5M497.4 798.3v2.5M508.7 986.2v-2.5M508.7 798.3v2.5M520 986.2v-2.5M520 798.3v2.5M531.3 986.2v-4.2M531.3 798.3v4.2M542.6 986.2v-2.5M542.6 798.3v2.5M553.9 986.2v-2.5M553.9 798.3v2.5M565.2 986.2v-2.5M565.2 798.3v2.5M576.5 986.2v-2.5M576.5 798.3v2.5M587.8 986.2v-4.2M587.8 798.3v4.2M599.1 986.2v-2.5M599.1 798.3v2.5M610.4 986.2v-2.5M610.4 798.3v2.5M621.7 986.2v-2.5M621.7 798.3v2.5M633 986.2v-2.5M633 798.3v2.5M644.3 986.2v-4.2M644.3 798.3v4.2M655.6 986.2v-2.5M655.6 798.3v2.5M666.9 986.2v-2.5M666.9 798.3v2.5M678.2 986.2v-2.5M678.2 798.3v2.5M689.5 986.2v-2.5M689.5 798.3v2.5M700.8 986.2v-4.2M700.8 798.3v4.2M712.1 986.2v-2.5M712.1 798.3v2.5M723.4 986.2v-2.5M723.4 798.3v2.5M734.7 986.2v-2.5M734.7 798.3v2.5M746 986.2v-2.5M746 798.3v2.5M757.3 986.2v-4.2M757.3 798.3v4.2M768.6 986.2v-2.5M768.6 798.3v2.5M779.9 986.2v-2.5M779.9 798.3v2.5M791.2 986.2v-2.5M791.2 798.3v2.5M802.5 986.2v-2.5M802.5 798.3v2.5M813.8 986.2v-4.2M813.8 798.3v4.2M825.1 986.2v-2.5M825.1 798.3v2.5M474.8 979.39h4.2M829.7 979.39h-4.2M474.8 973.16h2.4M829.7 973.16h-2.4M474.8 967.89h2.4M829.7 967.89h-2.4M474.8 963.33h2.4M829.7 963.33h-2.4M474.8 959.3h2.4M829.7 959.3h-2.4M474.8 955.7h4.2M829.7 955.7h-4.2M474.8 932.01h3.3M829.7 932.01h-3.3M474.8 918.15h3.3M829.7 918.15h-3.3M474.8 908.32h3.3M829.7 908.32h-3.3M474.8 900.69h4.2M829.7 900.69h-4.2M474.8 894.46h2.4M829.7 894.46h-2.4M474.8 889.19h2.4M829.7 889.19h-2.4M474.8 884.63h2.4M829.7 884.63h-2.4M474.8 880.6h2.4M829.7 880.6h-2.4M474.8 877h4.2M829.7 877h-4.2M474.8 853.31h3.3M829.7 853.31h-3.3M474.8 839.45h3.3M829.7 839.45h-3.3M474.8 829.62h3.3M829.7 829.62h-3.3M474.8 821.99h4.2M829.7 821.99h-4.2M474.8 815.76h2.4M829.7 815.76h-2.4M474.8 810.49h2.4M829.7 810.49h-2.4M474.8 805.93h2.4M829.7 805.93h-2.4M474.8 801.9h2.4M829.7 801.9h-2.4M474.8 798.3h4.2M829.7 798.3h-4.2" stroke="#757575" stroke-width="0.65"/>
</g>
<g clip-path="url(#c42)" fill="none" stroke-linejoin="round">
<path d="M498.2 791.7L498.4 792.9L498.6 794.1L498.8 795.3L499.1 796.4L499.3 797.6L499.5 798.8L499.7 800.0L499.9 801.2L500.1 802.4L500.3 803.6L500.6 804.7L500.8 805.9L501.0 807.1L501.2 808.3L501.5 809.5L501.7 810.7L501.9 811.8L502.2 813.0L502.4 814.2L502.7 815.4L502.9 816.6L503.1 817.7L503.4 818.9L503.6 820.1L503.9 821.3L504.1 822.4L504.4 823.6L504.7 824.8L504.9 826.0L505.2 827.2L505.4 828.3L505.7 829.5L506.0 830.7L506.3 831.8L506.5 833.0L506.8 834.2L507.1 835.4L507.4 836.5L507.7 837.7L507.9 838.9L508.2 840.0L508.5 841.2L508.8 842.4L509.1 843.5L509.4 844.7L509.7 845.9L510.0 847.0L510.3 848.2L510.7 849.4L511.0 850.5L511.3 851.7L511.6 852.9L511.9 854.0L512.3 855.2L512.6 856.3L512.9 857.5L513.3 858.6L513.6 859.8L514.0 861.0L514.3 862.1L514.7 863.3L515.0 864.4L515.4 865.6L515.7 866.7L516.1 867.9L516.5 869.0L516.8 870.1L517.2 871.3L517.6 872.4L518.0 873.6L518.4 874.7L518.8 875.9L519.2 877.0L519.6 878.1L520.0 879.3L520.4 880.4L520.8 881.5L521.2 882.7L521.6 883.8L522.0 884.9L522.5 886.0L522.9 887.2L523.4 888.3L523.8 889.4L524.3 890.5L524.7 891.6L525.2 892.7L525.6 893.9L526.1 895.0L526.6 896.1L527.1 897.2L527.6 898.3L528.1 899.4L528.6 900.5L529.1 901.6L529.6 902.7L530.1 903.7L530.6 904.8L531.1 905.9L531.7 907.0L532.2 908.1L532.8 909.1L533.3 910.2L533.9 911.3L534.5 912.3L535.1 913.4L535.6 914.4L536.2 915.5L536.8 916.5L537.5 917.5L538.1 918.6L538.7 919.6L539.4 920.6L540.0 921.6L540.7 922.6L541.3 923.7L542.0 924.6L542.7 925.6L543.4 926.6L544.1 927.6L544.8 928.6L545.5 929.5L546.3 930.5L547.0 931.4L547.8 932.4L548.5 933.3L549.3 934.2L550.1 935.1L550.9 936.0L551.7 936.9L552.5 937.8L553.4 938.7L554.2 939.5L555.1 940.4L556.0 941.2L556.8 942.0L557.7 942.8L558.6 943.6L559.5 944.4L560.5 945.2L561.4 945.9L562.3 946.7L563.3 947.4L564.3 948.1L565.2 948.8L566.2 949.5L567.2 950.2L568.2 950.9L569.3 951.5L570.3 952.1L571.3 952.7L572.4 953.4L573.4 953.9L574.5 954.5L575.5 955.1L576.6 955.6L577.7 956.1L578.8 956.6L579.9 957.1L581.0 957.6L582.1 958.1L583.2 958.6L584.3 959.0L585.5 959.4L586.6 959.8L587.7 960.2L588.9 960.6L590.0 961.0L591.2 961.4L592.3 961.7L593.5 962.1L594.6 962.4L595.8 962.7L596.9 963.0L598.1 963.4L599.3 963.6L600.4 963.9L601.6 964.2L602.8 964.5L604.0 964.7L605.1 965.0L606.3 965.3L607.5 965.5L608.7 965.7L609.9 966.0L611.0 966.2L612.2 966.4L613.4 966.6L614.6 966.9L615.8 967.1L617.0 967.3L618.2 967.5L619.4 967.7L620.5 967.9L621.7 968.0L622.9 968.2L624.1 968.4L625.3 968.6L626.5 968.8L627.7 968.9L628.9 969.1L630.1 969.2L631.3 969.4L632.5 969.6L633.7 969.7L634.9 969.9L636.1 970.0L637.2 970.1L638.4 970.3L639.6 970.4L640.8 970.5L642.0 970.7L643.2 970.8L644.4 970.9L645.6 971.1L646.8 971.2L648.0 971.3L649.2 971.4L650.4 971.5L651.6 971.6L652.8 971.7L654.0 971.8L655.2 972.0L656.4 972.1L657.6 972.2L658.8 972.3L660.0 972.4L661.2 972.5L662.4 972.5L663.6 972.6L664.8 972.7L666.0 972.8L667.2 972.9L668.4 973.0L669.6 973.1L670.8 973.2L672.0 973.2L673.2 973.3L674.4 973.4L675.6 973.5L676.8 973.6L678.0 973.6L679.2 973.7L680.4 973.8L681.7 973.9L682.9 973.9L684.1 974.0L685.3 974.1L686.5 974.2L687.7 974.2L688.9 974.3L690.1 974.4L691.3 974.4L692.5 974.5L693.7 974.6L694.9 974.6L696.1 974.7L697.3 974.7L698.5 974.8L699.7 974.9L700.9 974.9L702.1 975.0L703.3 975.0L704.5 975.1L705.7 975.1L706.9 975.2L708.1 975.3L709.3 975.3L710.5 975.4L711.7 975.4L712.9 975.5L714.1 975.5L715.3 975.6L716.5 975.6L717.7 975.7L718.9 975.7L720.1 975.8L721.4 975.8L722.6 975.9L723.8 975.9L725.0 976.0L726.2 976.0L727.4 976.1L728.6 976.1L729.8 976.1L731.0 976.2L732.2 976.2L733.4 976.3L734.6 976.3L735.8 976.4L737.0 976.4L738.2 976.4L739.4 976.5L740.6 976.5L741.8 976.6L743.0 976.6L744.2 976.6L745.4 976.7L746.6 976.7L747.8 976.7L749.0 976.8L750.2 976.8L751.4 976.8L752.6 976.9L753.9 976.9L755.1 976.9L756.3 977.0L757.5 977.0L758.7 977.0L759.9 977.0L761.1 977.1L762.3 977.1L763.5 977.1L764.7 977.2L765.9 977.2L767.1 977.2L768.3 977.2L769.5 977.3L770.7 977.3L771.9 977.3L773.1 977.3L774.3 977.3L775.5 977.4L776.7 977.4L777.9 977.4L779.1 977.4L780.3 977.4L781.6 977.4L782.8 977.4L784.0 977.5L785.2 977.5L786.4 977.5L787.6 977.5L788.8 977.5L790.0 977.5L791.2 977.5L792.4 977.5L793.6 977.5L794.8 977.5L796.0 977.5L797.2 977.5L798.4 977.5L799.6 977.5L800.8 977.5L802.0 977.5L803.2 977.5L804.4 977.5L805.6 977.5L806.8 977.5L808.0 977.5L809.3 977.5L810.5 977.5L811.7 977.5L812.9 977.4L814.1 977.4L815.3 977.4L816.5 977.4L817.7 977.4L818.9 977.4L820.1 977.3L821.3 977.3L822.5 977.3L823.7 977.3L824.9 977.2L826.1 977.2L827.3 977.2L828.5 977.1L829.7 977.1L830.9 977.1" stroke="#000" stroke-width="1.9"/>
<path d="M498.2 793.2L498.4 794.4L498.6 795.5L498.8 796.7L499.1 797.9L499.3 799.1L499.5 800.3L499.7 801.5L499.9 802.7L500.1 803.8L500.3 805.0L500.6 806.2L500.8 807.4L501.0 808.6L501.2 809.8L501.5 810.9L501.7 812.1L501.9 813.3L502.2 814.5L502.4 815.7L502.6 816.8L502.9 818.0L503.1 819.2L503.3 820.4L503.6 821.6L503.8 822.7L504.1 823.9L504.3 825.1L504.6 826.3L504.8 827.5L505.1 828.6L505.3 829.8L505.6 831.0L505.8 832.2L506.1 833.3L506.3 834.5L506.6 835.7L506.9 836.9L507.1 838.0L507.4 839.2L507.7 840.4L507.9 841.6L508.2 842.7L508.5 843.9L508.8 845.1L509.1 846.3L509.3 847.4L509.6 848.6L509.9 849.8L510.2 850.9L510.5 852.1L510.8 853.3L511.1 854.4L511.4 855.6L511.7 856.8L512.0 857.9L512.3 859.1L512.6 860.3L512.9 861.4L513.2 862.6L513.5 863.8L513.8 864.9L514.2 866.1L514.5 867.2L514.8 868.4L515.1 869.6L515.5 870.7L515.8 871.9L516.2 873.0L516.5 874.2L516.8 875.3L517.2 876.5L517.5 877.6L517.9 878.8L518.3 879.9L518.6 881.1L519.0 882.2L519.4 883.4L519.7 884.5L520.1 885.7L520.5 886.8L520.9 887.9L521.3 889.1L521.7 890.2L522.1 891.3L522.5 892.5L522.9 893.6L523.3 894.7L523.8 895.9L524.2 897.0L524.6 898.1L525.1 899.2L525.5 900.3L526.0 901.5L526.4 902.6L526.9 903.7L527.4 904.8L527.9 905.9L528.4 907.0L528.9 908.1L529.4 909.2L529.9 910.3L530.4 911.3L530.9 912.4L531.5 913.5L532.0 914.6L532.6 915.6L533.1 916.7L533.7 917.8L534.3 918.8L534.9 919.9L535.5 920.9L536.1 921.9L536.7 923.0L537.4 924.0L538.0 925.0L538.7 926.0L539.3 927.0L540.0 928.0L540.7 929.0L541.4 930.0L542.1 931.0L542.8 931.9L543.6 932.9L544.3 933.8L545.1 934.8L545.8 935.7L546.6 936.6L547.4 937.5L548.2 938.4L549.0 939.3L549.9 940.2L550.7 941.0L551.6 941.9L552.5 942.7L553.3 943.5L554.2 944.3L555.2 945.1L556.1 945.8L557.0 946.6L558.0 947.3L559.0 948.0L559.9 948.7L560.9 949.4L561.9 950.1L563.0 950.7L564.0 951.3L565.1 951.9L566.1 952.5L567.2 953.0L568.3 953.6L569.4 954.1L570.5 954.6L571.6 955.0L572.7 955.5L573.8 955.9L574.9 956.3L576.1 956.7L577.2 957.0L578.4 957.4L579.6 957.7L580.7 958.0L581.9 958.2L583.1 958.5L584.3 958.7L585.4 958.9L586.6 959.1L587.8 959.3L589.0 959.5L590.2 959.7L591.4 959.8L592.6 959.9L593.8 960.0L595.0 960.1L596.2 960.2L597.4 960.3L598.6 960.4L599.8 960.4L601.0 960.5L602.2 960.5L603.4 960.6L604.6 960.6L605.8 960.6L607.0 960.6L608.2 960.7L609.4 960.7L610.6 960.7L611.8 960.7L613.1 960.7L614.3 960.7L615.5 960.7L616.7 960.7L617.9 960.7L619.1 960.7L620.3 960.7L621.5 960.7L622.7 960.7L623.9 960.7L625.1 960.7L626.3 960.7L627.5 960.7L628.7 960.6L629.9 960.6L631.1 960.6L632.3 960.6L633.5 960.6L634.7 960.6L635.9 960.6L637.1 960.6L638.3 960.6L639.5 960.6L640.7 960.6L642.0 960.6L643.2 960.6L644.4 960.6L645.6 960.6L646.8 960.6L648.0 960.6L649.2 960.6L650.4 960.6L651.6 960.6L652.8 960.6L654.0 960.6L655.2 960.7L656.4 960.7L657.6 960.7L658.8 960.7L660.0 960.8L661.2 960.8L662.4 960.8L663.6 960.9L664.8 960.9L666.0 961.0L667.2 961.0L668.4 961.0L669.6 961.1L670.8 961.1L672.0 961.2L673.3 961.2L674.5 961.3L675.7 961.3L676.9 961.4L678.1 961.4L679.3 961.5L680.5 961.5L681.7 961.6L682.9 961.6L684.1 961.7L685.3 961.7L686.5 961.8L687.7 961.9L688.9 961.9L690.1 962.0L691.3 962.0L692.5 962.1L693.7 962.1L694.9 962.2L696.1 962.2L697.3 962.3L698.5 962.3L699.7 962.4L700.9 962.4L702.1 962.5L703.3 962.5L704.5 962.6L705.7 962.6L706.9 962.7L708.1 962.7L709.3 962.8L710.5 962.8L711.7 962.8L713.0 962.9L714.2 962.9L715.4 962.9L716.6 963.0L717.8 963.0L719.0 963.0L720.2 963.1L721.4 963.1L722.6 963.1L723.8 963.1L725.0 963.1L726.2 963.2L727.4 963.2L728.6 963.2L729.8 963.2L731.0 963.2L732.2 963.2L733.4 963.3L734.6 963.3L735.8 963.3L737.0 963.3L738.2 963.3L739.4 963.3L740.6 963.3L741.8 963.3L743.1 963.3L744.3 963.3L745.5 963.3L746.7 963.3L747.9 963.3L749.1 963.3L750.3 963.3L751.5 963.3L752.7 963.3L753.9 963.3L755.1 963.3L756.3 963.3L757.5 963.3L758.7 963.2L759.9 963.2L761.1 963.2L762.3 963.2L763.5 963.2L764.7 963.2L765.9 963.2L767.1 963.2L768.3 963.1L769.5 963.1L770.7 963.1L772.0 963.1L773.2 963.1L774.4 963.0L775.6 963.0L776.8 963.0L778.0 963.0L779.2 963.0L780.4 962.9L781.6 962.9L782.8 962.9L784.0 962.9L785.2 962.8L786.4 962.8L787.6 962.8L788.8 962.8L790.0 962.7L791.2 962.7L792.4 962.7L793.6 962.6L794.8 962.6L796.0 962.6L797.2 962.5L798.4 962.5L799.6 962.5L800.8 962.4L802.0 962.4L803.2 962.4L804.5 962.3L805.7 962.3L806.9 962.3L808.1 962.2L809.3 962.2L810.5 962.2L811.7 962.1L812.9 962.1L814.1 962.0L815.3 962.0L816.5 962.0L817.7 961.9L818.9 961.9L820.1 961.8L821.3 961.8L822.5 961.8L823.7 961.7L824.9 961.7L826.1 961.6L827.3 961.6L828.5 961.5L829.7 961.5L830.9 961.5" stroke="#ff0000" stroke-width="2.2" stroke-dasharray="6.8 6.2"/>
</g>
<g stroke="#222" stroke-width="0.9" fill="#000">
<path d="M573.4 943.2V954.4M569.8 943.2H577M569.8 954.4H577" stroke="#222" fill="none"/>
<ellipse cx="573.4" cy="949.6" rx="2.1" ry="1.95" stroke="none"/>
<path d="M593.1 949.6V963.5M589.5 949.6H596.7M589.5 963.5H596.7" stroke="#222" fill="none"/>
<ellipse cx="593.1" cy="957.3" rx="2.1" ry="1.95" stroke="none"/>
<path d="M612.7 953V968.9M609.1 953H616.3M609.1 968.9H616.3" stroke="#222" fill="none"/>
<ellipse cx="612.7" cy="961.3" rx="2.1" ry="1.95" stroke="none"/>
<path d="M632.2 955.9V973.7M628.6 955.9H635.8M628.6 973.7H635.8" stroke="#222" fill="none"/>
<ellipse cx="632.2" cy="965.2" rx="2.1" ry="1.95" stroke="none"/>
<path d="M652.3 956.3V974.1M648.7 956.3H655.9M648.7 974.1H655.9" stroke="#222" fill="none"/>
<ellipse cx="652.3" cy="965.2" rx="2.1" ry="1.95" stroke="none"/>
<path d="M671.5 958.3V971.4M667.9 958.3H675.1M667.9 971.4H675.1" stroke="#222" fill="none"/>
<ellipse cx="671.5" cy="965" rx="2.1" ry="1.95" stroke="none"/>
<path d="M691.6 956.3V968.9M688 956.3H695.2M688 968.9H695.2" stroke="#222" fill="none"/>
<ellipse cx="691.6" cy="962.7" rx="2.1" ry="1.95" stroke="none"/>
<path d="M711.1 953.4V965.6M707.5 953.4H714.7M707.5 965.6H714.7" stroke="#444" fill="none"/>
<ellipse cx="711.1" cy="959.8" rx="2.1" ry="1.95" stroke="none"/>
<path d="M730.7 953.8V961.5M727.1 953.8H734.3M727.1 961.5H734.3" stroke="#444" fill="none"/>
<ellipse cx="730.7" cy="957.7" rx="2.1" ry="1.95" stroke="none"/>
</g>
<text transform="translate(474.8 1000.5) scale(1.14 1)" font-size="12.4" font-weight="bold" font-style="normal" text-anchor="middle" fill="#000">0.0</text>
<text transform="translate(531.3 1000.5) scale(1.14 1)" font-size="12.4" font-weight="bold" font-style="normal" text-anchor="middle" fill="#000">0.5</text>
<text transform="translate(587.8 1000.5) scale(1.14 1)" font-size="12.4" font-weight="bold" font-style="normal" text-anchor="middle" fill="#000">1.0</text>
<text transform="translate(644.3 1000.5) scale(1.14 1)" font-size="12.4" font-weight="bold" font-style="normal" text-anchor="middle" fill="#000">1.5</text>
<text transform="translate(700.8 1000.5) scale(1.14 1)" font-size="12.4" font-weight="bold" font-style="normal" text-anchor="middle" fill="#000">2.0</text>
<text transform="translate(757.3 1000.5) scale(1.14 1)" font-size="12.4" font-weight="bold" font-style="normal" text-anchor="middle" fill="#000">2.5</text>
<text transform="translate(813.8 1000.5) scale(1.14 1)" font-size="12.4" font-weight="bold" font-style="normal" text-anchor="middle" fill="#000">3.0</text>
<text transform="translate(471.3 803) scale(1.14 1)" font-size="12.4" font-weight="bold" font-style="normal" text-anchor="end" fill="#000">10</text>
<text transform="translate(471.3 826.69) scale(1.14 1)" font-size="12.4" font-weight="bold" font-style="normal" text-anchor="end" fill="#000">5</text>
<text transform="translate(471.3 881.7) scale(1.14 1)" font-size="12.4" font-weight="bold" font-style="normal" text-anchor="end" fill="#000">1</text>
<text transform="translate(471.3 905.39) scale(1.14 1)" font-size="12.4" font-weight="bold" font-style="normal" text-anchor="end" fill="#000">0.50</text>
<text transform="translate(471.3 960.4) scale(1.14 1)" font-size="12.4" font-weight="bold" font-style="normal" text-anchor="end" fill="#000">0.10</text>
<text transform="translate(471.3 984.09) scale(1.14 1)" font-size="12.4" font-weight="bold" font-style="normal" text-anchor="end" fill="#000">0.05</text>
<text transform="translate(604.65 789) scale(1.14 1)" font-size="12.2" font-weight="bold" fill="#000"><tspan font-style="italic">E</tspan><tspan font-size="8.7" dy="1.9" dx="0.2" letter-spacing="0.1">Lab</tspan><tspan dy="-1.9" dx="-0.3">=2.94 MeV</tspan></text>
<g font-size="12.2" font-weight="bold" fill="#000">
<text transform="translate(622.95 1020.8) scale(0.98 1)" font-style="italic">&#952;</text>
<text transform="translate(629.35 1022.4) scale(1.14 1)" font-size="9.2">CM</text>
<text transform="translate(646.05 1020.8) scale(1.11 1)">(Rad)</text>
</g>
<text transform="translate(433.5 892.75) rotate(-90) scale(1 1.1)" font-size="12.0" font-weight="bold" text-anchor="middle" fill="#000">d<tspan font-style="italic">&#963;</tspan>/d&#937;(Barn/sr)</text>
<path d="M755 813.5H767.3" stroke="#111" stroke-width="1.0"/>
<text transform="translate(774.4 815.7) scale(1.14 1)" font-size="9.3" fill="#111">3<tspan font-style="italic">S</tspan><tspan font-size="6.8" dy="1.6">1</tspan></text>
<path d="M752.2 841.3h5.8m6.2 0h5.8" stroke="#ff3c3c" stroke-width="1.3"/>
<text transform="translate(774.4 843.3) scale(1.17 1)" font-size="9.3" fill="#111">3<tspan font-style="italic">S</tspan><tspan font-size="6.8" dy="1.6">1</tspan><tspan dy="-1.6">+3</tspan><tspan font-style="italic">D</tspan><tspan font-size="6.8" dy="1.6">3</tspan></text>
<ellipse cx="760.9" cy="867.3" rx="3.2" ry="3.0" fill="#000"/>
<text transform="translate(774.4 870.2) scale(1.14 1)" font-size="9.6" fill="#111">Exp</text>
</g>
</svg></body></html>
